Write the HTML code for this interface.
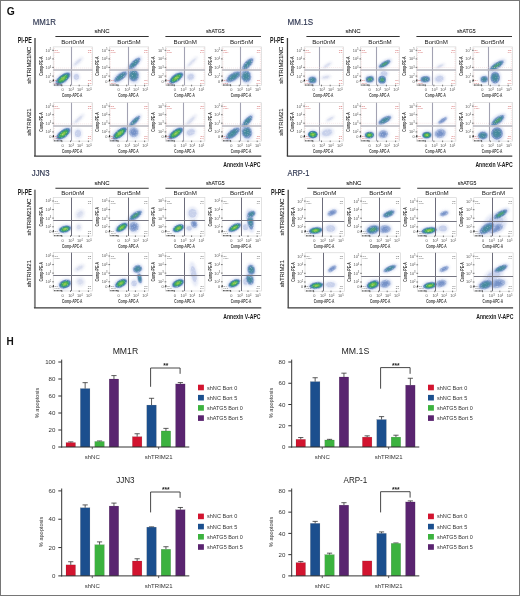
<!DOCTYPE html>
<html><head><meta charset="utf-8"><style>
html,body{margin:0;padding:0;background:#fff;}
svg{display:block;will-change:transform;font-family:"Liberation Sans", sans-serif;}
</style></head><body>
<svg width="520" height="596" viewBox="0 0 520 596">
<defs>
<filter id="b1" x="-50%" y="-50%" width="200%" height="200%"><feGaussianBlur stdDeviation="0.6"/></filter>
<filter id="b2" x="-50%" y="-50%" width="200%" height="200%"><feGaussianBlur stdDeviation="1.2"/></filter>
<filter id="grain" x="-10%" y="-10%" width="120%" height="120%"><feTurbulence type="fractalNoise" baseFrequency="0.8" numOctaves="2" seed="7" result="n"/><feColorMatrix in="n" type="matrix" values="0 0 0 0 0  0 0 0 0 0  0 0 0 0 0  1.1 0 0 0 0.5" result="m"/><feComposite in="SourceGraphic" in2="m" operator="in" result="c"/><feGaussianBlur in="c" stdDeviation="0.25"/></filter>
</defs>
<rect x="0.5" y="0.5" width="519" height="595" fill="#fff" stroke="#767676" stroke-width="1"/>
<text x="6.70" y="15.30" font-size="10.3" fill="#111" font-weight="bold" >G</text>
<text x="6.50" y="344.60" font-size="10.0" fill="#111" font-weight="bold" >H</text>
<text x="32.80" y="24.70" font-size="8.5" fill="#2d3550" textLength="23.10" lengthAdjust="spacingAndGlyphs" stroke="#2d3550" stroke-width="0.15">MM1R</text>
<text x="102.10" y="32.90" font-size="6" fill="#222" text-anchor="middle" textLength="15.10" lengthAdjust="spacingAndGlyphs" stroke="#222" stroke-width="0.1">shNC</text>
<text x="215.30" y="33.00" font-size="6" fill="#222" text-anchor="middle" textLength="18.60" lengthAdjust="spacingAndGlyphs" stroke="#222" stroke-width="0.1">shATG5</text>
<line x1="55.40" y1="36.50" x2="148.70" y2="36.50" stroke="#333" stroke-width="1.1" />
<line x1="165.40" y1="36.50" x2="261.00" y2="36.50" stroke="#333" stroke-width="1.1" />
<text x="72.85" y="43.60" font-size="6" fill="#222" text-anchor="middle" textLength="23.40" lengthAdjust="spacingAndGlyphs" >Bort0nM</text>
<text x="129.05" y="43.60" font-size="6" fill="#222" text-anchor="middle" textLength="23.40" lengthAdjust="spacingAndGlyphs" >Bort5nM</text>
<text x="185.25" y="43.60" font-size="6" fill="#222" text-anchor="middle" textLength="23.40" lengthAdjust="spacingAndGlyphs" >Bort0nM</text>
<text x="241.65" y="43.60" font-size="6" fill="#222" text-anchor="middle" textLength="23.40" lengthAdjust="spacingAndGlyphs" >Bort5nM</text>
<text x="17.80" y="42.90" font-size="8.4" fill="#1a1a1a" font-weight="bold" textLength="14.00" lengthAdjust="spacingAndGlyphs" >PI-PE</text>
<path d="M35.00,38.00V156.10" fill="none" stroke="#7c7c7c" stroke-width="1.9"/>
<path d="M34.05,156.20H261.30" fill="none" stroke="#3a3a3a" stroke-width="1.25"/>
<text x="31.10" y="65.30" font-size="6" fill="#333" text-anchor="middle" textLength="37.00" lengthAdjust="spacingAndGlyphs" transform="rotate(-90 31.10 65.30)" stroke="#333" stroke-width="0.12">shTRIM21NC</text>
<text x="31.10" y="122.00" font-size="6" fill="#333" text-anchor="middle" textLength="27.30" lengthAdjust="spacingAndGlyphs" transform="rotate(-90 31.10 122.00)" stroke="#333" stroke-width="0.12">shTRIM21</text>
<text x="223.30" y="167.00" font-size="7.3" fill="#1a1a1a" font-weight="bold" textLength="37.20" lengthAdjust="spacingAndGlyphs" >Annexin V-APC</text>
<rect x="53.20" y="46.90" width="39.3" height="38.4" fill="#fff" stroke="#cfcfcf" stroke-width="0.6"/>
<g filter="url(#grain)">
<ellipse cx="77.76" cy="61.88" rx="7.07" ry="2.50" fill="#e6e9f4" opacity="0.9" transform="rotate(-42 77.76 61.88)" filter="url(#b2)"/>
<ellipse cx="77.76" cy="61.88" rx="4.13" ry="1.34" fill="#d2d8ec" opacity="0.7" transform="rotate(-42 77.76 61.88)" filter="url(#b1)"/>
<ellipse cx="76.39" cy="76.85" rx="3.93" ry="4.49" fill="#dfe4f4" opacity="0.8" transform="rotate(0 76.39 76.85)" filter="url(#b2)"/>
<ellipse cx="76.39" cy="76.85" rx="2.67" ry="2.94" fill="#b4c0e4" opacity="0.6" transform="rotate(0 76.39 76.85)" filter="url(#b1)"/>
<ellipse cx="63.03" cy="78.58" rx="10.81" ry="5.11" fill="#c3cfec" opacity="0.65" transform="rotate(-37 63.03 78.58)" filter="url(#b2)"/>
<ellipse cx="63.03" cy="78.58" rx="8.65" ry="3.83" fill="#4f78b8" opacity="0.9" transform="rotate(-37 63.03 78.58)" filter="url(#b1)"/>
<ellipse cx="63.03" cy="78.58" rx="7.09" ry="2.99" fill="#2f8c93" opacity="0.95" transform="rotate(-37 63.03 78.58)" filter="url(#b1)"/>
<ellipse cx="63.03" cy="78.58" rx="5.19" ry="2.12" fill="#49b24e" opacity="0.95" transform="rotate(-37 63.03 78.58)" filter="url(#b1)"/>
<ellipse cx="63.03" cy="78.58" rx="2.59" ry="1.09" fill="#a8d04c" opacity="0.8" transform="rotate(-37 63.03 78.58)" filter="url(#b1)"/>
</g>
<path d="M54.10,84.30V47.80M91.60,47.80V84.30" fill="none" stroke="#e6a0a0" stroke-width="0.45" stroke-dasharray="1 1.2" opacity="0.8"/>
<line x1="71.50" y1="46.90" x2="71.50" y2="85.30" stroke="#a2a2b2" stroke-width="1.1" />
<line x1="53.20" y1="70.00" x2="92.50" y2="70.00" stroke="#b6b6be" stroke-width="1.6" />
<path d="M54.20,68.00H91.50" stroke="#ecc4c4" stroke-width="0.4" stroke-dasharray="1 1"/>
<path d="M54.20,85.00H62.20" stroke="#111" stroke-width="0.9" stroke-dasharray="0.9 0.5"/>
<path d="M53.40,79.50V81.10" stroke="#111" stroke-width="1.1"/>
<text x="54.50" y="50.80" font-size="2.5" fill="#cf5a5a" >Q1</text>
<text x="54.50" y="53.20" font-size="2.5" fill="#cf5a5a" textLength="5.00" lengthAdjust="spacingAndGlyphs" >0.000</text>
<text x="91.20" y="50.80" font-size="2.5" fill="#cf5a5a" text-anchor="end" >Q2</text>
<text x="91.20" y="53.20" font-size="2.5" fill="#cf5a5a" text-anchor="end" >1.0</text>
<text x="54.50" y="81.10" font-size="2.5" fill="#cf5a5a" >Q4</text>
<text x="54.50" y="83.50" font-size="2.5" fill="#cf5a5a" >90.0</text>
<text x="91.20" y="81.10" font-size="2.5" fill="#cf5a5a" text-anchor="end" >Q3</text>
<text x="91.20" y="83.50" font-size="2.5" fill="#cf5a5a" text-anchor="end" >5.0</text>
<line x1="52.20" y1="50.30" x2="53.90" y2="50.30" stroke="#444" stroke-width="0.7" />
<text x="51.30" y="51.70" font-size="3.9" fill="#555" text-anchor="end" >10<tspan dy='-1.3' font-size='2.6'>5</tspan></text>
<line x1="52.20" y1="58.90" x2="53.90" y2="58.90" stroke="#444" stroke-width="0.7" />
<text x="51.30" y="60.30" font-size="3.9" fill="#555" text-anchor="end" >10<tspan dy='-1.3' font-size='2.6'>4</tspan></text>
<line x1="52.20" y1="67.40" x2="53.90" y2="67.40" stroke="#444" stroke-width="0.7" />
<text x="51.30" y="68.80" font-size="3.9" fill="#555" text-anchor="end" >10<tspan dy='-1.3' font-size='2.6'>3</tspan></text>
<line x1="52.20" y1="76.10" x2="53.90" y2="76.10" stroke="#444" stroke-width="0.7" />
<text x="51.30" y="77.50" font-size="3.9" fill="#555" text-anchor="end" >10<tspan dy='-1.3' font-size='2.6'>2</tspan></text>
<line x1="52.20" y1="81.10" x2="53.90" y2="81.10" stroke="#444" stroke-width="0.7" />
<text x="51.30" y="82.50" font-size="3.9" fill="#555" text-anchor="end" >0</text>
<line x1="61.90" y1="84.70" x2="61.90" y2="86.30" stroke="#444" stroke-width="0.7" />
<text x="62.50" y="91.20" font-size="3.9" fill="#555" text-anchor="middle" >0</text>
<line x1="70.50" y1="84.70" x2="70.50" y2="86.30" stroke="#444" stroke-width="0.7" />
<text x="71.10" y="91.20" font-size="3.9" fill="#555" text-anchor="middle" >10<tspan dy='-1.3' font-size='2.6'>3</tspan></text>
<line x1="79.20" y1="84.70" x2="79.20" y2="86.30" stroke="#444" stroke-width="0.7" />
<text x="79.80" y="91.20" font-size="3.9" fill="#555" text-anchor="middle" >10<tspan dy='-1.3' font-size='2.6'>4</tspan></text>
<line x1="88.40" y1="84.70" x2="88.40" y2="86.30" stroke="#444" stroke-width="0.7" />
<text x="89.00" y="91.20" font-size="3.9" fill="#555" text-anchor="middle" >10<tspan dy='-1.3' font-size='2.6'>5</tspan></text>
<text x="72.20" y="96.90" font-size="4.8" fill="#3a3a3a" text-anchor="middle" font-weight="bold" textLength="20.50" lengthAdjust="spacingAndGlyphs" >Comp-APC-A</text>
<text x="42.90" y="66.10" font-size="4.8" fill="#3a3a3a" text-anchor="middle" font-weight="bold" textLength="19.50" lengthAdjust="spacingAndGlyphs" transform="rotate(-90 42.90 66.10)" >Comp-PE-A</text>
<rect x="109.40" y="46.90" width="39.3" height="38.4" fill="#fff" stroke="#cfcfcf" stroke-width="0.6"/>
<g filter="url(#grain)">
<ellipse cx="133.57" cy="75.32" rx="6.63" ry="8.35" fill="#c8d2ee" opacity="0.7" transform="rotate(-10 133.57 75.32)" filter="url(#b2)"/>
<ellipse cx="133.57" cy="75.32" rx="5.16" ry="6.22" fill="#6688c0" opacity="0.85" transform="rotate(-10 133.57 75.32)" filter="url(#b1)"/>
<ellipse cx="133.57" cy="75.32" rx="3.83" ry="4.32" fill="#4a8aa2" opacity="0.85" transform="rotate(-10 133.57 75.32)" filter="url(#b1)"/>
<ellipse cx="133.57" cy="75.32" rx="2.21" ry="2.30" fill="#3d8a94" opacity="0.6" transform="rotate(-10 133.57 75.32)" filter="url(#b1)"/>
<ellipse cx="134.36" cy="63.64" rx="10.08" ry="3.90" fill="#c8d2ee" opacity="0.7" transform="rotate(-45 134.36 63.64)" filter="url(#b2)"/>
<ellipse cx="134.36" cy="63.64" rx="7.84" ry="2.90" fill="#6688c0" opacity="0.85" transform="rotate(-45 134.36 63.64)" filter="url(#b1)"/>
<ellipse cx="134.36" cy="63.64" rx="5.82" ry="2.02" fill="#4a8aa2" opacity="0.85" transform="rotate(-45 134.36 63.64)" filter="url(#b1)"/>
<ellipse cx="134.36" cy="63.64" rx="3.36" ry="1.08" fill="#3d8a94" opacity="0.6" transform="rotate(-45 134.36 63.64)" filter="url(#b1)"/>
<ellipse cx="120.60" cy="76.74" rx="10.08" ry="4.45" fill="#c8d2ee" opacity="0.7" transform="rotate(-37 120.60 76.74)" filter="url(#b2)"/>
<ellipse cx="120.60" cy="76.74" rx="7.84" ry="3.32" fill="#6688c0" opacity="0.85" transform="rotate(-37 120.60 76.74)" filter="url(#b1)"/>
<ellipse cx="120.60" cy="76.74" rx="5.82" ry="2.30" fill="#4a8aa2" opacity="0.85" transform="rotate(-37 120.60 76.74)" filter="url(#b1)"/>
<ellipse cx="120.60" cy="76.74" rx="3.36" ry="1.23" fill="#3d8a94" opacity="0.6" transform="rotate(-37 120.60 76.74)" filter="url(#b1)"/>
</g>
<path d="M110.30,84.30V47.80M147.80,47.80V84.30" fill="none" stroke="#e6a0a0" stroke-width="0.45" stroke-dasharray="1 1.2" opacity="0.8"/>
<line x1="128.50" y1="46.90" x2="128.50" y2="85.30" stroke="#a2a2b2" stroke-width="1.1" />
<line x1="109.40" y1="70.00" x2="148.70" y2="70.00" stroke="#b6b6be" stroke-width="1.6" />
<path d="M110.40,68.00H147.70" stroke="#ecc4c4" stroke-width="0.4" stroke-dasharray="1 1"/>
<path d="M110.40,85.00H118.40" stroke="#111" stroke-width="0.9" stroke-dasharray="0.9 0.5"/>
<path d="M109.60,79.50V81.10" stroke="#111" stroke-width="1.1"/>
<text x="110.70" y="50.80" font-size="2.5" fill="#cf5a5a" >Q1</text>
<text x="110.70" y="53.20" font-size="2.5" fill="#cf5a5a" textLength="5.00" lengthAdjust="spacingAndGlyphs" >0.000</text>
<text x="147.40" y="50.80" font-size="2.5" fill="#cf5a5a" text-anchor="end" >Q2</text>
<text x="147.40" y="53.20" font-size="2.5" fill="#cf5a5a" text-anchor="end" >1.0</text>
<text x="110.70" y="81.10" font-size="2.5" fill="#cf5a5a" >Q4</text>
<text x="110.70" y="83.50" font-size="2.5" fill="#cf5a5a" >90.0</text>
<text x="147.40" y="81.10" font-size="2.5" fill="#cf5a5a" text-anchor="end" >Q3</text>
<text x="147.40" y="83.50" font-size="2.5" fill="#cf5a5a" text-anchor="end" >5.0</text>
<line x1="108.40" y1="50.30" x2="110.10" y2="50.30" stroke="#444" stroke-width="0.7" />
<text x="107.50" y="51.70" font-size="3.9" fill="#555" text-anchor="end" >10<tspan dy='-1.3' font-size='2.6'>5</tspan></text>
<line x1="108.40" y1="58.90" x2="110.10" y2="58.90" stroke="#444" stroke-width="0.7" />
<text x="107.50" y="60.30" font-size="3.9" fill="#555" text-anchor="end" >10<tspan dy='-1.3' font-size='2.6'>4</tspan></text>
<line x1="108.40" y1="67.40" x2="110.10" y2="67.40" stroke="#444" stroke-width="0.7" />
<text x="107.50" y="68.80" font-size="3.9" fill="#555" text-anchor="end" >10<tspan dy='-1.3' font-size='2.6'>3</tspan></text>
<line x1="108.40" y1="76.10" x2="110.10" y2="76.10" stroke="#444" stroke-width="0.7" />
<text x="107.50" y="77.50" font-size="3.9" fill="#555" text-anchor="end" >10<tspan dy='-1.3' font-size='2.6'>2</tspan></text>
<line x1="108.40" y1="81.10" x2="110.10" y2="81.10" stroke="#444" stroke-width="0.7" />
<text x="107.50" y="82.50" font-size="3.9" fill="#555" text-anchor="end" >0</text>
<line x1="118.10" y1="84.70" x2="118.10" y2="86.30" stroke="#444" stroke-width="0.7" />
<text x="118.70" y="91.20" font-size="3.9" fill="#555" text-anchor="middle" >0</text>
<line x1="126.70" y1="84.70" x2="126.70" y2="86.30" stroke="#444" stroke-width="0.7" />
<text x="127.30" y="91.20" font-size="3.9" fill="#555" text-anchor="middle" >10<tspan dy='-1.3' font-size='2.6'>3</tspan></text>
<line x1="135.40" y1="84.70" x2="135.40" y2="86.30" stroke="#444" stroke-width="0.7" />
<text x="136.00" y="91.20" font-size="3.9" fill="#555" text-anchor="middle" >10<tspan dy='-1.3' font-size='2.6'>4</tspan></text>
<line x1="144.60" y1="84.70" x2="144.60" y2="86.30" stroke="#444" stroke-width="0.7" />
<text x="145.20" y="91.20" font-size="3.9" fill="#555" text-anchor="middle" >10<tspan dy='-1.3' font-size='2.6'>5</tspan></text>
<text x="128.40" y="96.90" font-size="4.8" fill="#3a3a3a" text-anchor="middle" font-weight="bold" textLength="20.50" lengthAdjust="spacingAndGlyphs" >Comp-APC-A</text>
<text x="99.10" y="66.10" font-size="4.8" fill="#3a3a3a" text-anchor="middle" font-weight="bold" textLength="19.50" lengthAdjust="spacingAndGlyphs" transform="rotate(-90 99.10 66.10)" >Comp-PE-A</text>
<rect x="165.60" y="46.90" width="39.3" height="38.4" fill="#fff" stroke="#cfcfcf" stroke-width="0.6"/>
<g filter="url(#grain)">
<ellipse cx="191.81" cy="62.26" rx="8.35" ry="2.00" fill="#e6e9f4" opacity="0.9" transform="rotate(-45 191.81 62.26)" filter="url(#b2)"/>
<ellipse cx="191.81" cy="62.26" rx="4.87" ry="1.08" fill="#d2d8ec" opacity="0.7" transform="rotate(-45 191.81 62.26)" filter="url(#b1)"/>
<ellipse cx="190.75" cy="76.85" rx="4.91" ry="4.49" fill="#dfe4f4" opacity="0.8" transform="rotate(-30 190.75 76.85)" filter="url(#b2)"/>
<ellipse cx="190.75" cy="76.85" rx="3.34" ry="2.94" fill="#b4c0e4" opacity="0.6" transform="rotate(-30 190.75 76.85)" filter="url(#b1)"/>
<ellipse cx="176.21" cy="78.00" rx="10.32" ry="4.84" fill="#c3cfec" opacity="0.65" transform="rotate(-36 176.21 78.00)" filter="url(#b2)"/>
<ellipse cx="176.21" cy="78.00" rx="8.25" ry="3.63" fill="#4f78b8" opacity="0.9" transform="rotate(-36 176.21 78.00)" filter="url(#b1)"/>
<ellipse cx="176.21" cy="78.00" rx="6.77" ry="2.83" fill="#2f8c93" opacity="0.95" transform="rotate(-36 176.21 78.00)" filter="url(#b1)"/>
<ellipse cx="176.21" cy="78.00" rx="4.95" ry="2.00" fill="#49b24e" opacity="0.95" transform="rotate(-36 176.21 78.00)" filter="url(#b1)"/>
<ellipse cx="176.21" cy="78.00" rx="2.48" ry="1.04" fill="#a8d04c" opacity="0.8" transform="rotate(-36 176.21 78.00)" filter="url(#b1)"/>
</g>
<path d="M166.50,84.30V47.80M204.00,47.80V84.30" fill="none" stroke="#e6a0a0" stroke-width="0.45" stroke-dasharray="1 1.2" opacity="0.8"/>
<line x1="184.50" y1="46.90" x2="184.50" y2="85.30" stroke="#a2a2b2" stroke-width="1.1" />
<line x1="165.60" y1="70.00" x2="204.90" y2="70.00" stroke="#b6b6be" stroke-width="1.6" />
<path d="M166.60,68.00H203.90" stroke="#ecc4c4" stroke-width="0.4" stroke-dasharray="1 1"/>
<path d="M166.60,85.00H174.60" stroke="#111" stroke-width="0.9" stroke-dasharray="0.9 0.5"/>
<path d="M165.80,79.50V81.10" stroke="#111" stroke-width="1.1"/>
<text x="166.90" y="50.80" font-size="2.5" fill="#cf5a5a" >Q1</text>
<text x="166.90" y="53.20" font-size="2.5" fill="#cf5a5a" textLength="5.00" lengthAdjust="spacingAndGlyphs" >0.000</text>
<text x="203.60" y="50.80" font-size="2.5" fill="#cf5a5a" text-anchor="end" >Q2</text>
<text x="203.60" y="53.20" font-size="2.5" fill="#cf5a5a" text-anchor="end" >1.0</text>
<text x="166.90" y="81.10" font-size="2.5" fill="#cf5a5a" >Q4</text>
<text x="166.90" y="83.50" font-size="2.5" fill="#cf5a5a" >90.0</text>
<text x="203.60" y="81.10" font-size="2.5" fill="#cf5a5a" text-anchor="end" >Q3</text>
<text x="203.60" y="83.50" font-size="2.5" fill="#cf5a5a" text-anchor="end" >5.0</text>
<line x1="164.60" y1="50.30" x2="166.30" y2="50.30" stroke="#444" stroke-width="0.7" />
<text x="163.70" y="51.70" font-size="3.9" fill="#555" text-anchor="end" >10<tspan dy='-1.3' font-size='2.6'>5</tspan></text>
<line x1="164.60" y1="58.90" x2="166.30" y2="58.90" stroke="#444" stroke-width="0.7" />
<text x="163.70" y="60.30" font-size="3.9" fill="#555" text-anchor="end" >10<tspan dy='-1.3' font-size='2.6'>4</tspan></text>
<line x1="164.60" y1="67.40" x2="166.30" y2="67.40" stroke="#444" stroke-width="0.7" />
<text x="163.70" y="68.80" font-size="3.9" fill="#555" text-anchor="end" >10<tspan dy='-1.3' font-size='2.6'>3</tspan></text>
<line x1="164.60" y1="76.10" x2="166.30" y2="76.10" stroke="#444" stroke-width="0.7" />
<text x="163.70" y="77.50" font-size="3.9" fill="#555" text-anchor="end" >10<tspan dy='-1.3' font-size='2.6'>2</tspan></text>
<line x1="164.60" y1="81.10" x2="166.30" y2="81.10" stroke="#444" stroke-width="0.7" />
<text x="163.70" y="82.50" font-size="3.9" fill="#555" text-anchor="end" >0</text>
<line x1="174.30" y1="84.70" x2="174.30" y2="86.30" stroke="#444" stroke-width="0.7" />
<text x="174.90" y="91.20" font-size="3.9" fill="#555" text-anchor="middle" >0</text>
<line x1="182.90" y1="84.70" x2="182.90" y2="86.30" stroke="#444" stroke-width="0.7" />
<text x="183.50" y="91.20" font-size="3.9" fill="#555" text-anchor="middle" >10<tspan dy='-1.3' font-size='2.6'>3</tspan></text>
<line x1="191.60" y1="84.70" x2="191.60" y2="86.30" stroke="#444" stroke-width="0.7" />
<text x="192.20" y="91.20" font-size="3.9" fill="#555" text-anchor="middle" >10<tspan dy='-1.3' font-size='2.6'>4</tspan></text>
<line x1="200.80" y1="84.70" x2="200.80" y2="86.30" stroke="#444" stroke-width="0.7" />
<text x="201.40" y="91.20" font-size="3.9" fill="#555" text-anchor="middle" >10<tspan dy='-1.3' font-size='2.6'>5</tspan></text>
<text x="184.60" y="96.90" font-size="4.8" fill="#3a3a3a" text-anchor="middle" font-weight="bold" textLength="20.50" lengthAdjust="spacingAndGlyphs" >Comp-APC-A</text>
<text x="155.30" y="66.10" font-size="4.8" fill="#3a3a3a" text-anchor="middle" font-weight="bold" textLength="19.50" lengthAdjust="spacingAndGlyphs" transform="rotate(-90 155.30 66.10)" >Comp-PE-A</text>
<rect x="222.00" y="46.90" width="39.3" height="38.4" fill="#fff" stroke="#cfcfcf" stroke-width="0.6"/>
<g filter="url(#grain)">
<ellipse cx="245.97" cy="76.08" rx="6.37" ry="8.35" fill="#c8d2ee" opacity="0.7" transform="rotate(-15 245.97 76.08)" filter="url(#b2)"/>
<ellipse cx="245.97" cy="76.08" rx="4.95" ry="6.22" fill="#6688c0" opacity="0.85" transform="rotate(-15 245.97 76.08)" filter="url(#b1)"/>
<ellipse cx="245.97" cy="76.08" rx="3.68" ry="4.32" fill="#4a8aa2" opacity="0.85" transform="rotate(-15 245.97 76.08)" filter="url(#b1)"/>
<ellipse cx="245.97" cy="76.08" rx="2.12" ry="2.30" fill="#3d8a94" opacity="0.6" transform="rotate(-15 245.97 76.08)" filter="url(#b1)"/>
<ellipse cx="247.66" cy="64.18" rx="9.55" ry="4.18" fill="#c8d2ee" opacity="0.7" transform="rotate(-48 247.66 64.18)" filter="url(#b2)"/>
<ellipse cx="247.66" cy="64.18" rx="7.43" ry="3.11" fill="#6688c0" opacity="0.85" transform="rotate(-48 247.66 64.18)" filter="url(#b1)"/>
<ellipse cx="247.66" cy="64.18" rx="5.52" ry="2.16" fill="#4a8aa2" opacity="0.85" transform="rotate(-48 247.66 64.18)" filter="url(#b1)"/>
<ellipse cx="247.66" cy="64.18" rx="3.18" ry="1.15" fill="#3d8a94" opacity="0.6" transform="rotate(-48 247.66 64.18)" filter="url(#b1)"/>
<ellipse cx="233.59" cy="76.78" rx="10.61" ry="5.01" fill="#c8d2ee" opacity="0.7" transform="rotate(-32 233.59 76.78)" filter="url(#b2)"/>
<ellipse cx="233.59" cy="76.78" rx="8.25" ry="3.73" fill="#6688c0" opacity="0.85" transform="rotate(-32 233.59 76.78)" filter="url(#b1)"/>
<ellipse cx="233.59" cy="76.78" rx="6.13" ry="2.59" fill="#4a8aa2" opacity="0.85" transform="rotate(-32 233.59 76.78)" filter="url(#b1)"/>
<ellipse cx="233.59" cy="76.78" rx="3.54" ry="1.38" fill="#3d8a94" opacity="0.6" transform="rotate(-32 233.59 76.78)" filter="url(#b1)"/>
</g>
<path d="M222.90,84.30V47.80M260.40,47.80V84.30" fill="none" stroke="#e6a0a0" stroke-width="0.45" stroke-dasharray="1 1.2" opacity="0.8"/>
<line x1="240.50" y1="46.90" x2="240.50" y2="85.30" stroke="#a2a2b2" stroke-width="1.1" />
<line x1="222.00" y1="70.00" x2="261.30" y2="70.00" stroke="#b6b6be" stroke-width="1.6" />
<path d="M223.00,68.00H260.30" stroke="#ecc4c4" stroke-width="0.4" stroke-dasharray="1 1"/>
<path d="M223.00,85.00H231.00" stroke="#111" stroke-width="0.9" stroke-dasharray="0.9 0.5"/>
<path d="M222.20,79.50V81.10" stroke="#111" stroke-width="1.1"/>
<text x="223.30" y="50.80" font-size="2.5" fill="#cf5a5a" >Q1</text>
<text x="223.30" y="53.20" font-size="2.5" fill="#cf5a5a" textLength="5.00" lengthAdjust="spacingAndGlyphs" >0.000</text>
<text x="260.00" y="50.80" font-size="2.5" fill="#cf5a5a" text-anchor="end" >Q2</text>
<text x="260.00" y="53.20" font-size="2.5" fill="#cf5a5a" text-anchor="end" >1.0</text>
<text x="223.30" y="81.10" font-size="2.5" fill="#cf5a5a" >Q4</text>
<text x="223.30" y="83.50" font-size="2.5" fill="#cf5a5a" >90.0</text>
<text x="260.00" y="81.10" font-size="2.5" fill="#cf5a5a" text-anchor="end" >Q3</text>
<text x="260.00" y="83.50" font-size="2.5" fill="#cf5a5a" text-anchor="end" >5.0</text>
<line x1="221.00" y1="50.30" x2="222.70" y2="50.30" stroke="#444" stroke-width="0.7" />
<text x="220.10" y="51.70" font-size="3.9" fill="#555" text-anchor="end" >10<tspan dy='-1.3' font-size='2.6'>5</tspan></text>
<line x1="221.00" y1="58.90" x2="222.70" y2="58.90" stroke="#444" stroke-width="0.7" />
<text x="220.10" y="60.30" font-size="3.9" fill="#555" text-anchor="end" >10<tspan dy='-1.3' font-size='2.6'>4</tspan></text>
<line x1="221.00" y1="67.40" x2="222.70" y2="67.40" stroke="#444" stroke-width="0.7" />
<text x="220.10" y="68.80" font-size="3.9" fill="#555" text-anchor="end" >10<tspan dy='-1.3' font-size='2.6'>3</tspan></text>
<line x1="221.00" y1="76.10" x2="222.70" y2="76.10" stroke="#444" stroke-width="0.7" />
<text x="220.10" y="77.50" font-size="3.9" fill="#555" text-anchor="end" >10<tspan dy='-1.3' font-size='2.6'>2</tspan></text>
<line x1="221.00" y1="81.10" x2="222.70" y2="81.10" stroke="#444" stroke-width="0.7" />
<text x="220.10" y="82.50" font-size="3.9" fill="#555" text-anchor="end" >0</text>
<line x1="230.70" y1="84.70" x2="230.70" y2="86.30" stroke="#444" stroke-width="0.7" />
<text x="231.30" y="91.20" font-size="3.9" fill="#555" text-anchor="middle" >0</text>
<line x1="239.30" y1="84.70" x2="239.30" y2="86.30" stroke="#444" stroke-width="0.7" />
<text x="239.90" y="91.20" font-size="3.9" fill="#555" text-anchor="middle" >10<tspan dy='-1.3' font-size='2.6'>3</tspan></text>
<line x1="248.00" y1="84.70" x2="248.00" y2="86.30" stroke="#444" stroke-width="0.7" />
<text x="248.60" y="91.20" font-size="3.9" fill="#555" text-anchor="middle" >10<tspan dy='-1.3' font-size='2.6'>4</tspan></text>
<line x1="257.20" y1="84.70" x2="257.20" y2="86.30" stroke="#444" stroke-width="0.7" />
<text x="257.80" y="91.20" font-size="3.9" fill="#555" text-anchor="middle" >10<tspan dy='-1.3' font-size='2.6'>5</tspan></text>
<text x="241.00" y="96.90" font-size="4.8" fill="#3a3a3a" text-anchor="middle" font-weight="bold" textLength="20.50" lengthAdjust="spacingAndGlyphs" >Comp-APC-A</text>
<text x="211.70" y="66.10" font-size="4.8" fill="#3a3a3a" text-anchor="middle" font-weight="bold" textLength="19.50" lengthAdjust="spacingAndGlyphs" transform="rotate(-90 211.70 66.10)" >Comp-PE-A</text>
<rect x="53.20" y="102.70" width="39.3" height="38.4" fill="#fff" stroke="#cfcfcf" stroke-width="0.6"/>
<g filter="url(#grain)">
<ellipse cx="78.59" cy="119.21" rx="8.02" ry="2.25" fill="#e6e9f4" opacity="0.9" transform="rotate(-42 78.59 119.21)" filter="url(#b2)"/>
<ellipse cx="78.59" cy="119.21" rx="4.68" ry="1.21" fill="#d2d8ec" opacity="0.7" transform="rotate(-42 78.59 119.21)" filter="url(#b1)"/>
<ellipse cx="77.96" cy="133.42" rx="4.42" ry="5.49" fill="#dfe4f4" opacity="0.8" transform="rotate(0 77.96 133.42)" filter="url(#b2)"/>
<ellipse cx="77.96" cy="133.42" rx="3.01" ry="3.59" fill="#b4c0e4" opacity="0.6" transform="rotate(0 77.96 133.42)" filter="url(#b1)"/>
<ellipse cx="63.42" cy="133.80" rx="10.22" ry="5.11" fill="#c3cfec" opacity="0.65" transform="rotate(-37 63.42 133.80)" filter="url(#b2)"/>
<ellipse cx="63.42" cy="133.80" rx="8.17" ry="3.83" fill="#4f78b8" opacity="0.9" transform="rotate(-37 63.42 133.80)" filter="url(#b1)"/>
<ellipse cx="63.42" cy="133.80" rx="6.70" ry="2.99" fill="#2f8c93" opacity="0.95" transform="rotate(-37 63.42 133.80)" filter="url(#b1)"/>
<ellipse cx="63.42" cy="133.80" rx="4.90" ry="2.12" fill="#49b24e" opacity="0.95" transform="rotate(-37 63.42 133.80)" filter="url(#b1)"/>
<ellipse cx="63.42" cy="133.80" rx="2.45" ry="1.09" fill="#a8d04c" opacity="0.8" transform="rotate(-37 63.42 133.80)" filter="url(#b1)"/>
</g>
<path d="M54.10,140.10V103.60M91.60,103.60V140.10" fill="none" stroke="#e6a0a0" stroke-width="0.45" stroke-dasharray="1 1.2" opacity="0.8"/>
<line x1="71.50" y1="102.70" x2="71.50" y2="141.10" stroke="#a2a2b2" stroke-width="1.1" />
<line x1="53.20" y1="126.00" x2="92.50" y2="126.00" stroke="#b6b6be" stroke-width="1.6" />
<path d="M54.20,123.80H91.50" stroke="#ecc4c4" stroke-width="0.4" stroke-dasharray="1 1"/>
<path d="M54.20,140.80H62.20" stroke="#111" stroke-width="0.9" stroke-dasharray="0.9 0.5"/>
<path d="M53.40,135.30V136.90" stroke="#111" stroke-width="1.1"/>
<text x="54.50" y="106.60" font-size="2.5" fill="#cf5a5a" >Q1</text>
<text x="54.50" y="109.00" font-size="2.5" fill="#cf5a5a" textLength="5.00" lengthAdjust="spacingAndGlyphs" >0.000</text>
<text x="91.20" y="106.60" font-size="2.5" fill="#cf5a5a" text-anchor="end" >Q2</text>
<text x="91.20" y="109.00" font-size="2.5" fill="#cf5a5a" text-anchor="end" >1.0</text>
<text x="54.50" y="136.90" font-size="2.5" fill="#cf5a5a" >Q4</text>
<text x="54.50" y="139.30" font-size="2.5" fill="#cf5a5a" >90.0</text>
<text x="91.20" y="136.90" font-size="2.5" fill="#cf5a5a" text-anchor="end" >Q3</text>
<text x="91.20" y="139.30" font-size="2.5" fill="#cf5a5a" text-anchor="end" >5.0</text>
<line x1="52.20" y1="106.10" x2="53.90" y2="106.10" stroke="#444" stroke-width="0.7" />
<text x="51.30" y="107.50" font-size="3.9" fill="#555" text-anchor="end" >10<tspan dy='-1.3' font-size='2.6'>5</tspan></text>
<line x1="52.20" y1="114.70" x2="53.90" y2="114.70" stroke="#444" stroke-width="0.7" />
<text x="51.30" y="116.10" font-size="3.9" fill="#555" text-anchor="end" >10<tspan dy='-1.3' font-size='2.6'>4</tspan></text>
<line x1="52.20" y1="123.20" x2="53.90" y2="123.20" stroke="#444" stroke-width="0.7" />
<text x="51.30" y="124.60" font-size="3.9" fill="#555" text-anchor="end" >10<tspan dy='-1.3' font-size='2.6'>3</tspan></text>
<line x1="52.20" y1="131.90" x2="53.90" y2="131.90" stroke="#444" stroke-width="0.7" />
<text x="51.30" y="133.30" font-size="3.9" fill="#555" text-anchor="end" >10<tspan dy='-1.3' font-size='2.6'>2</tspan></text>
<line x1="52.20" y1="136.90" x2="53.90" y2="136.90" stroke="#444" stroke-width="0.7" />
<text x="51.30" y="138.30" font-size="3.9" fill="#555" text-anchor="end" >0</text>
<line x1="61.90" y1="140.50" x2="61.90" y2="142.10" stroke="#444" stroke-width="0.7" />
<text x="62.50" y="147.00" font-size="3.9" fill="#555" text-anchor="middle" >0</text>
<line x1="70.50" y1="140.50" x2="70.50" y2="142.10" stroke="#444" stroke-width="0.7" />
<text x="71.10" y="147.00" font-size="3.9" fill="#555" text-anchor="middle" >10<tspan dy='-1.3' font-size='2.6'>3</tspan></text>
<line x1="79.20" y1="140.50" x2="79.20" y2="142.10" stroke="#444" stroke-width="0.7" />
<text x="79.80" y="147.00" font-size="3.9" fill="#555" text-anchor="middle" >10<tspan dy='-1.3' font-size='2.6'>4</tspan></text>
<line x1="88.40" y1="140.50" x2="88.40" y2="142.10" stroke="#444" stroke-width="0.7" />
<text x="89.00" y="147.00" font-size="3.9" fill="#555" text-anchor="middle" >10<tspan dy='-1.3' font-size='2.6'>5</tspan></text>
<text x="72.20" y="152.70" font-size="4.8" fill="#3a3a3a" text-anchor="middle" font-weight="bold" textLength="20.50" lengthAdjust="spacingAndGlyphs" >Comp-APC-A</text>
<text x="42.90" y="121.90" font-size="4.8" fill="#3a3a3a" text-anchor="middle" font-weight="bold" textLength="19.50" lengthAdjust="spacingAndGlyphs" transform="rotate(-90 42.90 121.90)" >Comp-PE-A</text>
<rect x="109.40" y="102.70" width="39.3" height="38.4" fill="#fff" stroke="#cfcfcf" stroke-width="0.6"/>
<g filter="url(#grain)">
<ellipse cx="133.77" cy="132.27" rx="6.13" ry="6.99" fill="#d2daf0" opacity="0.7" transform="rotate(-30 133.77 132.27)" filter="url(#b2)"/>
<ellipse cx="133.77" cy="132.27" rx="4.72" ry="4.99" fill="#7d97cc" opacity="0.7" transform="rotate(-30 133.77 132.27)" filter="url(#b1)"/>
<ellipse cx="133.77" cy="132.27" rx="2.83" ry="3.00" fill="#5d7fbd" opacity="0.6" transform="rotate(-30 133.77 132.27)" filter="url(#b1)"/>
<ellipse cx="134.63" cy="121.36" rx="9.50" ry="3.34" fill="#c8d2ee" opacity="0.7" transform="rotate(-45 134.63 121.36)" filter="url(#b2)"/>
<ellipse cx="134.63" cy="121.36" rx="7.39" ry="2.49" fill="#6688c0" opacity="0.85" transform="rotate(-45 134.63 121.36)" filter="url(#b1)"/>
<ellipse cx="134.63" cy="121.36" rx="5.49" ry="1.73" fill="#4a8aa2" opacity="0.85" transform="rotate(-45 134.63 121.36)" filter="url(#b1)"/>
<ellipse cx="134.63" cy="121.36" rx="3.17" ry="0.92" fill="#3d8a94" opacity="0.6" transform="rotate(-45 134.63 121.36)" filter="url(#b1)"/>
<ellipse cx="119.74" cy="133.42" rx="10.66" ry="5.05" fill="#c3cfec" opacity="0.65" transform="rotate(-39 119.74 133.42)" filter="url(#b2)"/>
<ellipse cx="119.74" cy="133.42" rx="8.53" ry="3.79" fill="#4f78b8" opacity="0.9" transform="rotate(-39 119.74 133.42)" filter="url(#b1)"/>
<ellipse cx="119.74" cy="133.42" rx="6.99" ry="2.96" fill="#2f8c93" opacity="0.95" transform="rotate(-39 119.74 133.42)" filter="url(#b1)"/>
<ellipse cx="119.74" cy="133.42" rx="5.12" ry="2.09" fill="#49b24e" opacity="0.95" transform="rotate(-39 119.74 133.42)" filter="url(#b1)"/>
<ellipse cx="119.74" cy="133.42" rx="2.56" ry="1.08" fill="#a8d04c" opacity="0.8" transform="rotate(-39 119.74 133.42)" filter="url(#b1)"/>
</g>
<path d="M110.30,140.10V103.60M147.80,103.60V140.10" fill="none" stroke="#e6a0a0" stroke-width="0.45" stroke-dasharray="1 1.2" opacity="0.8"/>
<line x1="127.50" y1="102.70" x2="127.50" y2="141.10" stroke="#a2a2b2" stroke-width="1.1" />
<line x1="109.40" y1="126.00" x2="148.70" y2="126.00" stroke="#b6b6be" stroke-width="1.6" />
<path d="M110.40,123.80H147.70" stroke="#ecc4c4" stroke-width="0.4" stroke-dasharray="1 1"/>
<path d="M110.40,140.80H118.40" stroke="#111" stroke-width="0.9" stroke-dasharray="0.9 0.5"/>
<path d="M109.60,135.30V136.90" stroke="#111" stroke-width="1.1"/>
<text x="110.70" y="106.60" font-size="2.5" fill="#cf5a5a" >Q1</text>
<text x="110.70" y="109.00" font-size="2.5" fill="#cf5a5a" textLength="5.00" lengthAdjust="spacingAndGlyphs" >0.000</text>
<text x="147.40" y="106.60" font-size="2.5" fill="#cf5a5a" text-anchor="end" >Q2</text>
<text x="147.40" y="109.00" font-size="2.5" fill="#cf5a5a" text-anchor="end" >1.0</text>
<text x="110.70" y="136.90" font-size="2.5" fill="#cf5a5a" >Q4</text>
<text x="110.70" y="139.30" font-size="2.5" fill="#cf5a5a" >90.0</text>
<text x="147.40" y="136.90" font-size="2.5" fill="#cf5a5a" text-anchor="end" >Q3</text>
<text x="147.40" y="139.30" font-size="2.5" fill="#cf5a5a" text-anchor="end" >5.0</text>
<line x1="108.40" y1="106.10" x2="110.10" y2="106.10" stroke="#444" stroke-width="0.7" />
<text x="107.50" y="107.50" font-size="3.9" fill="#555" text-anchor="end" >10<tspan dy='-1.3' font-size='2.6'>5</tspan></text>
<line x1="108.40" y1="114.70" x2="110.10" y2="114.70" stroke="#444" stroke-width="0.7" />
<text x="107.50" y="116.10" font-size="3.9" fill="#555" text-anchor="end" >10<tspan dy='-1.3' font-size='2.6'>4</tspan></text>
<line x1="108.40" y1="123.20" x2="110.10" y2="123.20" stroke="#444" stroke-width="0.7" />
<text x="107.50" y="124.60" font-size="3.9" fill="#555" text-anchor="end" >10<tspan dy='-1.3' font-size='2.6'>3</tspan></text>
<line x1="108.40" y1="131.90" x2="110.10" y2="131.90" stroke="#444" stroke-width="0.7" />
<text x="107.50" y="133.30" font-size="3.9" fill="#555" text-anchor="end" >10<tspan dy='-1.3' font-size='2.6'>2</tspan></text>
<line x1="108.40" y1="136.90" x2="110.10" y2="136.90" stroke="#444" stroke-width="0.7" />
<text x="107.50" y="138.30" font-size="3.9" fill="#555" text-anchor="end" >0</text>
<line x1="118.10" y1="140.50" x2="118.10" y2="142.10" stroke="#444" stroke-width="0.7" />
<text x="118.70" y="147.00" font-size="3.9" fill="#555" text-anchor="middle" >0</text>
<line x1="126.70" y1="140.50" x2="126.70" y2="142.10" stroke="#444" stroke-width="0.7" />
<text x="127.30" y="147.00" font-size="3.9" fill="#555" text-anchor="middle" >10<tspan dy='-1.3' font-size='2.6'>3</tspan></text>
<line x1="135.40" y1="140.50" x2="135.40" y2="142.10" stroke="#444" stroke-width="0.7" />
<text x="136.00" y="147.00" font-size="3.9" fill="#555" text-anchor="middle" >10<tspan dy='-1.3' font-size='2.6'>4</tspan></text>
<line x1="144.60" y1="140.50" x2="144.60" y2="142.10" stroke="#444" stroke-width="0.7" />
<text x="145.20" y="147.00" font-size="3.9" fill="#555" text-anchor="middle" >10<tspan dy='-1.3' font-size='2.6'>5</tspan></text>
<text x="128.40" y="152.70" font-size="4.8" fill="#3a3a3a" text-anchor="middle" font-weight="bold" textLength="20.50" lengthAdjust="spacingAndGlyphs" >Comp-APC-A</text>
<text x="99.10" y="121.90" font-size="4.8" fill="#3a3a3a" text-anchor="middle" font-weight="bold" textLength="19.50" lengthAdjust="spacingAndGlyphs" transform="rotate(-90 99.10 121.90)" >Comp-PE-A</text>
<rect x="165.60" y="102.70" width="39.3" height="38.4" fill="#fff" stroke="#cfcfcf" stroke-width="0.6"/>
<g filter="url(#grain)">
<ellipse cx="190.83" cy="120.56" rx="8.49" ry="2.50" fill="#e6e9f4" opacity="0.9" transform="rotate(-45 190.83 120.56)" filter="url(#b2)"/>
<ellipse cx="190.83" cy="120.56" rx="4.95" ry="1.34" fill="#d2d8ec" opacity="0.7" transform="rotate(-45 190.83 120.56)" filter="url(#b1)"/>
<ellipse cx="190.75" cy="132.27" rx="5.89" ry="4.49" fill="#dfe4f4" opacity="0.8" transform="rotate(-20 190.75 132.27)" filter="url(#b2)"/>
<ellipse cx="190.75" cy="132.27" rx="4.01" ry="2.94" fill="#b4c0e4" opacity="0.6" transform="rotate(-20 190.75 132.27)" filter="url(#b1)"/>
<ellipse cx="175.78" cy="133.42" rx="10.56" ry="4.84" fill="#c3cfec" opacity="0.65" transform="rotate(-36 175.78 133.42)" filter="url(#b2)"/>
<ellipse cx="175.78" cy="133.42" rx="8.45" ry="3.63" fill="#4f78b8" opacity="0.9" transform="rotate(-36 175.78 133.42)" filter="url(#b1)"/>
<ellipse cx="175.78" cy="133.42" rx="6.93" ry="2.83" fill="#2f8c93" opacity="0.95" transform="rotate(-36 175.78 133.42)" filter="url(#b1)"/>
<ellipse cx="175.78" cy="133.42" rx="5.07" ry="2.00" fill="#49b24e" opacity="0.95" transform="rotate(-36 175.78 133.42)" filter="url(#b1)"/>
<ellipse cx="175.78" cy="133.42" rx="2.53" ry="1.04" fill="#a8d04c" opacity="0.8" transform="rotate(-36 175.78 133.42)" filter="url(#b1)"/>
</g>
<path d="M166.50,140.10V103.60M204.00,103.60V140.10" fill="none" stroke="#e6a0a0" stroke-width="0.45" stroke-dasharray="1 1.2" opacity="0.8"/>
<line x1="183.50" y1="102.70" x2="183.50" y2="141.10" stroke="#a2a2b2" stroke-width="1.1" />
<line x1="165.60" y1="126.00" x2="204.90" y2="126.00" stroke="#b6b6be" stroke-width="1.6" />
<path d="M166.60,123.80H203.90" stroke="#ecc4c4" stroke-width="0.4" stroke-dasharray="1 1"/>
<path d="M166.60,140.80H174.60" stroke="#111" stroke-width="0.9" stroke-dasharray="0.9 0.5"/>
<path d="M165.80,135.30V136.90" stroke="#111" stroke-width="1.1"/>
<text x="166.90" y="106.60" font-size="2.5" fill="#cf5a5a" >Q1</text>
<text x="166.90" y="109.00" font-size="2.5" fill="#cf5a5a" textLength="5.00" lengthAdjust="spacingAndGlyphs" >0.000</text>
<text x="203.60" y="106.60" font-size="2.5" fill="#cf5a5a" text-anchor="end" >Q2</text>
<text x="203.60" y="109.00" font-size="2.5" fill="#cf5a5a" text-anchor="end" >1.0</text>
<text x="166.90" y="136.90" font-size="2.5" fill="#cf5a5a" >Q4</text>
<text x="166.90" y="139.30" font-size="2.5" fill="#cf5a5a" >90.0</text>
<text x="203.60" y="136.90" font-size="2.5" fill="#cf5a5a" text-anchor="end" >Q3</text>
<text x="203.60" y="139.30" font-size="2.5" fill="#cf5a5a" text-anchor="end" >5.0</text>
<line x1="164.60" y1="106.10" x2="166.30" y2="106.10" stroke="#444" stroke-width="0.7" />
<text x="163.70" y="107.50" font-size="3.9" fill="#555" text-anchor="end" >10<tspan dy='-1.3' font-size='2.6'>5</tspan></text>
<line x1="164.60" y1="114.70" x2="166.30" y2="114.70" stroke="#444" stroke-width="0.7" />
<text x="163.70" y="116.10" font-size="3.9" fill="#555" text-anchor="end" >10<tspan dy='-1.3' font-size='2.6'>4</tspan></text>
<line x1="164.60" y1="123.20" x2="166.30" y2="123.20" stroke="#444" stroke-width="0.7" />
<text x="163.70" y="124.60" font-size="3.9" fill="#555" text-anchor="end" >10<tspan dy='-1.3' font-size='2.6'>3</tspan></text>
<line x1="164.60" y1="131.90" x2="166.30" y2="131.90" stroke="#444" stroke-width="0.7" />
<text x="163.70" y="133.30" font-size="3.9" fill="#555" text-anchor="end" >10<tspan dy='-1.3' font-size='2.6'>2</tspan></text>
<line x1="164.60" y1="136.90" x2="166.30" y2="136.90" stroke="#444" stroke-width="0.7" />
<text x="163.70" y="138.30" font-size="3.9" fill="#555" text-anchor="end" >0</text>
<line x1="174.30" y1="140.50" x2="174.30" y2="142.10" stroke="#444" stroke-width="0.7" />
<text x="174.90" y="147.00" font-size="3.9" fill="#555" text-anchor="middle" >0</text>
<line x1="182.90" y1="140.50" x2="182.90" y2="142.10" stroke="#444" stroke-width="0.7" />
<text x="183.50" y="147.00" font-size="3.9" fill="#555" text-anchor="middle" >10<tspan dy='-1.3' font-size='2.6'>3</tspan></text>
<line x1="191.60" y1="140.50" x2="191.60" y2="142.10" stroke="#444" stroke-width="0.7" />
<text x="192.20" y="147.00" font-size="3.9" fill="#555" text-anchor="middle" >10<tspan dy='-1.3' font-size='2.6'>4</tspan></text>
<line x1="200.80" y1="140.50" x2="200.80" y2="142.10" stroke="#444" stroke-width="0.7" />
<text x="201.40" y="147.00" font-size="3.9" fill="#555" text-anchor="middle" >10<tspan dy='-1.3' font-size='2.6'>5</tspan></text>
<text x="184.60" y="152.70" font-size="4.8" fill="#3a3a3a" text-anchor="middle" font-weight="bold" textLength="20.50" lengthAdjust="spacingAndGlyphs" >Comp-APC-A</text>
<text x="155.30" y="121.90" font-size="4.8" fill="#3a3a3a" text-anchor="middle" font-weight="bold" textLength="19.50" lengthAdjust="spacingAndGlyphs" transform="rotate(-90 155.30 121.90)" >Comp-PE-A</text>
<rect x="222.00" y="102.70" width="39.3" height="38.4" fill="#fff" stroke="#cfcfcf" stroke-width="0.6"/>
<g filter="url(#grain)">
<ellipse cx="246.76" cy="132.27" rx="6.37" ry="8.35" fill="#c8d2ee" opacity="0.7" transform="rotate(-15 246.76 132.27)" filter="url(#b2)"/>
<ellipse cx="246.76" cy="132.27" rx="4.95" ry="6.22" fill="#6688c0" opacity="0.85" transform="rotate(-15 246.76 132.27)" filter="url(#b1)"/>
<ellipse cx="246.76" cy="132.27" rx="3.68" ry="4.32" fill="#4a8aa2" opacity="0.85" transform="rotate(-15 246.76 132.27)" filter="url(#b1)"/>
<ellipse cx="246.76" cy="132.27" rx="2.12" ry="2.30" fill="#3d8a94" opacity="0.6" transform="rotate(-15 246.76 132.27)" filter="url(#b1)"/>
<ellipse cx="247.23" cy="121.36" rx="9.55" ry="3.90" fill="#c8d2ee" opacity="0.7" transform="rotate(-50 247.23 121.36)" filter="url(#b2)"/>
<ellipse cx="247.23" cy="121.36" rx="7.43" ry="2.90" fill="#6688c0" opacity="0.85" transform="rotate(-50 247.23 121.36)" filter="url(#b1)"/>
<ellipse cx="247.23" cy="121.36" rx="5.52" ry="2.02" fill="#4a8aa2" opacity="0.85" transform="rotate(-50 247.23 121.36)" filter="url(#b1)"/>
<ellipse cx="247.23" cy="121.36" rx="3.18" ry="1.08" fill="#3d8a94" opacity="0.6" transform="rotate(-50 247.23 121.36)" filter="url(#b1)"/>
<ellipse cx="232.77" cy="133.42" rx="10.61" ry="5.01" fill="#c8d2ee" opacity="0.7" transform="rotate(-38 232.77 133.42)" filter="url(#b2)"/>
<ellipse cx="232.77" cy="133.42" rx="8.25" ry="3.73" fill="#6688c0" opacity="0.85" transform="rotate(-38 232.77 133.42)" filter="url(#b1)"/>
<ellipse cx="232.77" cy="133.42" rx="6.13" ry="2.59" fill="#4a8aa2" opacity="0.85" transform="rotate(-38 232.77 133.42)" filter="url(#b1)"/>
<ellipse cx="232.77" cy="133.42" rx="3.54" ry="1.38" fill="#3d8a94" opacity="0.6" transform="rotate(-38 232.77 133.42)" filter="url(#b1)"/>
</g>
<path d="M222.90,140.10V103.60M260.40,103.60V140.10" fill="none" stroke="#e6a0a0" stroke-width="0.45" stroke-dasharray="1 1.2" opacity="0.8"/>
<line x1="240.50" y1="102.70" x2="240.50" y2="141.10" stroke="#a2a2b2" stroke-width="1.1" />
<line x1="222.00" y1="126.00" x2="261.30" y2="126.00" stroke="#b6b6be" stroke-width="1.6" />
<path d="M223.00,123.80H260.30" stroke="#ecc4c4" stroke-width="0.4" stroke-dasharray="1 1"/>
<path d="M223.00,140.80H231.00" stroke="#111" stroke-width="0.9" stroke-dasharray="0.9 0.5"/>
<path d="M222.20,135.30V136.90" stroke="#111" stroke-width="1.1"/>
<text x="223.30" y="106.60" font-size="2.5" fill="#cf5a5a" >Q1</text>
<text x="223.30" y="109.00" font-size="2.5" fill="#cf5a5a" textLength="5.00" lengthAdjust="spacingAndGlyphs" >0.000</text>
<text x="260.00" y="106.60" font-size="2.5" fill="#cf5a5a" text-anchor="end" >Q2</text>
<text x="260.00" y="109.00" font-size="2.5" fill="#cf5a5a" text-anchor="end" >1.0</text>
<text x="223.30" y="136.90" font-size="2.5" fill="#cf5a5a" >Q4</text>
<text x="223.30" y="139.30" font-size="2.5" fill="#cf5a5a" >90.0</text>
<text x="260.00" y="136.90" font-size="2.5" fill="#cf5a5a" text-anchor="end" >Q3</text>
<text x="260.00" y="139.30" font-size="2.5" fill="#cf5a5a" text-anchor="end" >5.0</text>
<line x1="221.00" y1="106.10" x2="222.70" y2="106.10" stroke="#444" stroke-width="0.7" />
<text x="220.10" y="107.50" font-size="3.9" fill="#555" text-anchor="end" >10<tspan dy='-1.3' font-size='2.6'>5</tspan></text>
<line x1="221.00" y1="114.70" x2="222.70" y2="114.70" stroke="#444" stroke-width="0.7" />
<text x="220.10" y="116.10" font-size="3.9" fill="#555" text-anchor="end" >10<tspan dy='-1.3' font-size='2.6'>4</tspan></text>
<line x1="221.00" y1="123.20" x2="222.70" y2="123.20" stroke="#444" stroke-width="0.7" />
<text x="220.10" y="124.60" font-size="3.9" fill="#555" text-anchor="end" >10<tspan dy='-1.3' font-size='2.6'>3</tspan></text>
<line x1="221.00" y1="131.90" x2="222.70" y2="131.90" stroke="#444" stroke-width="0.7" />
<text x="220.10" y="133.30" font-size="3.9" fill="#555" text-anchor="end" >10<tspan dy='-1.3' font-size='2.6'>2</tspan></text>
<line x1="221.00" y1="136.90" x2="222.70" y2="136.90" stroke="#444" stroke-width="0.7" />
<text x="220.10" y="138.30" font-size="3.9" fill="#555" text-anchor="end" >0</text>
<line x1="230.70" y1="140.50" x2="230.70" y2="142.10" stroke="#444" stroke-width="0.7" />
<text x="231.30" y="147.00" font-size="3.9" fill="#555" text-anchor="middle" >0</text>
<line x1="239.30" y1="140.50" x2="239.30" y2="142.10" stroke="#444" stroke-width="0.7" />
<text x="239.90" y="147.00" font-size="3.9" fill="#555" text-anchor="middle" >10<tspan dy='-1.3' font-size='2.6'>3</tspan></text>
<line x1="248.00" y1="140.50" x2="248.00" y2="142.10" stroke="#444" stroke-width="0.7" />
<text x="248.60" y="147.00" font-size="3.9" fill="#555" text-anchor="middle" >10<tspan dy='-1.3' font-size='2.6'>4</tspan></text>
<line x1="257.20" y1="140.50" x2="257.20" y2="142.10" stroke="#444" stroke-width="0.7" />
<text x="257.80" y="147.00" font-size="3.9" fill="#555" text-anchor="middle" >10<tspan dy='-1.3' font-size='2.6'>5</tspan></text>
<text x="241.00" y="152.70" font-size="4.8" fill="#3a3a3a" text-anchor="middle" font-weight="bold" textLength="20.50" lengthAdjust="spacingAndGlyphs" >Comp-APC-A</text>
<text x="211.70" y="121.90" font-size="4.8" fill="#3a3a3a" text-anchor="middle" font-weight="bold" textLength="19.50" lengthAdjust="spacingAndGlyphs" transform="rotate(-90 211.70 121.90)" >Comp-PE-A</text>
<text x="287.50" y="24.70" font-size="8.5" fill="#2d3550" textLength="25.50" lengthAdjust="spacingAndGlyphs" stroke="#2d3550" stroke-width="0.15">MM.1S</text>
<text x="353.10" y="32.90" font-size="6" fill="#222" text-anchor="middle" textLength="15.10" lengthAdjust="spacingAndGlyphs" stroke="#222" stroke-width="0.1">shNC</text>
<text x="466.30" y="33.00" font-size="6" fill="#222" text-anchor="middle" textLength="18.60" lengthAdjust="spacingAndGlyphs" stroke="#222" stroke-width="0.1">shATG5</text>
<line x1="306.40" y1="36.50" x2="399.70" y2="36.50" stroke="#333" stroke-width="1.1" />
<line x1="416.40" y1="36.50" x2="512.00" y2="36.50" stroke="#333" stroke-width="1.1" />
<text x="323.85" y="43.60" font-size="6" fill="#222" text-anchor="middle" textLength="23.40" lengthAdjust="spacingAndGlyphs" >Bort0nM</text>
<text x="380.05" y="43.60" font-size="6" fill="#222" text-anchor="middle" textLength="23.40" lengthAdjust="spacingAndGlyphs" >Bort5nM</text>
<text x="436.25" y="43.60" font-size="6" fill="#222" text-anchor="middle" textLength="23.40" lengthAdjust="spacingAndGlyphs" >Bort0nM</text>
<text x="492.65" y="43.60" font-size="6" fill="#222" text-anchor="middle" textLength="23.40" lengthAdjust="spacingAndGlyphs" >Bort5nM</text>
<text x="270.10" y="42.90" font-size="8.4" fill="#1a1a1a" font-weight="bold" textLength="14.00" lengthAdjust="spacingAndGlyphs" >PI-PE</text>
<path d="M287.45,38.00V156.10" fill="none" stroke="#3c3c3c" stroke-width="1.3"/>
<path d="M286.80,156.20H512.30" fill="none" stroke="#3a3a3a" stroke-width="1.25"/>
<text x="283.40" y="65.30" font-size="6" fill="#333" text-anchor="middle" textLength="37.00" lengthAdjust="spacingAndGlyphs" transform="rotate(-90 283.40 65.30)" stroke="#333" stroke-width="0.12">shTRIM21NC</text>
<text x="283.40" y="122.00" font-size="6" fill="#333" text-anchor="middle" textLength="27.30" lengthAdjust="spacingAndGlyphs" transform="rotate(-90 283.40 122.00)" stroke="#333" stroke-width="0.12">shTRIM21</text>
<text x="475.40" y="167.00" font-size="7.3" fill="#1a1a1a" font-weight="bold" textLength="37.20" lengthAdjust="spacingAndGlyphs" >Annexin V-APC</text>
<rect x="304.20" y="46.90" width="39.3" height="38.4" fill="#fff" stroke="#cfcfcf" stroke-width="0.6"/>
<g filter="url(#grain)">
<ellipse cx="327.27" cy="65.33" rx="6.13" ry="2.00" fill="#e6e9f4" opacity="0.9" transform="rotate(-35 327.27 65.33)" filter="url(#b2)"/>
<ellipse cx="327.27" cy="65.33" rx="3.58" ry="1.08" fill="#d2d8ec" opacity="0.7" transform="rotate(-35 327.27 65.33)" filter="url(#b1)"/>
<ellipse cx="325.81" cy="77.24" rx="5.66" ry="2.50" fill="#e6e9f4" opacity="0.9" transform="rotate(-10 325.81 77.24)" filter="url(#b2)"/>
<ellipse cx="325.81" cy="77.24" rx="3.30" ry="1.34" fill="#d2d8ec" opacity="0.7" transform="rotate(-10 325.81 77.24)" filter="url(#b1)"/>
<ellipse cx="312.45" cy="79.92" rx="5.31" ry="4.73" fill="#c8d2ee" opacity="0.7" transform="rotate(-5 312.45 79.92)" filter="url(#b2)"/>
<ellipse cx="312.45" cy="79.92" rx="4.13" ry="3.53" fill="#6688c0" opacity="0.85" transform="rotate(-5 312.45 79.92)" filter="url(#b1)"/>
<ellipse cx="312.45" cy="79.92" rx="3.07" ry="2.45" fill="#4a8aa2" opacity="0.85" transform="rotate(-5 312.45 79.92)" filter="url(#b1)"/>
<ellipse cx="312.45" cy="79.92" rx="1.77" ry="1.31" fill="#3d8a94" opacity="0.6" transform="rotate(-5 312.45 79.92)" filter="url(#b1)"/>
</g>
<path d="M305.10,84.30V47.80M342.60,47.80V84.30" fill="none" stroke="#e6a0a0" stroke-width="0.45" stroke-dasharray="1 1.2" opacity="0.8"/>
<line x1="319.50" y1="46.90" x2="319.50" y2="85.30" stroke="#a2a2b2" stroke-width="1.1" />
<line x1="304.20" y1="70.00" x2="343.50" y2="70.00" stroke="#b6b6be" stroke-width="1.6" />
<path d="M305.20,67.54H342.50" stroke="#ecc4c4" stroke-width="0.4" stroke-dasharray="1 1"/>
<path d="M305.20,85.00H313.20" stroke="#111" stroke-width="0.9" stroke-dasharray="0.9 0.5"/>
<path d="M304.40,79.50V81.10" stroke="#111" stroke-width="1.1"/>
<text x="305.50" y="50.80" font-size="2.5" fill="#cf5a5a" >Q1</text>
<text x="305.50" y="53.20" font-size="2.5" fill="#cf5a5a" textLength="5.00" lengthAdjust="spacingAndGlyphs" >0.000</text>
<text x="342.20" y="50.80" font-size="2.5" fill="#cf5a5a" text-anchor="end" >Q2</text>
<text x="342.20" y="53.20" font-size="2.5" fill="#cf5a5a" text-anchor="end" >1.0</text>
<text x="305.50" y="81.10" font-size="2.5" fill="#cf5a5a" >Q4</text>
<text x="305.50" y="83.50" font-size="2.5" fill="#cf5a5a" >90.0</text>
<text x="342.20" y="81.10" font-size="2.5" fill="#cf5a5a" text-anchor="end" >Q3</text>
<text x="342.20" y="83.50" font-size="2.5" fill="#cf5a5a" text-anchor="end" >5.0</text>
<line x1="303.20" y1="50.30" x2="304.90" y2="50.30" stroke="#444" stroke-width="0.7" />
<text x="302.30" y="51.70" font-size="3.9" fill="#555" text-anchor="end" >10<tspan dy='-1.3' font-size='2.6'>5</tspan></text>
<line x1="303.20" y1="58.90" x2="304.90" y2="58.90" stroke="#444" stroke-width="0.7" />
<text x="302.30" y="60.30" font-size="3.9" fill="#555" text-anchor="end" >10<tspan dy='-1.3' font-size='2.6'>4</tspan></text>
<line x1="303.20" y1="67.40" x2="304.90" y2="67.40" stroke="#444" stroke-width="0.7" />
<text x="302.30" y="68.80" font-size="3.9" fill="#555" text-anchor="end" >10<tspan dy='-1.3' font-size='2.6'>3</tspan></text>
<line x1="303.20" y1="76.10" x2="304.90" y2="76.10" stroke="#444" stroke-width="0.7" />
<text x="302.30" y="77.50" font-size="3.9" fill="#555" text-anchor="end" >10<tspan dy='-1.3' font-size='2.6'>2</tspan></text>
<line x1="303.20" y1="81.10" x2="304.90" y2="81.10" stroke="#444" stroke-width="0.7" />
<text x="302.30" y="82.50" font-size="3.9" fill="#555" text-anchor="end" >0</text>
<line x1="312.90" y1="84.70" x2="312.90" y2="86.30" stroke="#444" stroke-width="0.7" />
<text x="313.50" y="91.20" font-size="3.9" fill="#555" text-anchor="middle" >0</text>
<line x1="321.50" y1="84.70" x2="321.50" y2="86.30" stroke="#444" stroke-width="0.7" />
<text x="322.10" y="91.20" font-size="3.9" fill="#555" text-anchor="middle" >10<tspan dy='-1.3' font-size='2.6'>3</tspan></text>
<line x1="330.20" y1="84.70" x2="330.20" y2="86.30" stroke="#444" stroke-width="0.7" />
<text x="330.80" y="91.20" font-size="3.9" fill="#555" text-anchor="middle" >10<tspan dy='-1.3' font-size='2.6'>4</tspan></text>
<line x1="339.40" y1="84.70" x2="339.40" y2="86.30" stroke="#444" stroke-width="0.7" />
<text x="340.00" y="91.20" font-size="3.9" fill="#555" text-anchor="middle" >10<tspan dy='-1.3' font-size='2.6'>5</tspan></text>
<text x="323.20" y="96.90" font-size="4.8" fill="#3a3a3a" text-anchor="middle" font-weight="bold" textLength="20.50" lengthAdjust="spacingAndGlyphs" >Comp-APC-A</text>
<text x="293.90" y="66.10" font-size="4.8" fill="#3a3a3a" text-anchor="middle" font-weight="bold" textLength="19.50" lengthAdjust="spacingAndGlyphs" transform="rotate(-90 293.90 66.10)" >Comp-PE-A</text>
<rect x="360.40" y="46.90" width="39.3" height="38.4" fill="#fff" stroke="#cfcfcf" stroke-width="0.6"/>
<g filter="url(#grain)">
<ellipse cx="383.98" cy="73.78" rx="4.91" ry="3.99" fill="#dfe4f4" opacity="0.8" transform="rotate(0 383.98 73.78)" filter="url(#b2)"/>
<ellipse cx="383.98" cy="73.78" rx="3.34" ry="2.61" fill="#b4c0e4" opacity="0.6" transform="rotate(0 383.98 73.78)" filter="url(#b1)"/>
<ellipse cx="382.09" cy="79.66" rx="5.04" ry="5.47" fill="#c3cfec" opacity="0.7" transform="rotate(0 382.09 79.66)" filter="url(#b2)"/>
<ellipse cx="382.09" cy="79.66" rx="3.92" ry="3.94" fill="#5f84bd" opacity="0.85" transform="rotate(0 382.09 79.66)" filter="url(#b1)"/>
<ellipse cx="382.09" cy="79.66" rx="2.99" ry="2.77" fill="#41899e" opacity="0.9" transform="rotate(0 382.09 79.66)" filter="url(#b1)"/>
<ellipse cx="382.09" cy="79.66" rx="1.79" ry="1.53" fill="#4fa66a" opacity="0.8" transform="rotate(0 382.09 79.66)" filter="url(#b1)"/>
<ellipse cx="384.57" cy="63.95" rx="8.49" ry="3.46" fill="#c3cfec" opacity="0.7" transform="rotate(-32 384.57 63.95)" filter="url(#b2)"/>
<ellipse cx="384.57" cy="63.95" rx="6.60" ry="2.49" fill="#5f84bd" opacity="0.85" transform="rotate(-32 384.57 63.95)" filter="url(#b1)"/>
<ellipse cx="384.57" cy="63.95" rx="5.03" ry="1.75" fill="#41899e" opacity="0.9" transform="rotate(-32 384.57 63.95)" filter="url(#b1)"/>
<ellipse cx="384.57" cy="63.95" rx="3.02" ry="0.97" fill="#4fa66a" opacity="0.8" transform="rotate(-32 384.57 63.95)" filter="url(#b1)"/>
<ellipse cx="369.83" cy="79.27" rx="5.31" ry="4.61" fill="#c3cfec" opacity="0.7" transform="rotate(-10 369.83 79.27)" filter="url(#b2)"/>
<ellipse cx="369.83" cy="79.27" rx="4.13" ry="3.32" fill="#5f84bd" opacity="0.85" transform="rotate(-10 369.83 79.27)" filter="url(#b1)"/>
<ellipse cx="369.83" cy="79.27" rx="3.14" ry="2.33" fill="#41899e" opacity="0.9" transform="rotate(-10 369.83 79.27)" filter="url(#b1)"/>
<ellipse cx="369.83" cy="79.27" rx="1.89" ry="1.29" fill="#4fa66a" opacity="0.8" transform="rotate(-10 369.83 79.27)" filter="url(#b1)"/>
</g>
<path d="M361.30,84.30V47.80M398.80,47.80V84.30" fill="none" stroke="#e6a0a0" stroke-width="0.45" stroke-dasharray="1 1.2" opacity="0.8"/>
<line x1="376.50" y1="46.90" x2="376.50" y2="85.30" stroke="#a2a2b2" stroke-width="1.1" />
<line x1="360.40" y1="70.00" x2="399.70" y2="70.00" stroke="#b6b6be" stroke-width="1.6" />
<path d="M361.40,67.54H398.70" stroke="#ecc4c4" stroke-width="0.4" stroke-dasharray="1 1"/>
<path d="M361.40,85.00H369.40" stroke="#111" stroke-width="0.9" stroke-dasharray="0.9 0.5"/>
<path d="M360.60,79.50V81.10" stroke="#111" stroke-width="1.1"/>
<text x="361.70" y="50.80" font-size="2.5" fill="#cf5a5a" >Q1</text>
<text x="361.70" y="53.20" font-size="2.5" fill="#cf5a5a" textLength="5.00" lengthAdjust="spacingAndGlyphs" >0.000</text>
<text x="398.40" y="50.80" font-size="2.5" fill="#cf5a5a" text-anchor="end" >Q2</text>
<text x="398.40" y="53.20" font-size="2.5" fill="#cf5a5a" text-anchor="end" >1.0</text>
<text x="361.70" y="81.10" font-size="2.5" fill="#cf5a5a" >Q4</text>
<text x="361.70" y="83.50" font-size="2.5" fill="#cf5a5a" >90.0</text>
<text x="398.40" y="81.10" font-size="2.5" fill="#cf5a5a" text-anchor="end" >Q3</text>
<text x="398.40" y="83.50" font-size="2.5" fill="#cf5a5a" text-anchor="end" >5.0</text>
<line x1="359.40" y1="50.30" x2="361.10" y2="50.30" stroke="#444" stroke-width="0.7" />
<text x="358.50" y="51.70" font-size="3.9" fill="#555" text-anchor="end" >10<tspan dy='-1.3' font-size='2.6'>5</tspan></text>
<line x1="359.40" y1="58.90" x2="361.10" y2="58.90" stroke="#444" stroke-width="0.7" />
<text x="358.50" y="60.30" font-size="3.9" fill="#555" text-anchor="end" >10<tspan dy='-1.3' font-size='2.6'>4</tspan></text>
<line x1="359.40" y1="67.40" x2="361.10" y2="67.40" stroke="#444" stroke-width="0.7" />
<text x="358.50" y="68.80" font-size="3.9" fill="#555" text-anchor="end" >10<tspan dy='-1.3' font-size='2.6'>3</tspan></text>
<line x1="359.40" y1="76.10" x2="361.10" y2="76.10" stroke="#444" stroke-width="0.7" />
<text x="358.50" y="77.50" font-size="3.9" fill="#555" text-anchor="end" >10<tspan dy='-1.3' font-size='2.6'>2</tspan></text>
<line x1="359.40" y1="81.10" x2="361.10" y2="81.10" stroke="#444" stroke-width="0.7" />
<text x="358.50" y="82.50" font-size="3.9" fill="#555" text-anchor="end" >0</text>
<line x1="369.10" y1="84.70" x2="369.10" y2="86.30" stroke="#444" stroke-width="0.7" />
<text x="369.70" y="91.20" font-size="3.9" fill="#555" text-anchor="middle" >0</text>
<line x1="377.70" y1="84.70" x2="377.70" y2="86.30" stroke="#444" stroke-width="0.7" />
<text x="378.30" y="91.20" font-size="3.9" fill="#555" text-anchor="middle" >10<tspan dy='-1.3' font-size='2.6'>3</tspan></text>
<line x1="386.40" y1="84.70" x2="386.40" y2="86.30" stroke="#444" stroke-width="0.7" />
<text x="387.00" y="91.20" font-size="3.9" fill="#555" text-anchor="middle" >10<tspan dy='-1.3' font-size='2.6'>4</tspan></text>
<line x1="395.60" y1="84.70" x2="395.60" y2="86.30" stroke="#444" stroke-width="0.7" />
<text x="396.20" y="91.20" font-size="3.9" fill="#555" text-anchor="middle" >10<tspan dy='-1.3' font-size='2.6'>5</tspan></text>
<text x="379.40" y="96.90" font-size="4.8" fill="#3a3a3a" text-anchor="middle" font-weight="bold" textLength="20.50" lengthAdjust="spacingAndGlyphs" >Comp-APC-A</text>
<text x="350.10" y="66.10" font-size="4.8" fill="#3a3a3a" text-anchor="middle" font-weight="bold" textLength="19.50" lengthAdjust="spacingAndGlyphs" transform="rotate(-90 350.10 66.10)" >Comp-PE-A</text>
<rect x="416.60" y="46.90" width="39.3" height="38.4" fill="#fff" stroke="#cfcfcf" stroke-width="0.6"/>
<g filter="url(#grain)">
<ellipse cx="440.18" cy="66.10" rx="5.66" ry="2.00" fill="#e6e9f4" opacity="0.9" transform="rotate(-25 440.18 66.10)" filter="url(#b2)"/>
<ellipse cx="440.18" cy="66.10" rx="3.30" ry="1.08" fill="#d2d8ec" opacity="0.7" transform="rotate(-25 440.18 66.10)" filter="url(#b1)"/>
<ellipse cx="439.39" cy="78.77" rx="5.89" ry="4.49" fill="#dfe4f4" opacity="0.8" transform="rotate(-15 439.39 78.77)" filter="url(#b2)"/>
<ellipse cx="439.39" cy="78.77" rx="4.01" ry="2.94" fill="#b4c0e4" opacity="0.6" transform="rotate(-15 439.39 78.77)" filter="url(#b1)"/>
<ellipse cx="425.25" cy="79.27" rx="6.10" ry="4.45" fill="#c8d2ee" opacity="0.7" transform="rotate(-5 425.25 79.27)" filter="url(#b2)"/>
<ellipse cx="425.25" cy="79.27" rx="4.75" ry="3.32" fill="#6688c0" opacity="0.85" transform="rotate(-5 425.25 79.27)" filter="url(#b1)"/>
<ellipse cx="425.25" cy="79.27" rx="3.53" ry="2.30" fill="#4a8aa2" opacity="0.85" transform="rotate(-5 425.25 79.27)" filter="url(#b1)"/>
<ellipse cx="425.25" cy="79.27" rx="2.03" ry="1.23" fill="#3d8a94" opacity="0.6" transform="rotate(-5 425.25 79.27)" filter="url(#b1)"/>
</g>
<path d="M417.50,84.30V47.80M455.00,47.80V84.30" fill="none" stroke="#e6a0a0" stroke-width="0.45" stroke-dasharray="1 1.2" opacity="0.8"/>
<line x1="432.50" y1="46.90" x2="432.50" y2="85.30" stroke="#a2a2b2" stroke-width="1.1" />
<line x1="416.60" y1="70.00" x2="455.90" y2="70.00" stroke="#b6b6be" stroke-width="1.6" />
<path d="M417.60,67.54H454.90" stroke="#ecc4c4" stroke-width="0.4" stroke-dasharray="1 1"/>
<path d="M417.60,85.00H425.60" stroke="#111" stroke-width="0.9" stroke-dasharray="0.9 0.5"/>
<path d="M416.80,79.50V81.10" stroke="#111" stroke-width="1.1"/>
<text x="417.90" y="50.80" font-size="2.5" fill="#cf5a5a" >Q1</text>
<text x="417.90" y="53.20" font-size="2.5" fill="#cf5a5a" textLength="5.00" lengthAdjust="spacingAndGlyphs" >0.000</text>
<text x="454.60" y="50.80" font-size="2.5" fill="#cf5a5a" text-anchor="end" >Q2</text>
<text x="454.60" y="53.20" font-size="2.5" fill="#cf5a5a" text-anchor="end" >1.0</text>
<text x="417.90" y="81.10" font-size="2.5" fill="#cf5a5a" >Q4</text>
<text x="417.90" y="83.50" font-size="2.5" fill="#cf5a5a" >90.0</text>
<text x="454.60" y="81.10" font-size="2.5" fill="#cf5a5a" text-anchor="end" >Q3</text>
<text x="454.60" y="83.50" font-size="2.5" fill="#cf5a5a" text-anchor="end" >5.0</text>
<line x1="415.60" y1="50.30" x2="417.30" y2="50.30" stroke="#444" stroke-width="0.7" />
<text x="414.70" y="51.70" font-size="3.9" fill="#555" text-anchor="end" >10<tspan dy='-1.3' font-size='2.6'>5</tspan></text>
<line x1="415.60" y1="58.90" x2="417.30" y2="58.90" stroke="#444" stroke-width="0.7" />
<text x="414.70" y="60.30" font-size="3.9" fill="#555" text-anchor="end" >10<tspan dy='-1.3' font-size='2.6'>4</tspan></text>
<line x1="415.60" y1="67.40" x2="417.30" y2="67.40" stroke="#444" stroke-width="0.7" />
<text x="414.70" y="68.80" font-size="3.9" fill="#555" text-anchor="end" >10<tspan dy='-1.3' font-size='2.6'>3</tspan></text>
<line x1="415.60" y1="76.10" x2="417.30" y2="76.10" stroke="#444" stroke-width="0.7" />
<text x="414.70" y="77.50" font-size="3.9" fill="#555" text-anchor="end" >10<tspan dy='-1.3' font-size='2.6'>2</tspan></text>
<line x1="415.60" y1="81.10" x2="417.30" y2="81.10" stroke="#444" stroke-width="0.7" />
<text x="414.70" y="82.50" font-size="3.9" fill="#555" text-anchor="end" >0</text>
<line x1="425.30" y1="84.70" x2="425.30" y2="86.30" stroke="#444" stroke-width="0.7" />
<text x="425.90" y="91.20" font-size="3.9" fill="#555" text-anchor="middle" >0</text>
<line x1="433.90" y1="84.70" x2="433.90" y2="86.30" stroke="#444" stroke-width="0.7" />
<text x="434.50" y="91.20" font-size="3.9" fill="#555" text-anchor="middle" >10<tspan dy='-1.3' font-size='2.6'>3</tspan></text>
<line x1="442.60" y1="84.70" x2="442.60" y2="86.30" stroke="#444" stroke-width="0.7" />
<text x="443.20" y="91.20" font-size="3.9" fill="#555" text-anchor="middle" >10<tspan dy='-1.3' font-size='2.6'>4</tspan></text>
<line x1="451.80" y1="84.70" x2="451.80" y2="86.30" stroke="#444" stroke-width="0.7" />
<text x="452.40" y="91.20" font-size="3.9" fill="#555" text-anchor="middle" >10<tspan dy='-1.3' font-size='2.6'>5</tspan></text>
<text x="435.60" y="96.90" font-size="4.8" fill="#3a3a3a" text-anchor="middle" font-weight="bold" textLength="20.50" lengthAdjust="spacingAndGlyphs" >Comp-APC-A</text>
<text x="406.30" y="66.10" font-size="4.8" fill="#3a3a3a" text-anchor="middle" font-weight="bold" textLength="19.50" lengthAdjust="spacingAndGlyphs" transform="rotate(-90 406.30 66.10)" >Comp-PE-A</text>
<rect x="473.00" y="46.90" width="39.3" height="38.4" fill="#fff" stroke="#cfcfcf" stroke-width="0.6"/>
<g filter="url(#grain)">
<ellipse cx="495.13" cy="77.62" rx="6.10" ry="7.80" fill="#c8d2ee" opacity="0.7" transform="rotate(0 495.13 77.62)" filter="url(#b2)"/>
<ellipse cx="495.13" cy="77.62" rx="4.75" ry="5.81" fill="#6688c0" opacity="0.85" transform="rotate(0 495.13 77.62)" filter="url(#b1)"/>
<ellipse cx="495.13" cy="77.62" rx="3.53" ry="4.03" fill="#4a8aa2" opacity="0.85" transform="rotate(0 495.13 77.62)" filter="url(#b1)"/>
<ellipse cx="495.13" cy="77.62" rx="2.03" ry="2.15" fill="#3d8a94" opacity="0.6" transform="rotate(0 495.13 77.62)" filter="url(#b1)"/>
<ellipse cx="496.74" cy="65.56" rx="10.61" ry="4.03" fill="#c3cfec" opacity="0.7" transform="rotate(-33 496.74 65.56)" filter="url(#b2)"/>
<ellipse cx="496.74" cy="65.56" rx="8.25" ry="2.90" fill="#5f84bd" opacity="0.85" transform="rotate(-33 496.74 65.56)" filter="url(#b1)"/>
<ellipse cx="496.74" cy="65.56" rx="6.29" ry="2.04" fill="#41899e" opacity="0.9" transform="rotate(-33 496.74 65.56)" filter="url(#b1)"/>
<ellipse cx="496.74" cy="65.56" rx="3.77" ry="1.13" fill="#4fa66a" opacity="0.8" transform="rotate(-33 496.74 65.56)" filter="url(#b1)"/>
<ellipse cx="484.20" cy="79.27" rx="4.77" ry="4.45" fill="#c8d2ee" opacity="0.7" transform="rotate(-10 484.20 79.27)" filter="url(#b2)"/>
<ellipse cx="484.20" cy="79.27" rx="3.71" ry="3.32" fill="#6688c0" opacity="0.85" transform="rotate(-10 484.20 79.27)" filter="url(#b1)"/>
<ellipse cx="484.20" cy="79.27" rx="2.76" ry="2.30" fill="#4a8aa2" opacity="0.85" transform="rotate(-10 484.20 79.27)" filter="url(#b1)"/>
<ellipse cx="484.20" cy="79.27" rx="1.59" ry="1.23" fill="#3d8a94" opacity="0.6" transform="rotate(-10 484.20 79.27)" filter="url(#b1)"/>
</g>
<path d="M473.90,84.30V47.80M511.40,47.80V84.30" fill="none" stroke="#e6a0a0" stroke-width="0.45" stroke-dasharray="1 1.2" opacity="0.8"/>
<line x1="488.50" y1="46.90" x2="488.50" y2="85.30" stroke="#a2a2b2" stroke-width="1.1" />
<line x1="473.00" y1="70.00" x2="512.30" y2="70.00" stroke="#b6b6be" stroke-width="1.6" />
<path d="M474.00,67.54H511.30" stroke="#ecc4c4" stroke-width="0.4" stroke-dasharray="1 1"/>
<path d="M474.00,85.00H482.00" stroke="#111" stroke-width="0.9" stroke-dasharray="0.9 0.5"/>
<path d="M473.20,79.50V81.10" stroke="#111" stroke-width="1.1"/>
<text x="474.30" y="50.80" font-size="2.5" fill="#cf5a5a" >Q1</text>
<text x="474.30" y="53.20" font-size="2.5" fill="#cf5a5a" textLength="5.00" lengthAdjust="spacingAndGlyphs" >0.000</text>
<text x="511.00" y="50.80" font-size="2.5" fill="#cf5a5a" text-anchor="end" >Q2</text>
<text x="511.00" y="53.20" font-size="2.5" fill="#cf5a5a" text-anchor="end" >1.0</text>
<text x="474.30" y="81.10" font-size="2.5" fill="#cf5a5a" >Q4</text>
<text x="474.30" y="83.50" font-size="2.5" fill="#cf5a5a" >90.0</text>
<text x="511.00" y="81.10" font-size="2.5" fill="#cf5a5a" text-anchor="end" >Q3</text>
<text x="511.00" y="83.50" font-size="2.5" fill="#cf5a5a" text-anchor="end" >5.0</text>
<line x1="472.00" y1="50.30" x2="473.70" y2="50.30" stroke="#444" stroke-width="0.7" />
<text x="471.10" y="51.70" font-size="3.9" fill="#555" text-anchor="end" >10<tspan dy='-1.3' font-size='2.6'>5</tspan></text>
<line x1="472.00" y1="58.90" x2="473.70" y2="58.90" stroke="#444" stroke-width="0.7" />
<text x="471.10" y="60.30" font-size="3.9" fill="#555" text-anchor="end" >10<tspan dy='-1.3' font-size='2.6'>4</tspan></text>
<line x1="472.00" y1="67.40" x2="473.70" y2="67.40" stroke="#444" stroke-width="0.7" />
<text x="471.10" y="68.80" font-size="3.9" fill="#555" text-anchor="end" >10<tspan dy='-1.3' font-size='2.6'>3</tspan></text>
<line x1="472.00" y1="76.10" x2="473.70" y2="76.10" stroke="#444" stroke-width="0.7" />
<text x="471.10" y="77.50" font-size="3.9" fill="#555" text-anchor="end" >10<tspan dy='-1.3' font-size='2.6'>2</tspan></text>
<line x1="472.00" y1="81.10" x2="473.70" y2="81.10" stroke="#444" stroke-width="0.7" />
<text x="471.10" y="82.50" font-size="3.9" fill="#555" text-anchor="end" >0</text>
<line x1="481.70" y1="84.70" x2="481.70" y2="86.30" stroke="#444" stroke-width="0.7" />
<text x="482.30" y="91.20" font-size="3.9" fill="#555" text-anchor="middle" >0</text>
<line x1="490.30" y1="84.70" x2="490.30" y2="86.30" stroke="#444" stroke-width="0.7" />
<text x="490.90" y="91.20" font-size="3.9" fill="#555" text-anchor="middle" >10<tspan dy='-1.3' font-size='2.6'>3</tspan></text>
<line x1="499.00" y1="84.70" x2="499.00" y2="86.30" stroke="#444" stroke-width="0.7" />
<text x="499.60" y="91.20" font-size="3.9" fill="#555" text-anchor="middle" >10<tspan dy='-1.3' font-size='2.6'>4</tspan></text>
<line x1="508.20" y1="84.70" x2="508.20" y2="86.30" stroke="#444" stroke-width="0.7" />
<text x="508.80" y="91.20" font-size="3.9" fill="#555" text-anchor="middle" >10<tspan dy='-1.3' font-size='2.6'>5</tspan></text>
<text x="492.00" y="96.90" font-size="4.8" fill="#3a3a3a" text-anchor="middle" font-weight="bold" textLength="20.50" lengthAdjust="spacingAndGlyphs" >Comp-APC-A</text>
<text x="462.70" y="66.10" font-size="4.8" fill="#3a3a3a" text-anchor="middle" font-weight="bold" textLength="19.50" lengthAdjust="spacingAndGlyphs" transform="rotate(-90 462.70 66.10)" >Comp-PE-A</text>
<rect x="304.20" y="102.70" width="39.3" height="38.4" fill="#fff" stroke="#cfcfcf" stroke-width="0.6"/>
<g filter="url(#grain)">
<ellipse cx="330.26" cy="118.83" rx="5.66" ry="2.00" fill="#e6e9f4" opacity="0.9" transform="rotate(-30 330.26 118.83)" filter="url(#b2)"/>
<ellipse cx="330.26" cy="118.83" rx="3.30" ry="1.08" fill="#d2d8ec" opacity="0.7" transform="rotate(-30 330.26 118.83)" filter="url(#b1)"/>
<ellipse cx="326.99" cy="132.65" rx="7.37" ry="4.99" fill="#dfe4f4" opacity="0.8" transform="rotate(-15 326.99 132.65)" filter="url(#b2)"/>
<ellipse cx="326.99" cy="132.65" rx="5.01" ry="3.26" fill="#b4c0e4" opacity="0.6" transform="rotate(-15 326.99 132.65)" filter="url(#b1)"/>
<ellipse cx="312.85" cy="134.57" rx="6.14" ry="5.11" fill="#c3cfec" opacity="0.65" transform="rotate(0 312.85 134.57)" filter="url(#b2)"/>
<ellipse cx="312.85" cy="134.57" rx="4.91" ry="3.83" fill="#4f78b8" opacity="0.9" transform="rotate(0 312.85 134.57)" filter="url(#b1)"/>
<ellipse cx="312.85" cy="134.57" rx="4.03" ry="2.99" fill="#2f8c93" opacity="0.95" transform="rotate(0 312.85 134.57)" filter="url(#b1)"/>
<ellipse cx="312.85" cy="134.57" rx="2.95" ry="2.12" fill="#49b24e" opacity="0.95" transform="rotate(0 312.85 134.57)" filter="url(#b1)"/>
<ellipse cx="312.85" cy="134.57" rx="1.47" ry="1.09" fill="#a8d04c" opacity="0.8" transform="rotate(0 312.85 134.57)" filter="url(#b1)"/>
</g>
<path d="M305.10,140.10V103.60M342.60,103.60V140.10" fill="none" stroke="#e6a0a0" stroke-width="0.45" stroke-dasharray="1 1.2" opacity="0.8"/>
<line x1="319.50" y1="102.70" x2="319.50" y2="141.10" stroke="#a2a2b2" stroke-width="1.1" />
<line x1="304.20" y1="126.00" x2="343.50" y2="126.00" stroke="#b6b6be" stroke-width="1.6" />
<path d="M305.20,123.34H342.50" stroke="#ecc4c4" stroke-width="0.4" stroke-dasharray="1 1"/>
<path d="M305.20,140.80H313.20" stroke="#111" stroke-width="0.9" stroke-dasharray="0.9 0.5"/>
<path d="M304.40,135.30V136.90" stroke="#111" stroke-width="1.1"/>
<text x="305.50" y="106.60" font-size="2.5" fill="#cf5a5a" >Q1</text>
<text x="305.50" y="109.00" font-size="2.5" fill="#cf5a5a" textLength="5.00" lengthAdjust="spacingAndGlyphs" >0.000</text>
<text x="342.20" y="106.60" font-size="2.5" fill="#cf5a5a" text-anchor="end" >Q2</text>
<text x="342.20" y="109.00" font-size="2.5" fill="#cf5a5a" text-anchor="end" >1.0</text>
<text x="305.50" y="136.90" font-size="2.5" fill="#cf5a5a" >Q4</text>
<text x="305.50" y="139.30" font-size="2.5" fill="#cf5a5a" >90.0</text>
<text x="342.20" y="136.90" font-size="2.5" fill="#cf5a5a" text-anchor="end" >Q3</text>
<text x="342.20" y="139.30" font-size="2.5" fill="#cf5a5a" text-anchor="end" >5.0</text>
<line x1="303.20" y1="106.10" x2="304.90" y2="106.10" stroke="#444" stroke-width="0.7" />
<text x="302.30" y="107.50" font-size="3.9" fill="#555" text-anchor="end" >10<tspan dy='-1.3' font-size='2.6'>5</tspan></text>
<line x1="303.20" y1="114.70" x2="304.90" y2="114.70" stroke="#444" stroke-width="0.7" />
<text x="302.30" y="116.10" font-size="3.9" fill="#555" text-anchor="end" >10<tspan dy='-1.3' font-size='2.6'>4</tspan></text>
<line x1="303.20" y1="123.20" x2="304.90" y2="123.20" stroke="#444" stroke-width="0.7" />
<text x="302.30" y="124.60" font-size="3.9" fill="#555" text-anchor="end" >10<tspan dy='-1.3' font-size='2.6'>3</tspan></text>
<line x1="303.20" y1="131.90" x2="304.90" y2="131.90" stroke="#444" stroke-width="0.7" />
<text x="302.30" y="133.30" font-size="3.9" fill="#555" text-anchor="end" >10<tspan dy='-1.3' font-size='2.6'>2</tspan></text>
<line x1="303.20" y1="136.90" x2="304.90" y2="136.90" stroke="#444" stroke-width="0.7" />
<text x="302.30" y="138.30" font-size="3.9" fill="#555" text-anchor="end" >0</text>
<line x1="312.90" y1="140.50" x2="312.90" y2="142.10" stroke="#444" stroke-width="0.7" />
<text x="313.50" y="147.00" font-size="3.9" fill="#555" text-anchor="middle" >0</text>
<line x1="321.50" y1="140.50" x2="321.50" y2="142.10" stroke="#444" stroke-width="0.7" />
<text x="322.10" y="147.00" font-size="3.9" fill="#555" text-anchor="middle" >10<tspan dy='-1.3' font-size='2.6'>3</tspan></text>
<line x1="330.20" y1="140.50" x2="330.20" y2="142.10" stroke="#444" stroke-width="0.7" />
<text x="330.80" y="147.00" font-size="3.9" fill="#555" text-anchor="middle" >10<tspan dy='-1.3' font-size='2.6'>4</tspan></text>
<line x1="339.40" y1="140.50" x2="339.40" y2="142.10" stroke="#444" stroke-width="0.7" />
<text x="340.00" y="147.00" font-size="3.9" fill="#555" text-anchor="middle" >10<tspan dy='-1.3' font-size='2.6'>5</tspan></text>
<text x="323.20" y="152.70" font-size="4.8" fill="#3a3a3a" text-anchor="middle" font-weight="bold" textLength="20.50" lengthAdjust="spacingAndGlyphs" >Comp-APC-A</text>
<text x="293.90" y="121.90" font-size="4.8" fill="#3a3a3a" text-anchor="middle" font-weight="bold" textLength="19.50" lengthAdjust="spacingAndGlyphs" transform="rotate(-90 293.90 121.90)" >Comp-PE-A</text>
<rect x="360.40" y="102.70" width="39.3" height="38.4" fill="#fff" stroke="#cfcfcf" stroke-width="0.6"/>
<g filter="url(#grain)">
<ellipse cx="383.19" cy="134.19" rx="6.13" ry="5.38" fill="#d2daf0" opacity="0.7" transform="rotate(-10 383.19 134.19)" filter="url(#b2)"/>
<ellipse cx="383.19" cy="134.19" rx="4.72" ry="3.84" fill="#7d97cc" opacity="0.7" transform="rotate(-10 383.19 134.19)" filter="url(#b1)"/>
<ellipse cx="383.19" cy="134.19" rx="2.83" ry="2.30" fill="#5d7fbd" opacity="0.6" transform="rotate(-10 383.19 134.19)" filter="url(#b1)"/>
<ellipse cx="384.77" cy="120.17" rx="9.02" ry="3.90" fill="#c8d2ee" opacity="0.7" transform="rotate(-30 384.77 120.17)" filter="url(#b2)"/>
<ellipse cx="384.77" cy="120.17" rx="7.02" ry="2.90" fill="#6688c0" opacity="0.85" transform="rotate(-30 384.77 120.17)" filter="url(#b1)"/>
<ellipse cx="384.77" cy="120.17" rx="5.21" ry="2.02" fill="#4a8aa2" opacity="0.85" transform="rotate(-30 384.77 120.17)" filter="url(#b1)"/>
<ellipse cx="384.77" cy="120.17" rx="3.01" ry="1.08" fill="#3d8a94" opacity="0.6" transform="rotate(-30 384.77 120.17)" filter="url(#b1)"/>
<ellipse cx="369.44" cy="135.07" rx="5.89" ry="4.57" fill="#c3cfec" opacity="0.65" transform="rotate(-5 369.44 135.07)" filter="url(#b2)"/>
<ellipse cx="369.44" cy="135.07" rx="4.72" ry="3.43" fill="#4f78b8" opacity="0.9" transform="rotate(-5 369.44 135.07)" filter="url(#b1)"/>
<ellipse cx="369.44" cy="135.07" rx="3.87" ry="2.68" fill="#2f8c93" opacity="0.95" transform="rotate(-5 369.44 135.07)" filter="url(#b1)"/>
<ellipse cx="369.44" cy="135.07" rx="2.83" ry="1.89" fill="#49b24e" opacity="0.95" transform="rotate(-5 369.44 135.07)" filter="url(#b1)"/>
<ellipse cx="369.44" cy="135.07" rx="1.41" ry="0.98" fill="#a8d04c" opacity="0.8" transform="rotate(-5 369.44 135.07)" filter="url(#b1)"/>
</g>
<path d="M361.30,140.10V103.60M398.80,103.60V140.10" fill="none" stroke="#e6a0a0" stroke-width="0.45" stroke-dasharray="1 1.2" opacity="0.8"/>
<line x1="376.50" y1="102.70" x2="376.50" y2="141.10" stroke="#a2a2b2" stroke-width="1.1" />
<line x1="360.40" y1="126.00" x2="399.70" y2="126.00" stroke="#b6b6be" stroke-width="1.6" />
<path d="M361.40,123.34H398.70" stroke="#ecc4c4" stroke-width="0.4" stroke-dasharray="1 1"/>
<path d="M361.40,140.80H369.40" stroke="#111" stroke-width="0.9" stroke-dasharray="0.9 0.5"/>
<path d="M360.60,135.30V136.90" stroke="#111" stroke-width="1.1"/>
<text x="361.70" y="106.60" font-size="2.5" fill="#cf5a5a" >Q1</text>
<text x="361.70" y="109.00" font-size="2.5" fill="#cf5a5a" textLength="5.00" lengthAdjust="spacingAndGlyphs" >0.000</text>
<text x="398.40" y="106.60" font-size="2.5" fill="#cf5a5a" text-anchor="end" >Q2</text>
<text x="398.40" y="109.00" font-size="2.5" fill="#cf5a5a" text-anchor="end" >1.0</text>
<text x="361.70" y="136.90" font-size="2.5" fill="#cf5a5a" >Q4</text>
<text x="361.70" y="139.30" font-size="2.5" fill="#cf5a5a" >90.0</text>
<text x="398.40" y="136.90" font-size="2.5" fill="#cf5a5a" text-anchor="end" >Q3</text>
<text x="398.40" y="139.30" font-size="2.5" fill="#cf5a5a" text-anchor="end" >5.0</text>
<line x1="359.40" y1="106.10" x2="361.10" y2="106.10" stroke="#444" stroke-width="0.7" />
<text x="358.50" y="107.50" font-size="3.9" fill="#555" text-anchor="end" >10<tspan dy='-1.3' font-size='2.6'>5</tspan></text>
<line x1="359.40" y1="114.70" x2="361.10" y2="114.70" stroke="#444" stroke-width="0.7" />
<text x="358.50" y="116.10" font-size="3.9" fill="#555" text-anchor="end" >10<tspan dy='-1.3' font-size='2.6'>4</tspan></text>
<line x1="359.40" y1="123.20" x2="361.10" y2="123.20" stroke="#444" stroke-width="0.7" />
<text x="358.50" y="124.60" font-size="3.9" fill="#555" text-anchor="end" >10<tspan dy='-1.3' font-size='2.6'>3</tspan></text>
<line x1="359.40" y1="131.90" x2="361.10" y2="131.90" stroke="#444" stroke-width="0.7" />
<text x="358.50" y="133.30" font-size="3.9" fill="#555" text-anchor="end" >10<tspan dy='-1.3' font-size='2.6'>2</tspan></text>
<line x1="359.40" y1="136.90" x2="361.10" y2="136.90" stroke="#444" stroke-width="0.7" />
<text x="358.50" y="138.30" font-size="3.9" fill="#555" text-anchor="end" >0</text>
<line x1="369.10" y1="140.50" x2="369.10" y2="142.10" stroke="#444" stroke-width="0.7" />
<text x="369.70" y="147.00" font-size="3.9" fill="#555" text-anchor="middle" >0</text>
<line x1="377.70" y1="140.50" x2="377.70" y2="142.10" stroke="#444" stroke-width="0.7" />
<text x="378.30" y="147.00" font-size="3.9" fill="#555" text-anchor="middle" >10<tspan dy='-1.3' font-size='2.6'>3</tspan></text>
<line x1="386.40" y1="140.50" x2="386.40" y2="142.10" stroke="#444" stroke-width="0.7" />
<text x="387.00" y="147.00" font-size="3.9" fill="#555" text-anchor="middle" >10<tspan dy='-1.3' font-size='2.6'>4</tspan></text>
<line x1="395.60" y1="140.50" x2="395.60" y2="142.10" stroke="#444" stroke-width="0.7" />
<text x="396.20" y="147.00" font-size="3.9" fill="#555" text-anchor="middle" >10<tspan dy='-1.3' font-size='2.6'>5</tspan></text>
<text x="379.40" y="152.70" font-size="4.8" fill="#3a3a3a" text-anchor="middle" font-weight="bold" textLength="20.50" lengthAdjust="spacingAndGlyphs" >Comp-APC-A</text>
<text x="350.10" y="121.90" font-size="4.8" fill="#3a3a3a" text-anchor="middle" font-weight="bold" textLength="19.50" lengthAdjust="spacingAndGlyphs" transform="rotate(-90 350.10 121.90)" >Comp-PE-A</text>
<rect x="416.60" y="102.70" width="39.3" height="38.4" fill="#fff" stroke="#cfcfcf" stroke-width="0.6"/>
<g filter="url(#grain)">
<ellipse cx="440.18" cy="133.42" rx="7.15" ry="5.91" fill="#d2daf0" opacity="0.7" transform="rotate(-15 440.18 133.42)" filter="url(#b2)"/>
<ellipse cx="440.18" cy="133.42" rx="5.50" ry="4.22" fill="#7d97cc" opacity="0.7" transform="rotate(-15 440.18 133.42)" filter="url(#b1)"/>
<ellipse cx="440.18" cy="133.42" rx="3.30" ry="2.53" fill="#5d7fbd" opacity="0.6" transform="rotate(-15 440.18 133.42)" filter="url(#b1)"/>
<ellipse cx="442.66" cy="120.48" rx="6.64" ry="2.69" fill="#d2daf0" opacity="0.7" transform="rotate(-35 442.66 120.48)" filter="url(#b2)"/>
<ellipse cx="442.66" cy="120.48" rx="5.11" ry="1.92" fill="#7d97cc" opacity="0.7" transform="rotate(-35 442.66 120.48)" filter="url(#b1)"/>
<ellipse cx="442.66" cy="120.48" rx="3.07" ry="1.15" fill="#5d7fbd" opacity="0.6" transform="rotate(-35 442.66 120.48)" filter="url(#b1)"/>
<ellipse cx="426.82" cy="135.07" rx="5.89" ry="4.57" fill="#c3cfec" opacity="0.65" transform="rotate(-5 426.82 135.07)" filter="url(#b2)"/>
<ellipse cx="426.82" cy="135.07" rx="4.72" ry="3.43" fill="#4f78b8" opacity="0.9" transform="rotate(-5 426.82 135.07)" filter="url(#b1)"/>
<ellipse cx="426.82" cy="135.07" rx="3.87" ry="2.68" fill="#2f8c93" opacity="0.95" transform="rotate(-5 426.82 135.07)" filter="url(#b1)"/>
<ellipse cx="426.82" cy="135.07" rx="2.83" ry="1.89" fill="#49b24e" opacity="0.95" transform="rotate(-5 426.82 135.07)" filter="url(#b1)"/>
<ellipse cx="426.82" cy="135.07" rx="1.41" ry="0.98" fill="#a8d04c" opacity="0.8" transform="rotate(-5 426.82 135.07)" filter="url(#b1)"/>
</g>
<path d="M417.50,140.10V103.60M455.00,103.60V140.10" fill="none" stroke="#e6a0a0" stroke-width="0.45" stroke-dasharray="1 1.2" opacity="0.8"/>
<line x1="432.50" y1="102.70" x2="432.50" y2="141.10" stroke="#a2a2b2" stroke-width="1.1" />
<line x1="416.60" y1="126.00" x2="455.90" y2="126.00" stroke="#b6b6be" stroke-width="1.6" />
<path d="M417.60,123.34H454.90" stroke="#ecc4c4" stroke-width="0.4" stroke-dasharray="1 1"/>
<path d="M417.60,140.80H425.60" stroke="#111" stroke-width="0.9" stroke-dasharray="0.9 0.5"/>
<path d="M416.80,135.30V136.90" stroke="#111" stroke-width="1.1"/>
<text x="417.90" y="106.60" font-size="2.5" fill="#cf5a5a" >Q1</text>
<text x="417.90" y="109.00" font-size="2.5" fill="#cf5a5a" textLength="5.00" lengthAdjust="spacingAndGlyphs" >0.000</text>
<text x="454.60" y="106.60" font-size="2.5" fill="#cf5a5a" text-anchor="end" >Q2</text>
<text x="454.60" y="109.00" font-size="2.5" fill="#cf5a5a" text-anchor="end" >1.0</text>
<text x="417.90" y="136.90" font-size="2.5" fill="#cf5a5a" >Q4</text>
<text x="417.90" y="139.30" font-size="2.5" fill="#cf5a5a" >90.0</text>
<text x="454.60" y="136.90" font-size="2.5" fill="#cf5a5a" text-anchor="end" >Q3</text>
<text x="454.60" y="139.30" font-size="2.5" fill="#cf5a5a" text-anchor="end" >5.0</text>
<line x1="415.60" y1="106.10" x2="417.30" y2="106.10" stroke="#444" stroke-width="0.7" />
<text x="414.70" y="107.50" font-size="3.9" fill="#555" text-anchor="end" >10<tspan dy='-1.3' font-size='2.6'>5</tspan></text>
<line x1="415.60" y1="114.70" x2="417.30" y2="114.70" stroke="#444" stroke-width="0.7" />
<text x="414.70" y="116.10" font-size="3.9" fill="#555" text-anchor="end" >10<tspan dy='-1.3' font-size='2.6'>4</tspan></text>
<line x1="415.60" y1="123.20" x2="417.30" y2="123.20" stroke="#444" stroke-width="0.7" />
<text x="414.70" y="124.60" font-size="3.9" fill="#555" text-anchor="end" >10<tspan dy='-1.3' font-size='2.6'>3</tspan></text>
<line x1="415.60" y1="131.90" x2="417.30" y2="131.90" stroke="#444" stroke-width="0.7" />
<text x="414.70" y="133.30" font-size="3.9" fill="#555" text-anchor="end" >10<tspan dy='-1.3' font-size='2.6'>2</tspan></text>
<line x1="415.60" y1="136.90" x2="417.30" y2="136.90" stroke="#444" stroke-width="0.7" />
<text x="414.70" y="138.30" font-size="3.9" fill="#555" text-anchor="end" >0</text>
<line x1="425.30" y1="140.50" x2="425.30" y2="142.10" stroke="#444" stroke-width="0.7" />
<text x="425.90" y="147.00" font-size="3.9" fill="#555" text-anchor="middle" >0</text>
<line x1="433.90" y1="140.50" x2="433.90" y2="142.10" stroke="#444" stroke-width="0.7" />
<text x="434.50" y="147.00" font-size="3.9" fill="#555" text-anchor="middle" >10<tspan dy='-1.3' font-size='2.6'>3</tspan></text>
<line x1="442.60" y1="140.50" x2="442.60" y2="142.10" stroke="#444" stroke-width="0.7" />
<text x="443.20" y="147.00" font-size="3.9" fill="#555" text-anchor="middle" >10<tspan dy='-1.3' font-size='2.6'>4</tspan></text>
<line x1="451.80" y1="140.50" x2="451.80" y2="142.10" stroke="#444" stroke-width="0.7" />
<text x="452.40" y="147.00" font-size="3.9" fill="#555" text-anchor="middle" >10<tspan dy='-1.3' font-size='2.6'>5</tspan></text>
<text x="435.60" y="152.70" font-size="4.8" fill="#3a3a3a" text-anchor="middle" font-weight="bold" textLength="20.50" lengthAdjust="spacingAndGlyphs" >Comp-APC-A</text>
<text x="406.30" y="121.90" font-size="4.8" fill="#3a3a3a" text-anchor="middle" font-weight="bold" textLength="19.50" lengthAdjust="spacingAndGlyphs" transform="rotate(-90 406.30 121.90)" >Comp-PE-A</text>
<rect x="473.00" y="102.70" width="39.3" height="38.4" fill="#fff" stroke="#cfcfcf" stroke-width="0.6"/>
<g filter="url(#grain)">
<ellipse cx="496.97" cy="133.42" rx="7.43" ry="8.35" fill="#c8d2ee" opacity="0.7" transform="rotate(0 496.97 133.42)" filter="url(#b2)"/>
<ellipse cx="496.97" cy="133.42" rx="5.78" ry="6.22" fill="#6688c0" opacity="0.85" transform="rotate(0 496.97 133.42)" filter="url(#b1)"/>
<ellipse cx="496.97" cy="133.42" rx="4.29" ry="4.32" fill="#4a8aa2" opacity="0.85" transform="rotate(0 496.97 133.42)" filter="url(#b1)"/>
<ellipse cx="496.97" cy="133.42" rx="2.48" ry="2.30" fill="#3d8a94" opacity="0.6" transform="rotate(0 496.97 133.42)" filter="url(#b1)"/>
<ellipse cx="497.76" cy="120.48" rx="10.08" ry="4.61" fill="#c3cfec" opacity="0.7" transform="rotate(-38 497.76 120.48)" filter="url(#b2)"/>
<ellipse cx="497.76" cy="120.48" rx="7.84" ry="3.32" fill="#5f84bd" opacity="0.85" transform="rotate(-38 497.76 120.48)" filter="url(#b1)"/>
<ellipse cx="497.76" cy="120.48" rx="5.97" ry="2.33" fill="#41899e" opacity="0.9" transform="rotate(-38 497.76 120.48)" filter="url(#b1)"/>
<ellipse cx="497.76" cy="120.48" rx="3.58" ry="1.29" fill="#4fa66a" opacity="0.8" transform="rotate(-38 497.76 120.48)" filter="url(#b1)"/>
<ellipse cx="482.82" cy="135.46" rx="6.37" ry="5.29" fill="#c8d2ee" opacity="0.7" transform="rotate(-5 482.82 135.46)" filter="url(#b2)"/>
<ellipse cx="482.82" cy="135.46" rx="4.95" ry="3.94" fill="#6688c0" opacity="0.85" transform="rotate(-5 482.82 135.46)" filter="url(#b1)"/>
<ellipse cx="482.82" cy="135.46" rx="3.68" ry="2.74" fill="#4a8aa2" opacity="0.85" transform="rotate(-5 482.82 135.46)" filter="url(#b1)"/>
<ellipse cx="482.82" cy="135.46" rx="2.12" ry="1.46" fill="#3d8a94" opacity="0.6" transform="rotate(-5 482.82 135.46)" filter="url(#b1)"/>
</g>
<path d="M473.90,140.10V103.60M511.40,103.60V140.10" fill="none" stroke="#e6a0a0" stroke-width="0.45" stroke-dasharray="1 1.2" opacity="0.8"/>
<line x1="489.50" y1="102.70" x2="489.50" y2="141.10" stroke="#a2a2b2" stroke-width="1.1" />
<line x1="473.00" y1="126.00" x2="512.30" y2="126.00" stroke="#b6b6be" stroke-width="1.6" />
<path d="M474.00,123.34H511.30" stroke="#ecc4c4" stroke-width="0.4" stroke-dasharray="1 1"/>
<path d="M474.00,140.80H482.00" stroke="#111" stroke-width="0.9" stroke-dasharray="0.9 0.5"/>
<path d="M473.20,135.30V136.90" stroke="#111" stroke-width="1.1"/>
<text x="474.30" y="106.60" font-size="2.5" fill="#cf5a5a" >Q1</text>
<text x="474.30" y="109.00" font-size="2.5" fill="#cf5a5a" textLength="5.00" lengthAdjust="spacingAndGlyphs" >0.000</text>
<text x="511.00" y="106.60" font-size="2.5" fill="#cf5a5a" text-anchor="end" >Q2</text>
<text x="511.00" y="109.00" font-size="2.5" fill="#cf5a5a" text-anchor="end" >1.0</text>
<text x="474.30" y="136.90" font-size="2.5" fill="#cf5a5a" >Q4</text>
<text x="474.30" y="139.30" font-size="2.5" fill="#cf5a5a" >90.0</text>
<text x="511.00" y="136.90" font-size="2.5" fill="#cf5a5a" text-anchor="end" >Q3</text>
<text x="511.00" y="139.30" font-size="2.5" fill="#cf5a5a" text-anchor="end" >5.0</text>
<line x1="472.00" y1="106.10" x2="473.70" y2="106.10" stroke="#444" stroke-width="0.7" />
<text x="471.10" y="107.50" font-size="3.9" fill="#555" text-anchor="end" >10<tspan dy='-1.3' font-size='2.6'>5</tspan></text>
<line x1="472.00" y1="114.70" x2="473.70" y2="114.70" stroke="#444" stroke-width="0.7" />
<text x="471.10" y="116.10" font-size="3.9" fill="#555" text-anchor="end" >10<tspan dy='-1.3' font-size='2.6'>4</tspan></text>
<line x1="472.00" y1="123.20" x2="473.70" y2="123.20" stroke="#444" stroke-width="0.7" />
<text x="471.10" y="124.60" font-size="3.9" fill="#555" text-anchor="end" >10<tspan dy='-1.3' font-size='2.6'>3</tspan></text>
<line x1="472.00" y1="131.90" x2="473.70" y2="131.90" stroke="#444" stroke-width="0.7" />
<text x="471.10" y="133.30" font-size="3.9" fill="#555" text-anchor="end" >10<tspan dy='-1.3' font-size='2.6'>2</tspan></text>
<line x1="472.00" y1="136.90" x2="473.70" y2="136.90" stroke="#444" stroke-width="0.7" />
<text x="471.10" y="138.30" font-size="3.9" fill="#555" text-anchor="end" >0</text>
<line x1="481.70" y1="140.50" x2="481.70" y2="142.10" stroke="#444" stroke-width="0.7" />
<text x="482.30" y="147.00" font-size="3.9" fill="#555" text-anchor="middle" >0</text>
<line x1="490.30" y1="140.50" x2="490.30" y2="142.10" stroke="#444" stroke-width="0.7" />
<text x="490.90" y="147.00" font-size="3.9" fill="#555" text-anchor="middle" >10<tspan dy='-1.3' font-size='2.6'>3</tspan></text>
<line x1="499.00" y1="140.50" x2="499.00" y2="142.10" stroke="#444" stroke-width="0.7" />
<text x="499.60" y="147.00" font-size="3.9" fill="#555" text-anchor="middle" >10<tspan dy='-1.3' font-size='2.6'>4</tspan></text>
<line x1="508.20" y1="140.50" x2="508.20" y2="142.10" stroke="#444" stroke-width="0.7" />
<text x="508.80" y="147.00" font-size="3.9" fill="#555" text-anchor="middle" >10<tspan dy='-1.3' font-size='2.6'>5</tspan></text>
<text x="492.00" y="152.70" font-size="4.8" fill="#3a3a3a" text-anchor="middle" font-weight="bold" textLength="20.50" lengthAdjust="spacingAndGlyphs" >Comp-APC-A</text>
<text x="462.70" y="121.90" font-size="4.8" fill="#3a3a3a" text-anchor="middle" font-weight="bold" textLength="19.50" lengthAdjust="spacingAndGlyphs" transform="rotate(-90 462.70 121.90)" >Comp-PE-A</text>
<text x="31.80" y="176.20" font-size="8.5" fill="#2d3550" textLength="17.80" lengthAdjust="spacingAndGlyphs" stroke="#2d3550" stroke-width="0.15">JJN3</text>
<text x="102.10" y="184.60" font-size="6" fill="#222" text-anchor="middle" textLength="15.10" lengthAdjust="spacingAndGlyphs" stroke="#222" stroke-width="0.1">shNC</text>
<text x="215.30" y="184.70" font-size="6" fill="#222" text-anchor="middle" textLength="18.60" lengthAdjust="spacingAndGlyphs" stroke="#222" stroke-width="0.1">shATG5</text>
<line x1="55.40" y1="188.20" x2="148.70" y2="188.20" stroke="#333" stroke-width="1.1" />
<line x1="165.40" y1="188.20" x2="261.00" y2="188.20" stroke="#333" stroke-width="1.1" />
<text x="72.85" y="195.30" font-size="6" fill="#222" text-anchor="middle" textLength="23.40" lengthAdjust="spacingAndGlyphs" >Bort0nM</text>
<text x="129.05" y="195.30" font-size="6" fill="#222" text-anchor="middle" textLength="23.40" lengthAdjust="spacingAndGlyphs" >Bort5nM</text>
<text x="185.25" y="195.30" font-size="6" fill="#222" text-anchor="middle" textLength="23.40" lengthAdjust="spacingAndGlyphs" >Bort0nM</text>
<text x="241.65" y="195.30" font-size="6" fill="#222" text-anchor="middle" textLength="23.40" lengthAdjust="spacingAndGlyphs" >Bort5nM</text>
<text x="17.80" y="194.60" font-size="8.4" fill="#1a1a1a" font-weight="bold" textLength="14.00" lengthAdjust="spacingAndGlyphs" >PI-PE</text>
<path d="M34.90,189.70V307.80" fill="none" stroke="#858585" stroke-width="1.9"/>
<path d="M33.95,307.90H261.30" fill="none" stroke="#3a3a3a" stroke-width="1.25"/>
<text x="31.10" y="217.00" font-size="6" fill="#333" text-anchor="middle" textLength="37.00" lengthAdjust="spacingAndGlyphs" transform="rotate(-90 31.10 217.00)" stroke="#333" stroke-width="0.12">shTRIM21NC</text>
<text x="31.10" y="273.70" font-size="6" fill="#333" text-anchor="middle" textLength="27.30" lengthAdjust="spacingAndGlyphs" transform="rotate(-90 31.10 273.70)" stroke="#333" stroke-width="0.12">shTRIM21</text>
<text x="223.30" y="318.70" font-size="7.3" fill="#1a1a1a" font-weight="bold" textLength="37.20" lengthAdjust="spacingAndGlyphs" >Annexin V-APC</text>
<rect x="53.20" y="197.60" width="39.3" height="38.4" fill="#fff" stroke="#cfcfcf" stroke-width="0.6"/>
<g filter="url(#grain)">
<ellipse cx="79.92" cy="214.11" rx="5.66" ry="4.49" fill="#e6e9f4" opacity="0.9" transform="rotate(-50 79.92 214.11)" filter="url(#b2)"/>
<ellipse cx="79.92" cy="214.11" rx="3.30" ry="2.42" fill="#d2d8ec" opacity="0.7" transform="rotate(-50 79.92 214.11)" filter="url(#b1)"/>
<ellipse cx="78.75" cy="227.17" rx="3.30" ry="3.99" fill="#e6e9f4" opacity="0.9" transform="rotate(0 78.75 227.17)" filter="url(#b2)"/>
<ellipse cx="78.75" cy="227.17" rx="1.93" ry="2.15" fill="#d2d8ec" opacity="0.7" transform="rotate(0 78.75 227.17)" filter="url(#b1)"/>
<ellipse cx="64.99" cy="229.09" rx="7.61" ry="4.57" fill="#c3cfec" opacity="0.65" transform="rotate(-15 64.99 229.09)" filter="url(#b2)"/>
<ellipse cx="64.99" cy="229.09" rx="6.09" ry="3.43" fill="#4f78b8" opacity="0.9" transform="rotate(-15 64.99 229.09)" filter="url(#b1)"/>
<ellipse cx="64.99" cy="229.09" rx="5.00" ry="2.68" fill="#2f8c93" opacity="0.95" transform="rotate(-15 64.99 229.09)" filter="url(#b1)"/>
<ellipse cx="64.99" cy="229.09" rx="3.65" ry="1.89" fill="#49b24e" opacity="0.95" transform="rotate(-15 64.99 229.09)" filter="url(#b1)"/>
<ellipse cx="64.99" cy="229.09" rx="1.83" ry="0.98" fill="#a8d04c" opacity="0.8" transform="rotate(-15 64.99 229.09)" filter="url(#b1)"/>
</g>
<line x1="71.50" y1="197.60" x2="71.50" y2="236.00" stroke="#6c6c7a" stroke-width="1.0" />
<line x1="53.20" y1="220.50" x2="92.50" y2="220.50" stroke="#767682" stroke-width="1.0" />
<path d="M54.20,235.70H62.20" stroke="#111" stroke-width="0.9" stroke-dasharray="0.9 0.5"/>
<path d="M53.40,230.20V231.80" stroke="#111" stroke-width="1.1"/>
<text x="54.50" y="201.50" font-size="2.5" fill="#5a5a5a" >Q1</text>
<text x="54.50" y="203.90" font-size="2.5" fill="#5a5a5a" textLength="5.00" lengthAdjust="spacingAndGlyphs" >0.000</text>
<text x="91.20" y="201.50" font-size="2.5" fill="#5a5a5a" text-anchor="end" >Q2</text>
<text x="91.20" y="203.90" font-size="2.5" fill="#5a5a5a" text-anchor="end" >1.0</text>
<text x="54.50" y="231.80" font-size="2.5" fill="#5a5a5a" >Q4</text>
<text x="54.50" y="234.20" font-size="2.5" fill="#5a5a5a" >90.0</text>
<text x="91.20" y="231.80" font-size="2.5" fill="#5a5a5a" text-anchor="end" >Q3</text>
<text x="91.20" y="234.20" font-size="2.5" fill="#5a5a5a" text-anchor="end" >5.0</text>
<line x1="52.20" y1="201.00" x2="53.90" y2="201.00" stroke="#444" stroke-width="0.7" />
<text x="51.30" y="202.40" font-size="3.9" fill="#555" text-anchor="end" >10<tspan dy='-1.3' font-size='2.6'>5</tspan></text>
<line x1="52.20" y1="209.60" x2="53.90" y2="209.60" stroke="#444" stroke-width="0.7" />
<text x="51.30" y="211.00" font-size="3.9" fill="#555" text-anchor="end" >10<tspan dy='-1.3' font-size='2.6'>4</tspan></text>
<line x1="52.20" y1="218.10" x2="53.90" y2="218.10" stroke="#444" stroke-width="0.7" />
<text x="51.30" y="219.50" font-size="3.9" fill="#555" text-anchor="end" >10<tspan dy='-1.3' font-size='2.6'>3</tspan></text>
<line x1="52.20" y1="226.80" x2="53.90" y2="226.80" stroke="#444" stroke-width="0.7" />
<text x="51.30" y="228.20" font-size="3.9" fill="#555" text-anchor="end" >10<tspan dy='-1.3' font-size='2.6'>2</tspan></text>
<line x1="52.20" y1="231.80" x2="53.90" y2="231.80" stroke="#444" stroke-width="0.7" />
<text x="51.30" y="233.20" font-size="3.9" fill="#555" text-anchor="end" >0</text>
<line x1="61.90" y1="235.40" x2="61.90" y2="237.00" stroke="#444" stroke-width="0.7" />
<text x="62.50" y="241.90" font-size="3.9" fill="#555" text-anchor="middle" >0</text>
<line x1="70.50" y1="235.40" x2="70.50" y2="237.00" stroke="#444" stroke-width="0.7" />
<text x="71.10" y="241.90" font-size="3.9" fill="#555" text-anchor="middle" >10<tspan dy='-1.3' font-size='2.6'>3</tspan></text>
<line x1="79.20" y1="235.40" x2="79.20" y2="237.00" stroke="#444" stroke-width="0.7" />
<text x="79.80" y="241.90" font-size="3.9" fill="#555" text-anchor="middle" >10<tspan dy='-1.3' font-size='2.6'>4</tspan></text>
<line x1="88.40" y1="235.40" x2="88.40" y2="237.00" stroke="#444" stroke-width="0.7" />
<text x="89.00" y="241.90" font-size="3.9" fill="#555" text-anchor="middle" >10<tspan dy='-1.3' font-size='2.6'>5</tspan></text>
<text x="72.20" y="247.60" font-size="4.8" fill="#3a3a3a" text-anchor="middle" font-weight="bold" textLength="20.50" lengthAdjust="spacingAndGlyphs" >Comp-APC-A</text>
<text x="42.90" y="216.80" font-size="4.8" fill="#3a3a3a" text-anchor="middle" font-weight="bold" textLength="19.50" lengthAdjust="spacingAndGlyphs" transform="rotate(-90 42.90 216.80)" >Comp-PE-A</text>
<rect x="109.40" y="197.60" width="39.3" height="38.4" fill="#fff" stroke="#cfcfcf" stroke-width="0.6"/>
<g filter="url(#grain)">
<ellipse cx="133.77" cy="226.78" rx="6.39" ry="6.72" fill="#d2daf0" opacity="0.7" transform="rotate(-20 133.77 226.78)" filter="url(#b2)"/>
<ellipse cx="133.77" cy="226.78" rx="4.91" ry="4.80" fill="#7d97cc" opacity="0.7" transform="rotate(-20 133.77 226.78)" filter="url(#b1)"/>
<ellipse cx="133.77" cy="226.78" rx="2.95" ry="2.88" fill="#5d7fbd" opacity="0.6" transform="rotate(-20 133.77 226.78)" filter="url(#b1)"/>
<ellipse cx="135.46" cy="215.61" rx="9.60" ry="4.20" fill="#c3cfec" opacity="0.7" transform="rotate(-35 135.46 215.61)" filter="url(#b2)"/>
<ellipse cx="135.46" cy="215.61" rx="7.47" ry="3.03" fill="#5f84bd" opacity="0.85" transform="rotate(-35 135.46 215.61)" filter="url(#b1)"/>
<ellipse cx="135.46" cy="215.61" rx="5.69" ry="2.13" fill="#41899e" opacity="0.9" transform="rotate(-35 135.46 215.61)" filter="url(#b1)"/>
<ellipse cx="135.46" cy="215.61" rx="3.41" ry="1.18" fill="#4fa66a" opacity="0.8" transform="rotate(-35 135.46 215.61)" filter="url(#b1)"/>
<ellipse cx="121.82" cy="227.44" rx="8.35" ry="4.57" fill="#c3cfec" opacity="0.65" transform="rotate(-33 121.82 227.44)" filter="url(#b2)"/>
<ellipse cx="121.82" cy="227.44" rx="6.68" ry="3.43" fill="#4f78b8" opacity="0.9" transform="rotate(-33 121.82 227.44)" filter="url(#b1)"/>
<ellipse cx="121.82" cy="227.44" rx="5.48" ry="2.68" fill="#2f8c93" opacity="0.95" transform="rotate(-33 121.82 227.44)" filter="url(#b1)"/>
<ellipse cx="121.82" cy="227.44" rx="4.01" ry="1.89" fill="#49b24e" opacity="0.95" transform="rotate(-33 121.82 227.44)" filter="url(#b1)"/>
<ellipse cx="121.82" cy="227.44" rx="2.00" ry="0.98" fill="#a8d04c" opacity="0.8" transform="rotate(-33 121.82 227.44)" filter="url(#b1)"/>
</g>
<line x1="128.50" y1="197.60" x2="128.50" y2="236.00" stroke="#6c6c7a" stroke-width="1.0" />
<line x1="109.40" y1="220.50" x2="148.70" y2="220.50" stroke="#767682" stroke-width="1.0" />
<path d="M110.40,235.70H118.40" stroke="#111" stroke-width="0.9" stroke-dasharray="0.9 0.5"/>
<path d="M109.60,230.20V231.80" stroke="#111" stroke-width="1.1"/>
<text x="110.70" y="201.50" font-size="2.5" fill="#5a5a5a" >Q1</text>
<text x="110.70" y="203.90" font-size="2.5" fill="#5a5a5a" textLength="5.00" lengthAdjust="spacingAndGlyphs" >0.000</text>
<text x="147.40" y="201.50" font-size="2.5" fill="#5a5a5a" text-anchor="end" >Q2</text>
<text x="147.40" y="203.90" font-size="2.5" fill="#5a5a5a" text-anchor="end" >1.0</text>
<text x="110.70" y="231.80" font-size="2.5" fill="#5a5a5a" >Q4</text>
<text x="110.70" y="234.20" font-size="2.5" fill="#5a5a5a" >90.0</text>
<text x="147.40" y="231.80" font-size="2.5" fill="#5a5a5a" text-anchor="end" >Q3</text>
<text x="147.40" y="234.20" font-size="2.5" fill="#5a5a5a" text-anchor="end" >5.0</text>
<line x1="108.40" y1="201.00" x2="110.10" y2="201.00" stroke="#444" stroke-width="0.7" />
<text x="107.50" y="202.40" font-size="3.9" fill="#555" text-anchor="end" >10<tspan dy='-1.3' font-size='2.6'>5</tspan></text>
<line x1="108.40" y1="209.60" x2="110.10" y2="209.60" stroke="#444" stroke-width="0.7" />
<text x="107.50" y="211.00" font-size="3.9" fill="#555" text-anchor="end" >10<tspan dy='-1.3' font-size='2.6'>4</tspan></text>
<line x1="108.40" y1="218.10" x2="110.10" y2="218.10" stroke="#444" stroke-width="0.7" />
<text x="107.50" y="219.50" font-size="3.9" fill="#555" text-anchor="end" >10<tspan dy='-1.3' font-size='2.6'>3</tspan></text>
<line x1="108.40" y1="226.80" x2="110.10" y2="226.80" stroke="#444" stroke-width="0.7" />
<text x="107.50" y="228.20" font-size="3.9" fill="#555" text-anchor="end" >10<tspan dy='-1.3' font-size='2.6'>2</tspan></text>
<line x1="108.40" y1="231.80" x2="110.10" y2="231.80" stroke="#444" stroke-width="0.7" />
<text x="107.50" y="233.20" font-size="3.9" fill="#555" text-anchor="end" >0</text>
<line x1="118.10" y1="235.40" x2="118.10" y2="237.00" stroke="#444" stroke-width="0.7" />
<text x="118.70" y="241.90" font-size="3.9" fill="#555" text-anchor="middle" >0</text>
<line x1="126.70" y1="235.40" x2="126.70" y2="237.00" stroke="#444" stroke-width="0.7" />
<text x="127.30" y="241.90" font-size="3.9" fill="#555" text-anchor="middle" >10<tspan dy='-1.3' font-size='2.6'>3</tspan></text>
<line x1="135.40" y1="235.40" x2="135.40" y2="237.00" stroke="#444" stroke-width="0.7" />
<text x="136.00" y="241.90" font-size="3.9" fill="#555" text-anchor="middle" >10<tspan dy='-1.3' font-size='2.6'>4</tspan></text>
<line x1="144.60" y1="235.40" x2="144.60" y2="237.00" stroke="#444" stroke-width="0.7" />
<text x="145.20" y="241.90" font-size="3.9" fill="#555" text-anchor="middle" >10<tspan dy='-1.3' font-size='2.6'>5</tspan></text>
<text x="128.40" y="247.60" font-size="4.8" fill="#3a3a3a" text-anchor="middle" font-weight="bold" textLength="20.50" lengthAdjust="spacingAndGlyphs" >Comp-APC-A</text>
<text x="99.10" y="216.80" font-size="4.8" fill="#3a3a3a" text-anchor="middle" font-weight="bold" textLength="19.50" lengthAdjust="spacingAndGlyphs" transform="rotate(-90 99.10 216.80)" >Comp-PE-A</text>
<rect x="165.60" y="197.60" width="39.3" height="38.4" fill="#fff" stroke="#cfcfcf" stroke-width="0.6"/>
<g filter="url(#grain)">
<ellipse cx="192.48" cy="213.34" rx="5.89" ry="6.49" fill="#dfe4f4" opacity="0.8" transform="rotate(0 192.48 213.34)" filter="url(#b2)"/>
<ellipse cx="192.48" cy="213.34" rx="4.01" ry="4.24" fill="#b4c0e4" opacity="0.6" transform="rotate(0 192.48 213.34)" filter="url(#b1)"/>
<ellipse cx="189.18" cy="228.32" rx="3.93" ry="3.49" fill="#dfe4f4" opacity="0.8" transform="rotate(0 189.18 228.32)" filter="url(#b2)"/>
<ellipse cx="189.18" cy="228.32" rx="2.67" ry="2.28" fill="#b4c0e4" opacity="0.6" transform="rotate(0 189.18 228.32)" filter="url(#b1)"/>
<ellipse cx="194.13" cy="224.10" rx="4.09" ry="5.38" fill="#d2daf0" opacity="0.7" transform="rotate(-20 194.13 224.10)" filter="url(#b2)"/>
<ellipse cx="194.13" cy="224.10" rx="3.14" ry="3.84" fill="#7d97cc" opacity="0.7" transform="rotate(-20 194.13 224.10)" filter="url(#b1)"/>
<ellipse cx="194.13" cy="224.10" rx="1.89" ry="2.30" fill="#5d7fbd" opacity="0.6" transform="rotate(-20 194.13 224.10)" filter="url(#b1)"/>
<ellipse cx="178.41" cy="228.20" rx="7.37" ry="4.57" fill="#c3cfec" opacity="0.65" transform="rotate(-25 178.41 228.20)" filter="url(#b2)"/>
<ellipse cx="178.41" cy="228.20" rx="5.89" ry="3.43" fill="#4f78b8" opacity="0.9" transform="rotate(-25 178.41 228.20)" filter="url(#b1)"/>
<ellipse cx="178.41" cy="228.20" rx="4.83" ry="2.68" fill="#2f8c93" opacity="0.95" transform="rotate(-25 178.41 228.20)" filter="url(#b1)"/>
<ellipse cx="178.41" cy="228.20" rx="3.54" ry="1.89" fill="#49b24e" opacity="0.95" transform="rotate(-25 178.41 228.20)" filter="url(#b1)"/>
<ellipse cx="178.41" cy="228.20" rx="1.77" ry="0.98" fill="#a8d04c" opacity="0.8" transform="rotate(-25 178.41 228.20)" filter="url(#b1)"/>
</g>
<line x1="184.50" y1="197.60" x2="184.50" y2="236.00" stroke="#6c6c7a" stroke-width="1.0" />
<line x1="165.60" y1="220.50" x2="204.90" y2="220.50" stroke="#767682" stroke-width="1.0" />
<path d="M166.60,235.70H174.60" stroke="#111" stroke-width="0.9" stroke-dasharray="0.9 0.5"/>
<path d="M165.80,230.20V231.80" stroke="#111" stroke-width="1.1"/>
<text x="166.90" y="201.50" font-size="2.5" fill="#5a5a5a" >Q1</text>
<text x="166.90" y="203.90" font-size="2.5" fill="#5a5a5a" textLength="5.00" lengthAdjust="spacingAndGlyphs" >0.000</text>
<text x="203.60" y="201.50" font-size="2.5" fill="#5a5a5a" text-anchor="end" >Q2</text>
<text x="203.60" y="203.90" font-size="2.5" fill="#5a5a5a" text-anchor="end" >1.0</text>
<text x="166.90" y="231.80" font-size="2.5" fill="#5a5a5a" >Q4</text>
<text x="166.90" y="234.20" font-size="2.5" fill="#5a5a5a" >90.0</text>
<text x="203.60" y="231.80" font-size="2.5" fill="#5a5a5a" text-anchor="end" >Q3</text>
<text x="203.60" y="234.20" font-size="2.5" fill="#5a5a5a" text-anchor="end" >5.0</text>
<line x1="164.60" y1="201.00" x2="166.30" y2="201.00" stroke="#444" stroke-width="0.7" />
<text x="163.70" y="202.40" font-size="3.9" fill="#555" text-anchor="end" >10<tspan dy='-1.3' font-size='2.6'>5</tspan></text>
<line x1="164.60" y1="209.60" x2="166.30" y2="209.60" stroke="#444" stroke-width="0.7" />
<text x="163.70" y="211.00" font-size="3.9" fill="#555" text-anchor="end" >10<tspan dy='-1.3' font-size='2.6'>4</tspan></text>
<line x1="164.60" y1="218.10" x2="166.30" y2="218.10" stroke="#444" stroke-width="0.7" />
<text x="163.70" y="219.50" font-size="3.9" fill="#555" text-anchor="end" >10<tspan dy='-1.3' font-size='2.6'>3</tspan></text>
<line x1="164.60" y1="226.80" x2="166.30" y2="226.80" stroke="#444" stroke-width="0.7" />
<text x="163.70" y="228.20" font-size="3.9" fill="#555" text-anchor="end" >10<tspan dy='-1.3' font-size='2.6'>2</tspan></text>
<line x1="164.60" y1="231.80" x2="166.30" y2="231.80" stroke="#444" stroke-width="0.7" />
<text x="163.70" y="233.20" font-size="3.9" fill="#555" text-anchor="end" >0</text>
<line x1="174.30" y1="235.40" x2="174.30" y2="237.00" stroke="#444" stroke-width="0.7" />
<text x="174.90" y="241.90" font-size="3.9" fill="#555" text-anchor="middle" >0</text>
<line x1="182.90" y1="235.40" x2="182.90" y2="237.00" stroke="#444" stroke-width="0.7" />
<text x="183.50" y="241.90" font-size="3.9" fill="#555" text-anchor="middle" >10<tspan dy='-1.3' font-size='2.6'>3</tspan></text>
<line x1="191.60" y1="235.40" x2="191.60" y2="237.00" stroke="#444" stroke-width="0.7" />
<text x="192.20" y="241.90" font-size="3.9" fill="#555" text-anchor="middle" >10<tspan dy='-1.3' font-size='2.6'>4</tspan></text>
<line x1="200.80" y1="235.40" x2="200.80" y2="237.00" stroke="#444" stroke-width="0.7" />
<text x="201.40" y="241.90" font-size="3.9" fill="#555" text-anchor="middle" >10<tspan dy='-1.3' font-size='2.6'>5</tspan></text>
<text x="184.60" y="247.60" font-size="4.8" fill="#3a3a3a" text-anchor="middle" font-weight="bold" textLength="20.50" lengthAdjust="spacingAndGlyphs" >Comp-APC-A</text>
<text x="155.30" y="216.80" font-size="4.8" fill="#3a3a3a" text-anchor="middle" font-weight="bold" textLength="19.50" lengthAdjust="spacingAndGlyphs" transform="rotate(-90 155.30 216.80)" >Comp-PE-A</text>
<rect x="222.00" y="197.60" width="39.3" height="38.4" fill="#fff" stroke="#cfcfcf" stroke-width="0.6"/>
<g filter="url(#grain)">
<ellipse cx="245.58" cy="227.17" rx="3.93" ry="4.49" fill="#dfe4f4" opacity="0.8" transform="rotate(0 245.58 227.17)" filter="url(#b2)"/>
<ellipse cx="245.58" cy="227.17" rx="2.67" ry="2.94" fill="#b4c0e4" opacity="0.6" transform="rotate(0 245.58 227.17)" filter="url(#b1)"/>
<ellipse cx="250.30" cy="220.64" rx="3.98" ry="12.25" fill="#c8d2ee" opacity="0.7" transform="rotate(-8 250.30 220.64)" filter="url(#b2)"/>
<ellipse cx="250.30" cy="220.64" rx="3.09" ry="9.12" fill="#6688c0" opacity="0.85" transform="rotate(-8 250.30 220.64)" filter="url(#b1)"/>
<ellipse cx="250.30" cy="220.64" rx="2.30" ry="6.34" fill="#4a8aa2" opacity="0.85" transform="rotate(-8 250.30 220.64)" filter="url(#b1)"/>
<ellipse cx="250.30" cy="220.64" rx="1.33" ry="3.38" fill="#3d8a94" opacity="0.6" transform="rotate(-8 250.30 220.64)" filter="url(#b1)"/>
<ellipse cx="251.47" cy="214.11" rx="5.31" ry="3.90" fill="#c8d2ee" opacity="0.7" transform="rotate(-30 251.47 214.11)" filter="url(#b2)"/>
<ellipse cx="251.47" cy="214.11" rx="4.13" ry="2.90" fill="#6688c0" opacity="0.85" transform="rotate(-30 251.47 214.11)" filter="url(#b1)"/>
<ellipse cx="251.47" cy="214.11" rx="3.07" ry="2.02" fill="#4a8aa2" opacity="0.85" transform="rotate(-30 251.47 214.11)" filter="url(#b1)"/>
<ellipse cx="251.47" cy="214.11" rx="1.77" ry="1.08" fill="#3d8a94" opacity="0.6" transform="rotate(-30 251.47 214.11)" filter="url(#b1)"/>
<ellipse cx="234.69" cy="227.55" rx="8.60" ry="4.30" fill="#c3cfec" opacity="0.65" transform="rotate(-30 234.69 227.55)" filter="url(#b2)"/>
<ellipse cx="234.69" cy="227.55" rx="6.88" ry="3.23" fill="#4f78b8" opacity="0.9" transform="rotate(-30 234.69 227.55)" filter="url(#b1)"/>
<ellipse cx="234.69" cy="227.55" rx="5.64" ry="2.52" fill="#2f8c93" opacity="0.95" transform="rotate(-30 234.69 227.55)" filter="url(#b1)"/>
<ellipse cx="234.69" cy="227.55" rx="4.13" ry="1.78" fill="#49b24e" opacity="0.95" transform="rotate(-30 234.69 227.55)" filter="url(#b1)"/>
<ellipse cx="234.69" cy="227.55" rx="2.06" ry="0.92" fill="#a8d04c" opacity="0.8" transform="rotate(-30 234.69 227.55)" filter="url(#b1)"/>
</g>
<line x1="241.50" y1="197.60" x2="241.50" y2="236.00" stroke="#6c6c7a" stroke-width="1.0" />
<line x1="222.00" y1="220.50" x2="261.30" y2="220.50" stroke="#767682" stroke-width="1.0" />
<path d="M223.00,235.70H231.00" stroke="#111" stroke-width="0.9" stroke-dasharray="0.9 0.5"/>
<path d="M222.20,230.20V231.80" stroke="#111" stroke-width="1.1"/>
<text x="223.30" y="201.50" font-size="2.5" fill="#5a5a5a" >Q1</text>
<text x="223.30" y="203.90" font-size="2.5" fill="#5a5a5a" textLength="5.00" lengthAdjust="spacingAndGlyphs" >0.000</text>
<text x="260.00" y="201.50" font-size="2.5" fill="#5a5a5a" text-anchor="end" >Q2</text>
<text x="260.00" y="203.90" font-size="2.5" fill="#5a5a5a" text-anchor="end" >1.0</text>
<text x="223.30" y="231.80" font-size="2.5" fill="#5a5a5a" >Q4</text>
<text x="223.30" y="234.20" font-size="2.5" fill="#5a5a5a" >90.0</text>
<text x="260.00" y="231.80" font-size="2.5" fill="#5a5a5a" text-anchor="end" >Q3</text>
<text x="260.00" y="234.20" font-size="2.5" fill="#5a5a5a" text-anchor="end" >5.0</text>
<line x1="221.00" y1="201.00" x2="222.70" y2="201.00" stroke="#444" stroke-width="0.7" />
<text x="220.10" y="202.40" font-size="3.9" fill="#555" text-anchor="end" >10<tspan dy='-1.3' font-size='2.6'>5</tspan></text>
<line x1="221.00" y1="209.60" x2="222.70" y2="209.60" stroke="#444" stroke-width="0.7" />
<text x="220.10" y="211.00" font-size="3.9" fill="#555" text-anchor="end" >10<tspan dy='-1.3' font-size='2.6'>4</tspan></text>
<line x1="221.00" y1="218.10" x2="222.70" y2="218.10" stroke="#444" stroke-width="0.7" />
<text x="220.10" y="219.50" font-size="3.9" fill="#555" text-anchor="end" >10<tspan dy='-1.3' font-size='2.6'>3</tspan></text>
<line x1="221.00" y1="226.80" x2="222.70" y2="226.80" stroke="#444" stroke-width="0.7" />
<text x="220.10" y="228.20" font-size="3.9" fill="#555" text-anchor="end" >10<tspan dy='-1.3' font-size='2.6'>2</tspan></text>
<line x1="221.00" y1="231.80" x2="222.70" y2="231.80" stroke="#444" stroke-width="0.7" />
<text x="220.10" y="233.20" font-size="3.9" fill="#555" text-anchor="end" >0</text>
<line x1="230.70" y1="235.40" x2="230.70" y2="237.00" stroke="#444" stroke-width="0.7" />
<text x="231.30" y="241.90" font-size="3.9" fill="#555" text-anchor="middle" >0</text>
<line x1="239.30" y1="235.40" x2="239.30" y2="237.00" stroke="#444" stroke-width="0.7" />
<text x="239.90" y="241.90" font-size="3.9" fill="#555" text-anchor="middle" >10<tspan dy='-1.3' font-size='2.6'>3</tspan></text>
<line x1="248.00" y1="235.40" x2="248.00" y2="237.00" stroke="#444" stroke-width="0.7" />
<text x="248.60" y="241.90" font-size="3.9" fill="#555" text-anchor="middle" >10<tspan dy='-1.3' font-size='2.6'>4</tspan></text>
<line x1="257.20" y1="235.40" x2="257.20" y2="237.00" stroke="#444" stroke-width="0.7" />
<text x="257.80" y="241.90" font-size="3.9" fill="#555" text-anchor="middle" >10<tspan dy='-1.3' font-size='2.6'>5</tspan></text>
<text x="241.00" y="247.60" font-size="4.8" fill="#3a3a3a" text-anchor="middle" font-weight="bold" textLength="20.50" lengthAdjust="spacingAndGlyphs" >Comp-APC-A</text>
<text x="211.70" y="216.80" font-size="4.8" fill="#3a3a3a" text-anchor="middle" font-weight="bold" textLength="19.50" lengthAdjust="spacingAndGlyphs" transform="rotate(-90 211.70 216.80)" >Comp-PE-A</text>
<rect x="53.20" y="252.60" width="39.3" height="38.4" fill="#fff" stroke="#cfcfcf" stroke-width="0.6"/>
<g filter="url(#grain)">
<ellipse cx="79.41" cy="267.96" rx="6.13" ry="3.00" fill="#e6e9f4" opacity="0.9" transform="rotate(-30 79.41 267.96)" filter="url(#b2)"/>
<ellipse cx="79.41" cy="267.96" rx="3.58" ry="1.61" fill="#d2d8ec" opacity="0.7" transform="rotate(-30 79.41 267.96)" filter="url(#b1)"/>
<ellipse cx="80.32" cy="281.78" rx="4.72" ry="4.99" fill="#e6e9f4" opacity="0.9" transform="rotate(-40 80.32 281.78)" filter="url(#b2)"/>
<ellipse cx="80.32" cy="281.78" rx="2.75" ry="2.69" fill="#d2d8ec" opacity="0.7" transform="rotate(-40 80.32 281.78)" filter="url(#b1)"/>
<ellipse cx="64.99" cy="284.09" rx="7.66" ry="5.38" fill="#c3cfec" opacity="0.65" transform="rotate(-20 64.99 284.09)" filter="url(#b2)"/>
<ellipse cx="64.99" cy="284.09" rx="6.13" ry="4.03" fill="#4f78b8" opacity="0.9" transform="rotate(-20 64.99 284.09)" filter="url(#b1)"/>
<ellipse cx="64.99" cy="284.09" rx="5.03" ry="3.15" fill="#2f8c93" opacity="0.95" transform="rotate(-20 64.99 284.09)" filter="url(#b1)"/>
<ellipse cx="64.99" cy="284.09" rx="3.68" ry="2.23" fill="#49b24e" opacity="0.95" transform="rotate(-20 64.99 284.09)" filter="url(#b1)"/>
<ellipse cx="64.99" cy="284.09" rx="1.84" ry="1.15" fill="#a8d04c" opacity="0.8" transform="rotate(-20 64.99 284.09)" filter="url(#b1)"/>
</g>
<line x1="71.50" y1="252.60" x2="71.50" y2="291.00" stroke="#6c6c7a" stroke-width="1.0" />
<line x1="53.20" y1="275.50" x2="92.50" y2="275.50" stroke="#767682" stroke-width="1.0" />
<path d="M54.20,290.70H62.20" stroke="#111" stroke-width="0.9" stroke-dasharray="0.9 0.5"/>
<path d="M53.40,285.20V286.80" stroke="#111" stroke-width="1.1"/>
<text x="54.50" y="256.50" font-size="2.5" fill="#5a5a5a" >Q1</text>
<text x="54.50" y="258.90" font-size="2.5" fill="#5a5a5a" textLength="5.00" lengthAdjust="spacingAndGlyphs" >0.000</text>
<text x="91.20" y="256.50" font-size="2.5" fill="#5a5a5a" text-anchor="end" >Q2</text>
<text x="91.20" y="258.90" font-size="2.5" fill="#5a5a5a" text-anchor="end" >1.0</text>
<text x="54.50" y="286.80" font-size="2.5" fill="#5a5a5a" >Q4</text>
<text x="54.50" y="289.20" font-size="2.5" fill="#5a5a5a" >90.0</text>
<text x="91.20" y="286.80" font-size="2.5" fill="#5a5a5a" text-anchor="end" >Q3</text>
<text x="91.20" y="289.20" font-size="2.5" fill="#5a5a5a" text-anchor="end" >5.0</text>
<line x1="52.20" y1="256.00" x2="53.90" y2="256.00" stroke="#444" stroke-width="0.7" />
<text x="51.30" y="257.40" font-size="3.9" fill="#555" text-anchor="end" >10<tspan dy='-1.3' font-size='2.6'>5</tspan></text>
<line x1="52.20" y1="264.60" x2="53.90" y2="264.60" stroke="#444" stroke-width="0.7" />
<text x="51.30" y="266.00" font-size="3.9" fill="#555" text-anchor="end" >10<tspan dy='-1.3' font-size='2.6'>4</tspan></text>
<line x1="52.20" y1="273.10" x2="53.90" y2="273.10" stroke="#444" stroke-width="0.7" />
<text x="51.30" y="274.50" font-size="3.9" fill="#555" text-anchor="end" >10<tspan dy='-1.3' font-size='2.6'>3</tspan></text>
<line x1="52.20" y1="281.80" x2="53.90" y2="281.80" stroke="#444" stroke-width="0.7" />
<text x="51.30" y="283.20" font-size="3.9" fill="#555" text-anchor="end" >10<tspan dy='-1.3' font-size='2.6'>2</tspan></text>
<line x1="52.20" y1="286.80" x2="53.90" y2="286.80" stroke="#444" stroke-width="0.7" />
<text x="51.30" y="288.20" font-size="3.9" fill="#555" text-anchor="end" >0</text>
<line x1="61.90" y1="290.40" x2="61.90" y2="292.00" stroke="#444" stroke-width="0.7" />
<text x="62.50" y="296.90" font-size="3.9" fill="#555" text-anchor="middle" >0</text>
<line x1="70.50" y1="290.40" x2="70.50" y2="292.00" stroke="#444" stroke-width="0.7" />
<text x="71.10" y="296.90" font-size="3.9" fill="#555" text-anchor="middle" >10<tspan dy='-1.3' font-size='2.6'>3</tspan></text>
<line x1="79.20" y1="290.40" x2="79.20" y2="292.00" stroke="#444" stroke-width="0.7" />
<text x="79.80" y="296.90" font-size="3.9" fill="#555" text-anchor="middle" >10<tspan dy='-1.3' font-size='2.6'>4</tspan></text>
<line x1="88.40" y1="290.40" x2="88.40" y2="292.00" stroke="#444" stroke-width="0.7" />
<text x="89.00" y="296.90" font-size="3.9" fill="#555" text-anchor="middle" >10<tspan dy='-1.3' font-size='2.6'>5</tspan></text>
<text x="72.20" y="302.60" font-size="4.8" fill="#3a3a3a" text-anchor="middle" font-weight="bold" textLength="20.50" lengthAdjust="spacingAndGlyphs" >Comp-APC-A</text>
<text x="42.90" y="271.80" font-size="4.8" fill="#3a3a3a" text-anchor="middle" font-weight="bold" textLength="19.50" lengthAdjust="spacingAndGlyphs" transform="rotate(-90 42.90 271.80)" >Comp-PE-A</text>
<rect x="109.40" y="252.60" width="39.3" height="38.4" fill="#fff" stroke="#cfcfcf" stroke-width="0.6"/>
<g filter="url(#grain)">
<ellipse cx="134.16" cy="283.32" rx="3.93" ry="4.49" fill="#dfe4f4" opacity="0.8" transform="rotate(0 134.16 283.32)" filter="url(#b2)"/>
<ellipse cx="134.16" cy="283.32" rx="2.67" ry="2.94" fill="#b4c0e4" opacity="0.6" transform="rotate(0 134.16 283.32)" filter="url(#b1)"/>
<ellipse cx="139.66" cy="278.33" rx="2.65" ry="6.68" fill="#c8d2ee" opacity="0.7" transform="rotate(-10 139.66 278.33)" filter="url(#b2)"/>
<ellipse cx="139.66" cy="278.33" rx="2.06" ry="4.98" fill="#6688c0" opacity="0.85" transform="rotate(-10 139.66 278.33)" filter="url(#b1)"/>
<ellipse cx="139.66" cy="278.33" rx="1.53" ry="3.46" fill="#4a8aa2" opacity="0.85" transform="rotate(-10 139.66 278.33)" filter="url(#b1)"/>
<ellipse cx="139.66" cy="278.33" rx="0.88" ry="1.84" fill="#3d8a94" opacity="0.6" transform="rotate(-10 139.66 278.33)" filter="url(#b1)"/>
<ellipse cx="137.54" cy="268.92" rx="5.84" ry="5.01" fill="#c8d2ee" opacity="0.7" transform="rotate(-20 137.54 268.92)" filter="url(#b2)"/>
<ellipse cx="137.54" cy="268.92" rx="4.54" ry="3.73" fill="#6688c0" opacity="0.85" transform="rotate(-20 137.54 268.92)" filter="url(#b1)"/>
<ellipse cx="137.54" cy="268.92" rx="3.37" ry="2.59" fill="#4a8aa2" opacity="0.85" transform="rotate(-20 137.54 268.92)" filter="url(#b1)"/>
<ellipse cx="137.54" cy="268.92" rx="1.95" ry="1.38" fill="#3d8a94" opacity="0.6" transform="rotate(-20 137.54 268.92)" filter="url(#b1)"/>
<ellipse cx="120.99" cy="283.32" rx="8.11" ry="4.84" fill="#c3cfec" opacity="0.65" transform="rotate(-30 120.99 283.32)" filter="url(#b2)"/>
<ellipse cx="120.99" cy="283.32" rx="6.48" ry="3.63" fill="#4f78b8" opacity="0.9" transform="rotate(-30 120.99 283.32)" filter="url(#b1)"/>
<ellipse cx="120.99" cy="283.32" rx="5.32" ry="2.83" fill="#2f8c93" opacity="0.95" transform="rotate(-30 120.99 283.32)" filter="url(#b1)"/>
<ellipse cx="120.99" cy="283.32" rx="3.89" ry="2.00" fill="#49b24e" opacity="0.95" transform="rotate(-30 120.99 283.32)" filter="url(#b1)"/>
<ellipse cx="120.99" cy="283.32" rx="1.95" ry="1.04" fill="#a8d04c" opacity="0.8" transform="rotate(-30 120.99 283.32)" filter="url(#b1)"/>
</g>
<line x1="128.50" y1="252.60" x2="128.50" y2="291.00" stroke="#6c6c7a" stroke-width="1.0" />
<line x1="109.40" y1="275.50" x2="148.70" y2="275.50" stroke="#767682" stroke-width="1.0" />
<path d="M110.40,290.70H118.40" stroke="#111" stroke-width="0.9" stroke-dasharray="0.9 0.5"/>
<path d="M109.60,285.20V286.80" stroke="#111" stroke-width="1.1"/>
<text x="110.70" y="256.50" font-size="2.5" fill="#5a5a5a" >Q1</text>
<text x="110.70" y="258.90" font-size="2.5" fill="#5a5a5a" textLength="5.00" lengthAdjust="spacingAndGlyphs" >0.000</text>
<text x="147.40" y="256.50" font-size="2.5" fill="#5a5a5a" text-anchor="end" >Q2</text>
<text x="147.40" y="258.90" font-size="2.5" fill="#5a5a5a" text-anchor="end" >1.0</text>
<text x="110.70" y="286.80" font-size="2.5" fill="#5a5a5a" >Q4</text>
<text x="110.70" y="289.20" font-size="2.5" fill="#5a5a5a" >90.0</text>
<text x="147.40" y="286.80" font-size="2.5" fill="#5a5a5a" text-anchor="end" >Q3</text>
<text x="147.40" y="289.20" font-size="2.5" fill="#5a5a5a" text-anchor="end" >5.0</text>
<line x1="108.40" y1="256.00" x2="110.10" y2="256.00" stroke="#444" stroke-width="0.7" />
<text x="107.50" y="257.40" font-size="3.9" fill="#555" text-anchor="end" >10<tspan dy='-1.3' font-size='2.6'>5</tspan></text>
<line x1="108.40" y1="264.60" x2="110.10" y2="264.60" stroke="#444" stroke-width="0.7" />
<text x="107.50" y="266.00" font-size="3.9" fill="#555" text-anchor="end" >10<tspan dy='-1.3' font-size='2.6'>4</tspan></text>
<line x1="108.40" y1="273.10" x2="110.10" y2="273.10" stroke="#444" stroke-width="0.7" />
<text x="107.50" y="274.50" font-size="3.9" fill="#555" text-anchor="end" >10<tspan dy='-1.3' font-size='2.6'>3</tspan></text>
<line x1="108.40" y1="281.80" x2="110.10" y2="281.80" stroke="#444" stroke-width="0.7" />
<text x="107.50" y="283.20" font-size="3.9" fill="#555" text-anchor="end" >10<tspan dy='-1.3' font-size='2.6'>2</tspan></text>
<line x1="108.40" y1="286.80" x2="110.10" y2="286.80" stroke="#444" stroke-width="0.7" />
<text x="107.50" y="288.20" font-size="3.9" fill="#555" text-anchor="end" >0</text>
<line x1="118.10" y1="290.40" x2="118.10" y2="292.00" stroke="#444" stroke-width="0.7" />
<text x="118.70" y="296.90" font-size="3.9" fill="#555" text-anchor="middle" >0</text>
<line x1="126.70" y1="290.40" x2="126.70" y2="292.00" stroke="#444" stroke-width="0.7" />
<text x="127.30" y="296.90" font-size="3.9" fill="#555" text-anchor="middle" >10<tspan dy='-1.3' font-size='2.6'>3</tspan></text>
<line x1="135.40" y1="290.40" x2="135.40" y2="292.00" stroke="#444" stroke-width="0.7" />
<text x="136.00" y="296.90" font-size="3.9" fill="#555" text-anchor="middle" >10<tspan dy='-1.3' font-size='2.6'>4</tspan></text>
<line x1="144.60" y1="290.40" x2="144.60" y2="292.00" stroke="#444" stroke-width="0.7" />
<text x="145.20" y="296.90" font-size="3.9" fill="#555" text-anchor="middle" >10<tspan dy='-1.3' font-size='2.6'>5</tspan></text>
<text x="128.40" y="302.60" font-size="4.8" fill="#3a3a3a" text-anchor="middle" font-weight="bold" textLength="20.50" lengthAdjust="spacingAndGlyphs" >Comp-APC-A</text>
<text x="99.10" y="271.80" font-size="4.8" fill="#3a3a3a" text-anchor="middle" font-weight="bold" textLength="19.50" lengthAdjust="spacingAndGlyphs" transform="rotate(-90 99.10 271.80)" >Comp-PE-A</text>
<rect x="165.60" y="252.60" width="39.3" height="38.4" fill="#fff" stroke="#cfcfcf" stroke-width="0.6"/>
<g filter="url(#grain)">
<ellipse cx="193.74" cy="274.10" rx="3.93" ry="12.48" fill="#dfe4f4" opacity="0.8" transform="rotate(-10 193.74 274.10)" filter="url(#b2)"/>
<ellipse cx="193.74" cy="274.10" rx="2.67" ry="8.16" fill="#b4c0e4" opacity="0.6" transform="rotate(-10 193.74 274.10)" filter="url(#b1)"/>
<ellipse cx="178.02" cy="283.32" rx="7.86" ry="4.84" fill="#c3cfec" opacity="0.65" transform="rotate(-25 178.02 283.32)" filter="url(#b2)"/>
<ellipse cx="178.02" cy="283.32" rx="6.29" ry="3.63" fill="#4f78b8" opacity="0.9" transform="rotate(-25 178.02 283.32)" filter="url(#b1)"/>
<ellipse cx="178.02" cy="283.32" rx="5.16" ry="2.83" fill="#2f8c93" opacity="0.95" transform="rotate(-25 178.02 283.32)" filter="url(#b1)"/>
<ellipse cx="178.02" cy="283.32" rx="3.77" ry="2.00" fill="#49b24e" opacity="0.95" transform="rotate(-25 178.02 283.32)" filter="url(#b1)"/>
<ellipse cx="178.02" cy="283.32" rx="1.89" ry="1.04" fill="#a8d04c" opacity="0.8" transform="rotate(-25 178.02 283.32)" filter="url(#b1)"/>
</g>
<line x1="184.50" y1="252.60" x2="184.50" y2="291.00" stroke="#6c6c7a" stroke-width="1.0" />
<line x1="165.60" y1="275.50" x2="204.90" y2="275.50" stroke="#767682" stroke-width="1.0" />
<path d="M166.60,290.70H174.60" stroke="#111" stroke-width="0.9" stroke-dasharray="0.9 0.5"/>
<path d="M165.80,285.20V286.80" stroke="#111" stroke-width="1.1"/>
<text x="166.90" y="256.50" font-size="2.5" fill="#5a5a5a" >Q1</text>
<text x="166.90" y="258.90" font-size="2.5" fill="#5a5a5a" textLength="5.00" lengthAdjust="spacingAndGlyphs" >0.000</text>
<text x="203.60" y="256.50" font-size="2.5" fill="#5a5a5a" text-anchor="end" >Q2</text>
<text x="203.60" y="258.90" font-size="2.5" fill="#5a5a5a" text-anchor="end" >1.0</text>
<text x="166.90" y="286.80" font-size="2.5" fill="#5a5a5a" >Q4</text>
<text x="166.90" y="289.20" font-size="2.5" fill="#5a5a5a" >90.0</text>
<text x="203.60" y="286.80" font-size="2.5" fill="#5a5a5a" text-anchor="end" >Q3</text>
<text x="203.60" y="289.20" font-size="2.5" fill="#5a5a5a" text-anchor="end" >5.0</text>
<line x1="164.60" y1="256.00" x2="166.30" y2="256.00" stroke="#444" stroke-width="0.7" />
<text x="163.70" y="257.40" font-size="3.9" fill="#555" text-anchor="end" >10<tspan dy='-1.3' font-size='2.6'>5</tspan></text>
<line x1="164.60" y1="264.60" x2="166.30" y2="264.60" stroke="#444" stroke-width="0.7" />
<text x="163.70" y="266.00" font-size="3.9" fill="#555" text-anchor="end" >10<tspan dy='-1.3' font-size='2.6'>4</tspan></text>
<line x1="164.60" y1="273.10" x2="166.30" y2="273.10" stroke="#444" stroke-width="0.7" />
<text x="163.70" y="274.50" font-size="3.9" fill="#555" text-anchor="end" >10<tspan dy='-1.3' font-size='2.6'>3</tspan></text>
<line x1="164.60" y1="281.80" x2="166.30" y2="281.80" stroke="#444" stroke-width="0.7" />
<text x="163.70" y="283.20" font-size="3.9" fill="#555" text-anchor="end" >10<tspan dy='-1.3' font-size='2.6'>2</tspan></text>
<line x1="164.60" y1="286.80" x2="166.30" y2="286.80" stroke="#444" stroke-width="0.7" />
<text x="163.70" y="288.20" font-size="3.9" fill="#555" text-anchor="end" >0</text>
<line x1="174.30" y1="290.40" x2="174.30" y2="292.00" stroke="#444" stroke-width="0.7" />
<text x="174.90" y="296.90" font-size="3.9" fill="#555" text-anchor="middle" >0</text>
<line x1="182.90" y1="290.40" x2="182.90" y2="292.00" stroke="#444" stroke-width="0.7" />
<text x="183.50" y="296.90" font-size="3.9" fill="#555" text-anchor="middle" >10<tspan dy='-1.3' font-size='2.6'>3</tspan></text>
<line x1="191.60" y1="290.40" x2="191.60" y2="292.00" stroke="#444" stroke-width="0.7" />
<text x="192.20" y="296.90" font-size="3.9" fill="#555" text-anchor="middle" >10<tspan dy='-1.3' font-size='2.6'>4</tspan></text>
<line x1="200.80" y1="290.40" x2="200.80" y2="292.00" stroke="#444" stroke-width="0.7" />
<text x="201.40" y="296.90" font-size="3.9" fill="#555" text-anchor="middle" >10<tspan dy='-1.3' font-size='2.6'>5</tspan></text>
<text x="184.60" y="302.60" font-size="4.8" fill="#3a3a3a" text-anchor="middle" font-weight="bold" textLength="20.50" lengthAdjust="spacingAndGlyphs" >Comp-APC-A</text>
<text x="155.30" y="271.80" font-size="4.8" fill="#3a3a3a" text-anchor="middle" font-weight="bold" textLength="19.50" lengthAdjust="spacingAndGlyphs" transform="rotate(-90 155.30 271.80)" >Comp-PE-A</text>
<rect x="222.00" y="252.60" width="39.3" height="38.4" fill="#fff" stroke="#cfcfcf" stroke-width="0.6"/>
<g filter="url(#grain)">
<ellipse cx="245.58" cy="281.40" rx="3.44" ry="4.99" fill="#dfe4f4" opacity="0.8" transform="rotate(0 245.58 281.40)" filter="url(#b2)"/>
<ellipse cx="245.58" cy="281.40" rx="2.34" ry="3.26" fill="#b4c0e4" opacity="0.6" transform="rotate(0 245.58 281.40)" filter="url(#b1)"/>
<ellipse cx="249.90" cy="279.36" rx="4.77" ry="7.24" fill="#c8d2ee" opacity="0.7" transform="rotate(-15 249.90 279.36)" filter="url(#b2)"/>
<ellipse cx="249.90" cy="279.36" rx="3.71" ry="5.39" fill="#6688c0" opacity="0.85" transform="rotate(-15 249.90 279.36)" filter="url(#b1)"/>
<ellipse cx="249.90" cy="279.36" rx="2.76" ry="3.74" fill="#4a8aa2" opacity="0.85" transform="rotate(-15 249.90 279.36)" filter="url(#b1)"/>
<ellipse cx="249.90" cy="279.36" rx="1.59" ry="2.00" fill="#3d8a94" opacity="0.6" transform="rotate(-15 249.90 279.36)" filter="url(#b1)"/>
<ellipse cx="251.16" cy="269.69" rx="4.77" ry="6.68" fill="#c8d2ee" opacity="0.7" transform="rotate(-10 251.16 269.69)" filter="url(#b2)"/>
<ellipse cx="251.16" cy="269.69" rx="3.71" ry="4.98" fill="#6688c0" opacity="0.85" transform="rotate(-10 251.16 269.69)" filter="url(#b1)"/>
<ellipse cx="251.16" cy="269.69" rx="2.76" ry="3.46" fill="#4a8aa2" opacity="0.85" transform="rotate(-10 251.16 269.69)" filter="url(#b1)"/>
<ellipse cx="251.16" cy="269.69" rx="1.59" ry="1.84" fill="#3d8a94" opacity="0.6" transform="rotate(-10 251.16 269.69)" filter="url(#b1)"/>
<ellipse cx="234.26" cy="283.32" rx="7.86" ry="4.57" fill="#c3cfec" opacity="0.65" transform="rotate(-28 234.26 283.32)" filter="url(#b2)"/>
<ellipse cx="234.26" cy="283.32" rx="6.29" ry="3.43" fill="#4f78b8" opacity="0.9" transform="rotate(-28 234.26 283.32)" filter="url(#b1)"/>
<ellipse cx="234.26" cy="283.32" rx="5.16" ry="2.68" fill="#2f8c93" opacity="0.95" transform="rotate(-28 234.26 283.32)" filter="url(#b1)"/>
<ellipse cx="234.26" cy="283.32" rx="3.77" ry="1.89" fill="#49b24e" opacity="0.95" transform="rotate(-28 234.26 283.32)" filter="url(#b1)"/>
<ellipse cx="234.26" cy="283.32" rx="1.89" ry="0.98" fill="#a8d04c" opacity="0.8" transform="rotate(-28 234.26 283.32)" filter="url(#b1)"/>
</g>
<line x1="241.50" y1="252.60" x2="241.50" y2="291.00" stroke="#6c6c7a" stroke-width="1.0" />
<line x1="222.00" y1="275.50" x2="261.30" y2="275.50" stroke="#767682" stroke-width="1.0" />
<path d="M223.00,290.70H231.00" stroke="#111" stroke-width="0.9" stroke-dasharray="0.9 0.5"/>
<path d="M222.20,285.20V286.80" stroke="#111" stroke-width="1.1"/>
<text x="223.30" y="256.50" font-size="2.5" fill="#5a5a5a" >Q1</text>
<text x="223.30" y="258.90" font-size="2.5" fill="#5a5a5a" textLength="5.00" lengthAdjust="spacingAndGlyphs" >0.000</text>
<text x="260.00" y="256.50" font-size="2.5" fill="#5a5a5a" text-anchor="end" >Q2</text>
<text x="260.00" y="258.90" font-size="2.5" fill="#5a5a5a" text-anchor="end" >1.0</text>
<text x="223.30" y="286.80" font-size="2.5" fill="#5a5a5a" >Q4</text>
<text x="223.30" y="289.20" font-size="2.5" fill="#5a5a5a" >90.0</text>
<text x="260.00" y="286.80" font-size="2.5" fill="#5a5a5a" text-anchor="end" >Q3</text>
<text x="260.00" y="289.20" font-size="2.5" fill="#5a5a5a" text-anchor="end" >5.0</text>
<line x1="221.00" y1="256.00" x2="222.70" y2="256.00" stroke="#444" stroke-width="0.7" />
<text x="220.10" y="257.40" font-size="3.9" fill="#555" text-anchor="end" >10<tspan dy='-1.3' font-size='2.6'>5</tspan></text>
<line x1="221.00" y1="264.60" x2="222.70" y2="264.60" stroke="#444" stroke-width="0.7" />
<text x="220.10" y="266.00" font-size="3.9" fill="#555" text-anchor="end" >10<tspan dy='-1.3' font-size='2.6'>4</tspan></text>
<line x1="221.00" y1="273.10" x2="222.70" y2="273.10" stroke="#444" stroke-width="0.7" />
<text x="220.10" y="274.50" font-size="3.9" fill="#555" text-anchor="end" >10<tspan dy='-1.3' font-size='2.6'>3</tspan></text>
<line x1="221.00" y1="281.80" x2="222.70" y2="281.80" stroke="#444" stroke-width="0.7" />
<text x="220.10" y="283.20" font-size="3.9" fill="#555" text-anchor="end" >10<tspan dy='-1.3' font-size='2.6'>2</tspan></text>
<line x1="221.00" y1="286.80" x2="222.70" y2="286.80" stroke="#444" stroke-width="0.7" />
<text x="220.10" y="288.20" font-size="3.9" fill="#555" text-anchor="end" >0</text>
<line x1="230.70" y1="290.40" x2="230.70" y2="292.00" stroke="#444" stroke-width="0.7" />
<text x="231.30" y="296.90" font-size="3.9" fill="#555" text-anchor="middle" >0</text>
<line x1="239.30" y1="290.40" x2="239.30" y2="292.00" stroke="#444" stroke-width="0.7" />
<text x="239.90" y="296.90" font-size="3.9" fill="#555" text-anchor="middle" >10<tspan dy='-1.3' font-size='2.6'>3</tspan></text>
<line x1="248.00" y1="290.40" x2="248.00" y2="292.00" stroke="#444" stroke-width="0.7" />
<text x="248.60" y="296.90" font-size="3.9" fill="#555" text-anchor="middle" >10<tspan dy='-1.3' font-size='2.6'>4</tspan></text>
<line x1="257.20" y1="290.40" x2="257.20" y2="292.00" stroke="#444" stroke-width="0.7" />
<text x="257.80" y="296.90" font-size="3.9" fill="#555" text-anchor="middle" >10<tspan dy='-1.3' font-size='2.6'>5</tspan></text>
<text x="241.00" y="302.60" font-size="4.8" fill="#3a3a3a" text-anchor="middle" font-weight="bold" textLength="20.50" lengthAdjust="spacingAndGlyphs" >Comp-APC-A</text>
<text x="211.70" y="271.80" font-size="4.8" fill="#3a3a3a" text-anchor="middle" font-weight="bold" textLength="19.50" lengthAdjust="spacingAndGlyphs" transform="rotate(-90 211.70 271.80)" >Comp-PE-A</text>
<text x="287.50" y="176.20" font-size="8.5" fill="#2d3550" textLength="22.00" lengthAdjust="spacingAndGlyphs" stroke="#2d3550" stroke-width="0.15">ARP-1</text>
<text x="353.90" y="184.60" font-size="6" fill="#222" text-anchor="middle" textLength="15.10" lengthAdjust="spacingAndGlyphs" stroke="#222" stroke-width="0.1">shNC</text>
<text x="467.10" y="184.70" font-size="6" fill="#222" text-anchor="middle" textLength="18.60" lengthAdjust="spacingAndGlyphs" stroke="#222" stroke-width="0.1">shATG5</text>
<line x1="307.20" y1="188.20" x2="400.50" y2="188.20" stroke="#333" stroke-width="1.1" />
<line x1="417.20" y1="188.20" x2="512.80" y2="188.20" stroke="#333" stroke-width="1.1" />
<text x="324.65" y="195.30" font-size="6" fill="#222" text-anchor="middle" textLength="23.40" lengthAdjust="spacingAndGlyphs" >Bort0nM</text>
<text x="380.85" y="195.30" font-size="6" fill="#222" text-anchor="middle" textLength="23.40" lengthAdjust="spacingAndGlyphs" >Bort5nM</text>
<text x="437.05" y="195.30" font-size="6" fill="#222" text-anchor="middle" textLength="23.40" lengthAdjust="spacingAndGlyphs" >Bort0nM</text>
<text x="493.45" y="195.30" font-size="6" fill="#222" text-anchor="middle" textLength="23.40" lengthAdjust="spacingAndGlyphs" >Bort5nM</text>
<text x="270.90" y="194.60" font-size="8.4" fill="#1a1a1a" font-weight="bold" textLength="14.00" lengthAdjust="spacingAndGlyphs" >PI-PE</text>
<path d="M288.20,189.70V307.80" fill="none" stroke="#444444" stroke-width="1.3"/>
<path d="M287.55,307.90H513.10" fill="none" stroke="#3a3a3a" stroke-width="1.25"/>
<text x="284.20" y="217.00" font-size="6" fill="#333" text-anchor="middle" textLength="37.00" lengthAdjust="spacingAndGlyphs" transform="rotate(-90 284.20 217.00)" stroke="#333" stroke-width="0.12">shTRIM21NC</text>
<text x="284.20" y="273.70" font-size="6" fill="#333" text-anchor="middle" textLength="27.30" lengthAdjust="spacingAndGlyphs" transform="rotate(-90 284.20 273.70)" stroke="#333" stroke-width="0.12">shTRIM21</text>
<text x="476.20" y="318.70" font-size="7.3" fill="#1a1a1a" font-weight="bold" textLength="37.20" lengthAdjust="spacingAndGlyphs" >Annexin V-APC</text>
<rect x="305.00" y="197.70" width="39.3" height="38.4" fill="#fff" stroke="#cfcfcf" stroke-width="0.6"/>
<g filter="url(#grain)">
<ellipse cx="330.55" cy="228.42" rx="6.39" ry="4.99" fill="#dfe4f4" opacity="0.8" transform="rotate(0 330.55 228.42)" filter="url(#b2)"/>
<ellipse cx="330.55" cy="228.42" rx="4.34" ry="3.26" fill="#b4c0e4" opacity="0.6" transform="rotate(0 330.55 228.42)" filter="url(#b1)"/>
<ellipse cx="332.12" cy="212.68" rx="6.13" ry="3.76" fill="#d2daf0" opacity="0.7" transform="rotate(-25 332.12 212.68)" filter="url(#b2)"/>
<ellipse cx="332.12" cy="212.68" rx="4.72" ry="2.69" fill="#7d97cc" opacity="0.7" transform="rotate(-25 332.12 212.68)" filter="url(#b1)"/>
<ellipse cx="332.12" cy="212.68" rx="2.83" ry="1.61" fill="#5d7fbd" opacity="0.6" transform="rotate(-25 332.12 212.68)" filter="url(#b1)"/>
<ellipse cx="315.61" cy="230.46" rx="8.35" ry="4.30" fill="#c3cfec" opacity="0.65" transform="rotate(-8 315.61 230.46)" filter="url(#b2)"/>
<ellipse cx="315.61" cy="230.46" rx="6.68" ry="3.23" fill="#4f78b8" opacity="0.9" transform="rotate(-8 315.61 230.46)" filter="url(#b1)"/>
<ellipse cx="315.61" cy="230.46" rx="5.48" ry="2.52" fill="#2f8c93" opacity="0.95" transform="rotate(-8 315.61 230.46)" filter="url(#b1)"/>
<ellipse cx="315.61" cy="230.46" rx="4.01" ry="1.78" fill="#49b24e" opacity="0.95" transform="rotate(-8 315.61 230.46)" filter="url(#b1)"/>
<ellipse cx="315.61" cy="230.46" rx="2.00" ry="0.92" fill="#a8d04c" opacity="0.8" transform="rotate(-8 315.61 230.46)" filter="url(#b1)"/>
</g>
<line x1="322.50" y1="197.70" x2="322.50" y2="236.10" stroke="#6c6c7a" stroke-width="1.0" />
<line x1="305.00" y1="221.50" x2="344.30" y2="221.50" stroke="#767682" stroke-width="1.0" />
<path d="M306.00,235.80H314.00" stroke="#111" stroke-width="0.9" stroke-dasharray="0.9 0.5"/>
<path d="M305.20,230.30V231.90" stroke="#111" stroke-width="1.1"/>
<text x="306.30" y="201.60" font-size="2.5" fill="#5a5a5a" >Q1</text>
<text x="306.30" y="204.00" font-size="2.5" fill="#5a5a5a" textLength="5.00" lengthAdjust="spacingAndGlyphs" >0.000</text>
<text x="343.00" y="201.60" font-size="2.5" fill="#5a5a5a" text-anchor="end" >Q2</text>
<text x="343.00" y="204.00" font-size="2.5" fill="#5a5a5a" text-anchor="end" >1.0</text>
<text x="306.30" y="231.90" font-size="2.5" fill="#5a5a5a" >Q4</text>
<text x="306.30" y="234.30" font-size="2.5" fill="#5a5a5a" >90.0</text>
<text x="343.00" y="231.90" font-size="2.5" fill="#5a5a5a" text-anchor="end" >Q3</text>
<text x="343.00" y="234.30" font-size="2.5" fill="#5a5a5a" text-anchor="end" >5.0</text>
<line x1="304.00" y1="201.10" x2="305.70" y2="201.10" stroke="#444" stroke-width="0.7" />
<text x="303.10" y="202.50" font-size="3.9" fill="#555" text-anchor="end" >10<tspan dy='-1.3' font-size='2.6'>5</tspan></text>
<line x1="304.00" y1="209.70" x2="305.70" y2="209.70" stroke="#444" stroke-width="0.7" />
<text x="303.10" y="211.10" font-size="3.9" fill="#555" text-anchor="end" >10<tspan dy='-1.3' font-size='2.6'>4</tspan></text>
<line x1="304.00" y1="218.20" x2="305.70" y2="218.20" stroke="#444" stroke-width="0.7" />
<text x="303.10" y="219.60" font-size="3.9" fill="#555" text-anchor="end" >10<tspan dy='-1.3' font-size='2.6'>3</tspan></text>
<line x1="304.00" y1="226.90" x2="305.70" y2="226.90" stroke="#444" stroke-width="0.7" />
<text x="303.10" y="228.30" font-size="3.9" fill="#555" text-anchor="end" >10<tspan dy='-1.3' font-size='2.6'>2</tspan></text>
<line x1="304.00" y1="231.90" x2="305.70" y2="231.90" stroke="#444" stroke-width="0.7" />
<text x="303.10" y="233.30" font-size="3.9" fill="#555" text-anchor="end" >0</text>
<line x1="313.70" y1="235.50" x2="313.70" y2="237.10" stroke="#444" stroke-width="0.7" />
<text x="314.30" y="242.00" font-size="3.9" fill="#555" text-anchor="middle" >0</text>
<line x1="322.30" y1="235.50" x2="322.30" y2="237.10" stroke="#444" stroke-width="0.7" />
<text x="322.90" y="242.00" font-size="3.9" fill="#555" text-anchor="middle" >10<tspan dy='-1.3' font-size='2.6'>3</tspan></text>
<line x1="331.00" y1="235.50" x2="331.00" y2="237.10" stroke="#444" stroke-width="0.7" />
<text x="331.60" y="242.00" font-size="3.9" fill="#555" text-anchor="middle" >10<tspan dy='-1.3' font-size='2.6'>4</tspan></text>
<line x1="340.20" y1="235.50" x2="340.20" y2="237.10" stroke="#444" stroke-width="0.7" />
<text x="340.80" y="242.00" font-size="3.9" fill="#555" text-anchor="middle" >10<tspan dy='-1.3' font-size='2.6'>5</tspan></text>
<text x="324.00" y="247.70" font-size="4.8" fill="#3a3a3a" text-anchor="middle" font-weight="bold" textLength="20.50" lengthAdjust="spacingAndGlyphs" >Comp-APC-A</text>
<text x="294.70" y="216.90" font-size="4.8" fill="#3a3a3a" text-anchor="middle" font-weight="bold" textLength="19.50" lengthAdjust="spacingAndGlyphs" transform="rotate(-90 294.70 216.90)" >Comp-PE-A</text>
<rect x="361.20" y="197.70" width="39.3" height="38.4" fill="#fff" stroke="#cfcfcf" stroke-width="0.6"/>
<g filter="url(#grain)">
<ellipse cx="384.78" cy="229.19" rx="7.66" ry="5.38" fill="#d2daf0" opacity="0.7" transform="rotate(-5 384.78 229.19)" filter="url(#b2)"/>
<ellipse cx="384.78" cy="229.19" rx="5.89" ry="3.84" fill="#7d97cc" opacity="0.7" transform="rotate(-5 384.78 229.19)" filter="url(#b1)"/>
<ellipse cx="384.78" cy="229.19" rx="3.54" ry="2.30" fill="#5d7fbd" opacity="0.6" transform="rotate(-5 384.78 229.19)" filter="url(#b1)"/>
<ellipse cx="388.71" cy="213.83" rx="7.96" ry="3.90" fill="#c8d2ee" opacity="0.7" transform="rotate(-25 388.71 213.83)" filter="url(#b2)"/>
<ellipse cx="388.71" cy="213.83" rx="6.19" ry="2.90" fill="#6688c0" opacity="0.85" transform="rotate(-25 388.71 213.83)" filter="url(#b1)"/>
<ellipse cx="388.71" cy="213.83" rx="4.60" ry="2.02" fill="#4a8aa2" opacity="0.85" transform="rotate(-25 388.71 213.83)" filter="url(#b1)"/>
<ellipse cx="388.71" cy="213.83" rx="2.65" ry="1.08" fill="#3d8a94" opacity="0.6" transform="rotate(-25 388.71 213.83)" filter="url(#b1)"/>
<ellipse cx="372.99" cy="229.57" rx="8.49" ry="5.76" fill="#c3cfec" opacity="0.7" transform="rotate(-15 372.99 229.57)" filter="url(#b2)"/>
<ellipse cx="372.99" cy="229.57" rx="6.60" ry="4.15" fill="#5f84bd" opacity="0.85" transform="rotate(-15 372.99 229.57)" filter="url(#b1)"/>
<ellipse cx="372.99" cy="229.57" rx="5.03" ry="2.92" fill="#41899e" opacity="0.9" transform="rotate(-15 372.99 229.57)" filter="url(#b1)"/>
<ellipse cx="372.99" cy="229.57" rx="3.02" ry="1.61" fill="#4fa66a" opacity="0.8" transform="rotate(-15 372.99 229.57)" filter="url(#b1)"/>
</g>
<line x1="379.50" y1="197.70" x2="379.50" y2="236.10" stroke="#6c6c7a" stroke-width="1.0" />
<line x1="361.20" y1="221.50" x2="400.50" y2="221.50" stroke="#767682" stroke-width="1.0" />
<path d="M362.20,235.80H370.20" stroke="#111" stroke-width="0.9" stroke-dasharray="0.9 0.5"/>
<path d="M361.40,230.30V231.90" stroke="#111" stroke-width="1.1"/>
<text x="362.50" y="201.60" font-size="2.5" fill="#5a5a5a" >Q1</text>
<text x="362.50" y="204.00" font-size="2.5" fill="#5a5a5a" textLength="5.00" lengthAdjust="spacingAndGlyphs" >0.000</text>
<text x="399.20" y="201.60" font-size="2.5" fill="#5a5a5a" text-anchor="end" >Q2</text>
<text x="399.20" y="204.00" font-size="2.5" fill="#5a5a5a" text-anchor="end" >1.0</text>
<text x="362.50" y="231.90" font-size="2.5" fill="#5a5a5a" >Q4</text>
<text x="362.50" y="234.30" font-size="2.5" fill="#5a5a5a" >90.0</text>
<text x="399.20" y="231.90" font-size="2.5" fill="#5a5a5a" text-anchor="end" >Q3</text>
<text x="399.20" y="234.30" font-size="2.5" fill="#5a5a5a" text-anchor="end" >5.0</text>
<line x1="360.20" y1="201.10" x2="361.90" y2="201.10" stroke="#444" stroke-width="0.7" />
<text x="359.30" y="202.50" font-size="3.9" fill="#555" text-anchor="end" >10<tspan dy='-1.3' font-size='2.6'>5</tspan></text>
<line x1="360.20" y1="209.70" x2="361.90" y2="209.70" stroke="#444" stroke-width="0.7" />
<text x="359.30" y="211.10" font-size="3.9" fill="#555" text-anchor="end" >10<tspan dy='-1.3' font-size='2.6'>4</tspan></text>
<line x1="360.20" y1="218.20" x2="361.90" y2="218.20" stroke="#444" stroke-width="0.7" />
<text x="359.30" y="219.60" font-size="3.9" fill="#555" text-anchor="end" >10<tspan dy='-1.3' font-size='2.6'>3</tspan></text>
<line x1="360.20" y1="226.90" x2="361.90" y2="226.90" stroke="#444" stroke-width="0.7" />
<text x="359.30" y="228.30" font-size="3.9" fill="#555" text-anchor="end" >10<tspan dy='-1.3' font-size='2.6'>2</tspan></text>
<line x1="360.20" y1="231.90" x2="361.90" y2="231.90" stroke="#444" stroke-width="0.7" />
<text x="359.30" y="233.30" font-size="3.9" fill="#555" text-anchor="end" >0</text>
<line x1="369.90" y1="235.50" x2="369.90" y2="237.10" stroke="#444" stroke-width="0.7" />
<text x="370.50" y="242.00" font-size="3.9" fill="#555" text-anchor="middle" >0</text>
<line x1="378.50" y1="235.50" x2="378.50" y2="237.10" stroke="#444" stroke-width="0.7" />
<text x="379.10" y="242.00" font-size="3.9" fill="#555" text-anchor="middle" >10<tspan dy='-1.3' font-size='2.6'>3</tspan></text>
<line x1="387.20" y1="235.50" x2="387.20" y2="237.10" stroke="#444" stroke-width="0.7" />
<text x="387.80" y="242.00" font-size="3.9" fill="#555" text-anchor="middle" >10<tspan dy='-1.3' font-size='2.6'>4</tspan></text>
<line x1="396.40" y1="235.50" x2="396.40" y2="237.10" stroke="#444" stroke-width="0.7" />
<text x="397.00" y="242.00" font-size="3.9" fill="#555" text-anchor="middle" >10<tspan dy='-1.3' font-size='2.6'>5</tspan></text>
<text x="380.20" y="247.70" font-size="4.8" fill="#3a3a3a" text-anchor="middle" font-weight="bold" textLength="20.50" lengthAdjust="spacingAndGlyphs" >Comp-APC-A</text>
<text x="350.90" y="216.90" font-size="4.8" fill="#3a3a3a" text-anchor="middle" font-weight="bold" textLength="19.50" lengthAdjust="spacingAndGlyphs" transform="rotate(-90 350.90 216.90)" >Comp-PE-A</text>
<rect x="417.40" y="197.70" width="39.3" height="38.4" fill="#fff" stroke="#cfcfcf" stroke-width="0.6"/>
<g filter="url(#grain)">
<ellipse cx="442.94" cy="228.42" rx="5.89" ry="4.49" fill="#dfe4f4" opacity="0.8" transform="rotate(0 442.94 228.42)" filter="url(#b2)"/>
<ellipse cx="442.94" cy="228.42" rx="4.01" ry="2.94" fill="#b4c0e4" opacity="0.6" transform="rotate(0 442.94 228.42)" filter="url(#b1)"/>
<ellipse cx="444.12" cy="213.44" rx="5.62" ry="3.23" fill="#d2daf0" opacity="0.7" transform="rotate(-20 444.12 213.44)" filter="url(#b2)"/>
<ellipse cx="444.12" cy="213.44" rx="4.32" ry="2.30" fill="#7d97cc" opacity="0.7" transform="rotate(-20 444.12 213.44)" filter="url(#b1)"/>
<ellipse cx="444.12" cy="213.44" rx="2.59" ry="1.38" fill="#5d7fbd" opacity="0.6" transform="rotate(-20 444.12 213.44)" filter="url(#b1)"/>
<ellipse cx="429.19" cy="230.46" rx="9.58" ry="4.30" fill="#c3cfec" opacity="0.65" transform="rotate(-8 429.19 230.46)" filter="url(#b2)"/>
<ellipse cx="429.19" cy="230.46" rx="7.66" ry="3.23" fill="#4f78b8" opacity="0.9" transform="rotate(-8 429.19 230.46)" filter="url(#b1)"/>
<ellipse cx="429.19" cy="230.46" rx="6.28" ry="2.52" fill="#2f8c93" opacity="0.95" transform="rotate(-8 429.19 230.46)" filter="url(#b1)"/>
<ellipse cx="429.19" cy="230.46" rx="4.60" ry="1.78" fill="#49b24e" opacity="0.95" transform="rotate(-8 429.19 230.46)" filter="url(#b1)"/>
<ellipse cx="429.19" cy="230.46" rx="2.30" ry="0.92" fill="#a8d04c" opacity="0.8" transform="rotate(-8 429.19 230.46)" filter="url(#b1)"/>
</g>
<line x1="435.50" y1="197.70" x2="435.50" y2="236.10" stroke="#6c6c7a" stroke-width="1.0" />
<line x1="417.40" y1="221.50" x2="456.70" y2="221.50" stroke="#767682" stroke-width="1.0" />
<path d="M418.40,235.80H426.40" stroke="#111" stroke-width="0.9" stroke-dasharray="0.9 0.5"/>
<path d="M417.60,230.30V231.90" stroke="#111" stroke-width="1.1"/>
<text x="418.70" y="201.60" font-size="2.5" fill="#5a5a5a" >Q1</text>
<text x="418.70" y="204.00" font-size="2.5" fill="#5a5a5a" textLength="5.00" lengthAdjust="spacingAndGlyphs" >0.000</text>
<text x="455.40" y="201.60" font-size="2.5" fill="#5a5a5a" text-anchor="end" >Q2</text>
<text x="455.40" y="204.00" font-size="2.5" fill="#5a5a5a" text-anchor="end" >1.0</text>
<text x="418.70" y="231.90" font-size="2.5" fill="#5a5a5a" >Q4</text>
<text x="418.70" y="234.30" font-size="2.5" fill="#5a5a5a" >90.0</text>
<text x="455.40" y="231.90" font-size="2.5" fill="#5a5a5a" text-anchor="end" >Q3</text>
<text x="455.40" y="234.30" font-size="2.5" fill="#5a5a5a" text-anchor="end" >5.0</text>
<line x1="416.40" y1="201.10" x2="418.10" y2="201.10" stroke="#444" stroke-width="0.7" />
<text x="415.50" y="202.50" font-size="3.9" fill="#555" text-anchor="end" >10<tspan dy='-1.3' font-size='2.6'>5</tspan></text>
<line x1="416.40" y1="209.70" x2="418.10" y2="209.70" stroke="#444" stroke-width="0.7" />
<text x="415.50" y="211.10" font-size="3.9" fill="#555" text-anchor="end" >10<tspan dy='-1.3' font-size='2.6'>4</tspan></text>
<line x1="416.40" y1="218.20" x2="418.10" y2="218.20" stroke="#444" stroke-width="0.7" />
<text x="415.50" y="219.60" font-size="3.9" fill="#555" text-anchor="end" >10<tspan dy='-1.3' font-size='2.6'>3</tspan></text>
<line x1="416.40" y1="226.90" x2="418.10" y2="226.90" stroke="#444" stroke-width="0.7" />
<text x="415.50" y="228.30" font-size="3.9" fill="#555" text-anchor="end" >10<tspan dy='-1.3' font-size='2.6'>2</tspan></text>
<line x1="416.40" y1="231.90" x2="418.10" y2="231.90" stroke="#444" stroke-width="0.7" />
<text x="415.50" y="233.30" font-size="3.9" fill="#555" text-anchor="end" >0</text>
<line x1="426.10" y1="235.50" x2="426.10" y2="237.10" stroke="#444" stroke-width="0.7" />
<text x="426.70" y="242.00" font-size="3.9" fill="#555" text-anchor="middle" >0</text>
<line x1="434.70" y1="235.50" x2="434.70" y2="237.10" stroke="#444" stroke-width="0.7" />
<text x="435.30" y="242.00" font-size="3.9" fill="#555" text-anchor="middle" >10<tspan dy='-1.3' font-size='2.6'>3</tspan></text>
<line x1="443.40" y1="235.50" x2="443.40" y2="237.10" stroke="#444" stroke-width="0.7" />
<text x="444.00" y="242.00" font-size="3.9" fill="#555" text-anchor="middle" >10<tspan dy='-1.3' font-size='2.6'>4</tspan></text>
<line x1="452.60" y1="235.50" x2="452.60" y2="237.10" stroke="#444" stroke-width="0.7" />
<text x="453.20" y="242.00" font-size="3.9" fill="#555" text-anchor="middle" >10<tspan dy='-1.3' font-size='2.6'>5</tspan></text>
<text x="436.40" y="247.70" font-size="4.8" fill="#3a3a3a" text-anchor="middle" font-weight="bold" textLength="20.50" lengthAdjust="spacingAndGlyphs" >Comp-APC-A</text>
<text x="407.10" y="216.90" font-size="4.8" fill="#3a3a3a" text-anchor="middle" font-weight="bold" textLength="19.50" lengthAdjust="spacingAndGlyphs" transform="rotate(-90 407.10 216.90)" >Comp-PE-A</text>
<rect x="473.80" y="197.70" width="39.3" height="38.4" fill="#fff" stroke="#cfcfcf" stroke-width="0.6"/>
<g filter="url(#grain)">
<ellipse cx="495.42" cy="222.66" rx="12.28" ry="9.98" fill="#dfe4f4" opacity="0.8" transform="rotate(-30 495.42 222.66)" filter="url(#b2)"/>
<ellipse cx="495.42" cy="222.66" rx="8.35" ry="6.53" fill="#b4c0e4" opacity="0.6" transform="rotate(-30 495.42 222.66)" filter="url(#b1)"/>
<ellipse cx="495.42" cy="228.42" rx="10.22" ry="5.38" fill="#d2daf0" opacity="0.7" transform="rotate(-20 495.42 228.42)" filter="url(#b2)"/>
<ellipse cx="495.42" cy="228.42" rx="7.86" ry="3.84" fill="#7d97cc" opacity="0.7" transform="rotate(-20 495.42 228.42)" filter="url(#b1)"/>
<ellipse cx="495.42" cy="228.42" rx="4.72" ry="2.30" fill="#5d7fbd" opacity="0.6" transform="rotate(-20 495.42 228.42)" filter="url(#b1)"/>
<ellipse cx="500.52" cy="214.21" rx="10.08" ry="4.03" fill="#c3cfec" opacity="0.7" transform="rotate(-32 500.52 214.21)" filter="url(#b2)"/>
<ellipse cx="500.52" cy="214.21" rx="7.84" ry="2.90" fill="#5f84bd" opacity="0.85" transform="rotate(-32 500.52 214.21)" filter="url(#b1)"/>
<ellipse cx="500.52" cy="214.21" rx="5.97" ry="2.04" fill="#41899e" opacity="0.9" transform="rotate(-32 500.52 214.21)" filter="url(#b1)"/>
<ellipse cx="500.52" cy="214.21" rx="3.58" ry="1.13" fill="#4fa66a" opacity="0.8" transform="rotate(-32 500.52 214.21)" filter="url(#b1)"/>
<ellipse cx="486.77" cy="228.42" rx="10.61" ry="5.57" fill="#c8d2ee" opacity="0.7" transform="rotate(-35 486.77 228.42)" filter="url(#b2)"/>
<ellipse cx="486.77" cy="228.42" rx="8.25" ry="4.15" fill="#6688c0" opacity="0.85" transform="rotate(-35 486.77 228.42)" filter="url(#b1)"/>
<ellipse cx="486.77" cy="228.42" rx="6.13" ry="2.88" fill="#4a8aa2" opacity="0.85" transform="rotate(-35 486.77 228.42)" filter="url(#b1)"/>
<ellipse cx="486.77" cy="228.42" rx="3.54" ry="1.54" fill="#3d8a94" opacity="0.6" transform="rotate(-35 486.77 228.42)" filter="url(#b1)"/>
</g>
<line x1="492.50" y1="197.70" x2="492.50" y2="236.10" stroke="#6c6c7a" stroke-width="1.0" />
<line x1="473.80" y1="221.50" x2="513.10" y2="221.50" stroke="#767682" stroke-width="1.0" />
<path d="M474.80,235.80H482.80" stroke="#111" stroke-width="0.9" stroke-dasharray="0.9 0.5"/>
<path d="M474.00,230.30V231.90" stroke="#111" stroke-width="1.1"/>
<text x="475.10" y="201.60" font-size="2.5" fill="#5a5a5a" >Q1</text>
<text x="475.10" y="204.00" font-size="2.5" fill="#5a5a5a" textLength="5.00" lengthAdjust="spacingAndGlyphs" >0.000</text>
<text x="511.80" y="201.60" font-size="2.5" fill="#5a5a5a" text-anchor="end" >Q2</text>
<text x="511.80" y="204.00" font-size="2.5" fill="#5a5a5a" text-anchor="end" >1.0</text>
<text x="475.10" y="231.90" font-size="2.5" fill="#5a5a5a" >Q4</text>
<text x="475.10" y="234.30" font-size="2.5" fill="#5a5a5a" >90.0</text>
<text x="511.80" y="231.90" font-size="2.5" fill="#5a5a5a" text-anchor="end" >Q3</text>
<text x="511.80" y="234.30" font-size="2.5" fill="#5a5a5a" text-anchor="end" >5.0</text>
<line x1="472.80" y1="201.10" x2="474.50" y2="201.10" stroke="#444" stroke-width="0.7" />
<text x="471.90" y="202.50" font-size="3.9" fill="#555" text-anchor="end" >10<tspan dy='-1.3' font-size='2.6'>5</tspan></text>
<line x1="472.80" y1="209.70" x2="474.50" y2="209.70" stroke="#444" stroke-width="0.7" />
<text x="471.90" y="211.10" font-size="3.9" fill="#555" text-anchor="end" >10<tspan dy='-1.3' font-size='2.6'>4</tspan></text>
<line x1="472.80" y1="218.20" x2="474.50" y2="218.20" stroke="#444" stroke-width="0.7" />
<text x="471.90" y="219.60" font-size="3.9" fill="#555" text-anchor="end" >10<tspan dy='-1.3' font-size='2.6'>3</tspan></text>
<line x1="472.80" y1="226.90" x2="474.50" y2="226.90" stroke="#444" stroke-width="0.7" />
<text x="471.90" y="228.30" font-size="3.9" fill="#555" text-anchor="end" >10<tspan dy='-1.3' font-size='2.6'>2</tspan></text>
<line x1="472.80" y1="231.90" x2="474.50" y2="231.90" stroke="#444" stroke-width="0.7" />
<text x="471.90" y="233.30" font-size="3.9" fill="#555" text-anchor="end" >0</text>
<line x1="482.50" y1="235.50" x2="482.50" y2="237.10" stroke="#444" stroke-width="0.7" />
<text x="483.10" y="242.00" font-size="3.9" fill="#555" text-anchor="middle" >0</text>
<line x1="491.10" y1="235.50" x2="491.10" y2="237.10" stroke="#444" stroke-width="0.7" />
<text x="491.70" y="242.00" font-size="3.9" fill="#555" text-anchor="middle" >10<tspan dy='-1.3' font-size='2.6'>3</tspan></text>
<line x1="499.80" y1="235.50" x2="499.80" y2="237.10" stroke="#444" stroke-width="0.7" />
<text x="500.40" y="242.00" font-size="3.9" fill="#555" text-anchor="middle" >10<tspan dy='-1.3' font-size='2.6'>4</tspan></text>
<line x1="509.00" y1="235.50" x2="509.00" y2="237.10" stroke="#444" stroke-width="0.7" />
<text x="509.60" y="242.00" font-size="3.9" fill="#555" text-anchor="middle" >10<tspan dy='-1.3' font-size='2.6'>5</tspan></text>
<text x="492.80" y="247.70" font-size="4.8" fill="#3a3a3a" text-anchor="middle" font-weight="bold" textLength="20.50" lengthAdjust="spacingAndGlyphs" >Comp-APC-A</text>
<text x="463.50" y="216.90" font-size="4.8" fill="#3a3a3a" text-anchor="middle" font-weight="bold" textLength="19.50" lengthAdjust="spacingAndGlyphs" transform="rotate(-90 463.50 216.90)" >Comp-PE-A</text>
<rect x="305.00" y="252.80" width="39.3" height="38.4" fill="#fff" stroke="#cfcfcf" stroke-width="0.6"/>
<g filter="url(#grain)">
<ellipse cx="330.55" cy="284.67" rx="6.39" ry="3.99" fill="#dfe4f4" opacity="0.8" transform="rotate(0 330.55 284.67)" filter="url(#b2)"/>
<ellipse cx="330.55" cy="284.67" rx="4.34" ry="2.61" fill="#b4c0e4" opacity="0.6" transform="rotate(0 330.55 284.67)" filter="url(#b1)"/>
<ellipse cx="332.12" cy="268.70" rx="6.13" ry="3.23" fill="#d2daf0" opacity="0.7" transform="rotate(-35 332.12 268.70)" filter="url(#b2)"/>
<ellipse cx="332.12" cy="268.70" rx="4.72" ry="2.30" fill="#7d97cc" opacity="0.7" transform="rotate(-35 332.12 268.70)" filter="url(#b1)"/>
<ellipse cx="332.12" cy="268.70" rx="2.83" ry="1.38" fill="#5d7fbd" opacity="0.6" transform="rotate(-35 332.12 268.70)" filter="url(#b1)"/>
<ellipse cx="316.36" cy="285.56" rx="8.60" ry="4.30" fill="#c3cfec" opacity="0.65" transform="rotate(-8 316.36 285.56)" filter="url(#b2)"/>
<ellipse cx="316.36" cy="285.56" rx="6.88" ry="3.23" fill="#4f78b8" opacity="0.9" transform="rotate(-8 316.36 285.56)" filter="url(#b1)"/>
<ellipse cx="316.36" cy="285.56" rx="5.64" ry="2.52" fill="#2f8c93" opacity="0.95" transform="rotate(-8 316.36 285.56)" filter="url(#b1)"/>
<ellipse cx="316.36" cy="285.56" rx="4.13" ry="1.78" fill="#49b24e" opacity="0.95" transform="rotate(-8 316.36 285.56)" filter="url(#b1)"/>
<ellipse cx="316.36" cy="285.56" rx="2.06" ry="0.92" fill="#a8d04c" opacity="0.8" transform="rotate(-8 316.36 285.56)" filter="url(#b1)"/>
</g>
<line x1="323.50" y1="252.80" x2="323.50" y2="291.20" stroke="#6c6c7a" stroke-width="1.0" />
<line x1="305.00" y1="276.50" x2="344.30" y2="276.50" stroke="#767682" stroke-width="1.0" />
<path d="M306.00,290.90H314.00" stroke="#111" stroke-width="0.9" stroke-dasharray="0.9 0.5"/>
<path d="M305.20,285.40V287.00" stroke="#111" stroke-width="1.1"/>
<text x="306.30" y="256.70" font-size="2.5" fill="#5a5a5a" >Q1</text>
<text x="306.30" y="259.10" font-size="2.5" fill="#5a5a5a" textLength="5.00" lengthAdjust="spacingAndGlyphs" >0.000</text>
<text x="343.00" y="256.70" font-size="2.5" fill="#5a5a5a" text-anchor="end" >Q2</text>
<text x="343.00" y="259.10" font-size="2.5" fill="#5a5a5a" text-anchor="end" >1.0</text>
<text x="306.30" y="287.00" font-size="2.5" fill="#5a5a5a" >Q4</text>
<text x="306.30" y="289.40" font-size="2.5" fill="#5a5a5a" >90.0</text>
<text x="343.00" y="287.00" font-size="2.5" fill="#5a5a5a" text-anchor="end" >Q3</text>
<text x="343.00" y="289.40" font-size="2.5" fill="#5a5a5a" text-anchor="end" >5.0</text>
<line x1="304.00" y1="256.20" x2="305.70" y2="256.20" stroke="#444" stroke-width="0.7" />
<text x="303.10" y="257.60" font-size="3.9" fill="#555" text-anchor="end" >10<tspan dy='-1.3' font-size='2.6'>5</tspan></text>
<line x1="304.00" y1="264.80" x2="305.70" y2="264.80" stroke="#444" stroke-width="0.7" />
<text x="303.10" y="266.20" font-size="3.9" fill="#555" text-anchor="end" >10<tspan dy='-1.3' font-size='2.6'>4</tspan></text>
<line x1="304.00" y1="273.30" x2="305.70" y2="273.30" stroke="#444" stroke-width="0.7" />
<text x="303.10" y="274.70" font-size="3.9" fill="#555" text-anchor="end" >10<tspan dy='-1.3' font-size='2.6'>3</tspan></text>
<line x1="304.00" y1="282.00" x2="305.70" y2="282.00" stroke="#444" stroke-width="0.7" />
<text x="303.10" y="283.40" font-size="3.9" fill="#555" text-anchor="end" >10<tspan dy='-1.3' font-size='2.6'>2</tspan></text>
<line x1="304.00" y1="287.00" x2="305.70" y2="287.00" stroke="#444" stroke-width="0.7" />
<text x="303.10" y="288.40" font-size="3.9" fill="#555" text-anchor="end" >0</text>
<line x1="313.70" y1="290.60" x2="313.70" y2="292.20" stroke="#444" stroke-width="0.7" />
<text x="314.30" y="297.10" font-size="3.9" fill="#555" text-anchor="middle" >0</text>
<line x1="322.30" y1="290.60" x2="322.30" y2="292.20" stroke="#444" stroke-width="0.7" />
<text x="322.90" y="297.10" font-size="3.9" fill="#555" text-anchor="middle" >10<tspan dy='-1.3' font-size='2.6'>3</tspan></text>
<line x1="331.00" y1="290.60" x2="331.00" y2="292.20" stroke="#444" stroke-width="0.7" />
<text x="331.60" y="297.10" font-size="3.9" fill="#555" text-anchor="middle" >10<tspan dy='-1.3' font-size='2.6'>4</tspan></text>
<line x1="340.20" y1="290.60" x2="340.20" y2="292.20" stroke="#444" stroke-width="0.7" />
<text x="340.80" y="297.10" font-size="3.9" fill="#555" text-anchor="middle" >10<tspan dy='-1.3' font-size='2.6'>5</tspan></text>
<text x="324.00" y="302.80" font-size="4.8" fill="#3a3a3a" text-anchor="middle" font-weight="bold" textLength="20.50" lengthAdjust="spacingAndGlyphs" >Comp-APC-A</text>
<text x="294.70" y="272.00" font-size="4.8" fill="#3a3a3a" text-anchor="middle" font-weight="bold" textLength="19.50" lengthAdjust="spacingAndGlyphs" transform="rotate(-90 294.70 272.00)" >Comp-PE-A</text>
<rect x="361.20" y="252.80" width="39.3" height="38.4" fill="#fff" stroke="#cfcfcf" stroke-width="0.6"/>
<g filter="url(#grain)">
<ellipse cx="385.17" cy="283.90" rx="7.15" ry="5.38" fill="#d2daf0" opacity="0.7" transform="rotate(-15 385.17 283.90)" filter="url(#b2)"/>
<ellipse cx="385.17" cy="283.90" rx="5.50" ry="3.84" fill="#7d97cc" opacity="0.7" transform="rotate(-15 385.17 283.90)" filter="url(#b1)"/>
<ellipse cx="385.17" cy="283.90" rx="3.30" ry="2.30" fill="#5d7fbd" opacity="0.6" transform="rotate(-15 385.17 283.90)" filter="url(#b1)"/>
<ellipse cx="389.89" cy="268.54" rx="8.49" ry="3.34" fill="#c8d2ee" opacity="0.7" transform="rotate(-25 389.89 268.54)" filter="url(#b2)"/>
<ellipse cx="389.89" cy="268.54" rx="6.60" ry="2.49" fill="#6688c0" opacity="0.85" transform="rotate(-25 389.89 268.54)" filter="url(#b1)"/>
<ellipse cx="389.89" cy="268.54" rx="4.90" ry="1.73" fill="#4a8aa2" opacity="0.85" transform="rotate(-25 389.89 268.54)" filter="url(#b1)"/>
<ellipse cx="389.89" cy="268.54" rx="2.83" ry="0.92" fill="#3d8a94" opacity="0.6" transform="rotate(-25 389.89 268.54)" filter="url(#b1)"/>
<ellipse cx="372.99" cy="284.67" rx="8.11" ry="5.38" fill="#c3cfec" opacity="0.65" transform="rotate(-20 372.99 284.67)" filter="url(#b2)"/>
<ellipse cx="372.99" cy="284.67" rx="6.48" ry="4.03" fill="#4f78b8" opacity="0.9" transform="rotate(-20 372.99 284.67)" filter="url(#b1)"/>
<ellipse cx="372.99" cy="284.67" rx="5.32" ry="3.15" fill="#2f8c93" opacity="0.95" transform="rotate(-20 372.99 284.67)" filter="url(#b1)"/>
<ellipse cx="372.99" cy="284.67" rx="3.89" ry="2.23" fill="#49b24e" opacity="0.95" transform="rotate(-20 372.99 284.67)" filter="url(#b1)"/>
<ellipse cx="372.99" cy="284.67" rx="1.95" ry="1.15" fill="#a8d04c" opacity="0.8" transform="rotate(-20 372.99 284.67)" filter="url(#b1)"/>
</g>
<line x1="379.50" y1="252.80" x2="379.50" y2="291.20" stroke="#6c6c7a" stroke-width="1.0" />
<line x1="361.20" y1="276.50" x2="400.50" y2="276.50" stroke="#767682" stroke-width="1.0" />
<path d="M362.20,290.90H370.20" stroke="#111" stroke-width="0.9" stroke-dasharray="0.9 0.5"/>
<path d="M361.40,285.40V287.00" stroke="#111" stroke-width="1.1"/>
<text x="362.50" y="256.70" font-size="2.5" fill="#5a5a5a" >Q1</text>
<text x="362.50" y="259.10" font-size="2.5" fill="#5a5a5a" textLength="5.00" lengthAdjust="spacingAndGlyphs" >0.000</text>
<text x="399.20" y="256.70" font-size="2.5" fill="#5a5a5a" text-anchor="end" >Q2</text>
<text x="399.20" y="259.10" font-size="2.5" fill="#5a5a5a" text-anchor="end" >1.0</text>
<text x="362.50" y="287.00" font-size="2.5" fill="#5a5a5a" >Q4</text>
<text x="362.50" y="289.40" font-size="2.5" fill="#5a5a5a" >90.0</text>
<text x="399.20" y="287.00" font-size="2.5" fill="#5a5a5a" text-anchor="end" >Q3</text>
<text x="399.20" y="289.40" font-size="2.5" fill="#5a5a5a" text-anchor="end" >5.0</text>
<line x1="360.20" y1="256.20" x2="361.90" y2="256.20" stroke="#444" stroke-width="0.7" />
<text x="359.30" y="257.60" font-size="3.9" fill="#555" text-anchor="end" >10<tspan dy='-1.3' font-size='2.6'>5</tspan></text>
<line x1="360.20" y1="264.80" x2="361.90" y2="264.80" stroke="#444" stroke-width="0.7" />
<text x="359.30" y="266.20" font-size="3.9" fill="#555" text-anchor="end" >10<tspan dy='-1.3' font-size='2.6'>4</tspan></text>
<line x1="360.20" y1="273.30" x2="361.90" y2="273.30" stroke="#444" stroke-width="0.7" />
<text x="359.30" y="274.70" font-size="3.9" fill="#555" text-anchor="end" >10<tspan dy='-1.3' font-size='2.6'>3</tspan></text>
<line x1="360.20" y1="282.00" x2="361.90" y2="282.00" stroke="#444" stroke-width="0.7" />
<text x="359.30" y="283.40" font-size="3.9" fill="#555" text-anchor="end" >10<tspan dy='-1.3' font-size='2.6'>2</tspan></text>
<line x1="360.20" y1="287.00" x2="361.90" y2="287.00" stroke="#444" stroke-width="0.7" />
<text x="359.30" y="288.40" font-size="3.9" fill="#555" text-anchor="end" >0</text>
<line x1="369.90" y1="290.60" x2="369.90" y2="292.20" stroke="#444" stroke-width="0.7" />
<text x="370.50" y="297.10" font-size="3.9" fill="#555" text-anchor="middle" >0</text>
<line x1="378.50" y1="290.60" x2="378.50" y2="292.20" stroke="#444" stroke-width="0.7" />
<text x="379.10" y="297.10" font-size="3.9" fill="#555" text-anchor="middle" >10<tspan dy='-1.3' font-size='2.6'>3</tspan></text>
<line x1="387.20" y1="290.60" x2="387.20" y2="292.20" stroke="#444" stroke-width="0.7" />
<text x="387.80" y="297.10" font-size="3.9" fill="#555" text-anchor="middle" >10<tspan dy='-1.3' font-size='2.6'>4</tspan></text>
<line x1="396.40" y1="290.60" x2="396.40" y2="292.20" stroke="#444" stroke-width="0.7" />
<text x="397.00" y="297.10" font-size="3.9" fill="#555" text-anchor="middle" >10<tspan dy='-1.3' font-size='2.6'>5</tspan></text>
<text x="380.20" y="302.80" font-size="4.8" fill="#3a3a3a" text-anchor="middle" font-weight="bold" textLength="20.50" lengthAdjust="spacingAndGlyphs" >Comp-APC-A</text>
<text x="350.90" y="272.00" font-size="4.8" fill="#3a3a3a" text-anchor="middle" font-weight="bold" textLength="19.50" lengthAdjust="spacingAndGlyphs" transform="rotate(-90 350.90 272.00)" >Comp-PE-A</text>
<rect x="417.40" y="252.80" width="39.3" height="38.4" fill="#fff" stroke="#cfcfcf" stroke-width="0.6"/>
<g filter="url(#grain)">
<ellipse cx="440.98" cy="283.52" rx="7.15" ry="4.84" fill="#d2daf0" opacity="0.7" transform="rotate(-15 440.98 283.52)" filter="url(#b2)"/>
<ellipse cx="440.98" cy="283.52" rx="5.50" ry="3.46" fill="#7d97cc" opacity="0.7" transform="rotate(-15 440.98 283.52)" filter="url(#b1)"/>
<ellipse cx="440.98" cy="283.52" rx="3.30" ry="2.07" fill="#5d7fbd" opacity="0.6" transform="rotate(-15 440.98 283.52)" filter="url(#b1)"/>
<ellipse cx="444.12" cy="268.93" rx="6.13" ry="3.23" fill="#d2daf0" opacity="0.7" transform="rotate(-25 444.12 268.93)" filter="url(#b2)"/>
<ellipse cx="444.12" cy="268.93" rx="4.72" ry="2.30" fill="#7d97cc" opacity="0.7" transform="rotate(-25 444.12 268.93)" filter="url(#b1)"/>
<ellipse cx="444.12" cy="268.93" rx="2.83" ry="1.38" fill="#5d7fbd" opacity="0.6" transform="rotate(-25 444.12 268.93)" filter="url(#b1)"/>
<ellipse cx="429.98" cy="285.56" rx="8.60" ry="4.30" fill="#c3cfec" opacity="0.65" transform="rotate(-10 429.98 285.56)" filter="url(#b2)"/>
<ellipse cx="429.98" cy="285.56" rx="6.88" ry="3.23" fill="#4f78b8" opacity="0.9" transform="rotate(-10 429.98 285.56)" filter="url(#b1)"/>
<ellipse cx="429.98" cy="285.56" rx="5.64" ry="2.52" fill="#2f8c93" opacity="0.95" transform="rotate(-10 429.98 285.56)" filter="url(#b1)"/>
<ellipse cx="429.98" cy="285.56" rx="4.13" ry="1.78" fill="#49b24e" opacity="0.95" transform="rotate(-10 429.98 285.56)" filter="url(#b1)"/>
<ellipse cx="429.98" cy="285.56" rx="2.06" ry="0.92" fill="#a8d04c" opacity="0.8" transform="rotate(-10 429.98 285.56)" filter="url(#b1)"/>
</g>
<line x1="435.50" y1="252.80" x2="435.50" y2="291.20" stroke="#6c6c7a" stroke-width="1.0" />
<line x1="417.40" y1="276.50" x2="456.70" y2="276.50" stroke="#767682" stroke-width="1.0" />
<path d="M418.40,290.90H426.40" stroke="#111" stroke-width="0.9" stroke-dasharray="0.9 0.5"/>
<path d="M417.60,285.40V287.00" stroke="#111" stroke-width="1.1"/>
<text x="418.70" y="256.70" font-size="2.5" fill="#5a5a5a" >Q1</text>
<text x="418.70" y="259.10" font-size="2.5" fill="#5a5a5a" textLength="5.00" lengthAdjust="spacingAndGlyphs" >0.000</text>
<text x="455.40" y="256.70" font-size="2.5" fill="#5a5a5a" text-anchor="end" >Q2</text>
<text x="455.40" y="259.10" font-size="2.5" fill="#5a5a5a" text-anchor="end" >1.0</text>
<text x="418.70" y="287.00" font-size="2.5" fill="#5a5a5a" >Q4</text>
<text x="418.70" y="289.40" font-size="2.5" fill="#5a5a5a" >90.0</text>
<text x="455.40" y="287.00" font-size="2.5" fill="#5a5a5a" text-anchor="end" >Q3</text>
<text x="455.40" y="289.40" font-size="2.5" fill="#5a5a5a" text-anchor="end" >5.0</text>
<line x1="416.40" y1="256.20" x2="418.10" y2="256.20" stroke="#444" stroke-width="0.7" />
<text x="415.50" y="257.60" font-size="3.9" fill="#555" text-anchor="end" >10<tspan dy='-1.3' font-size='2.6'>5</tspan></text>
<line x1="416.40" y1="264.80" x2="418.10" y2="264.80" stroke="#444" stroke-width="0.7" />
<text x="415.50" y="266.20" font-size="3.9" fill="#555" text-anchor="end" >10<tspan dy='-1.3' font-size='2.6'>4</tspan></text>
<line x1="416.40" y1="273.30" x2="418.10" y2="273.30" stroke="#444" stroke-width="0.7" />
<text x="415.50" y="274.70" font-size="3.9" fill="#555" text-anchor="end" >10<tspan dy='-1.3' font-size='2.6'>3</tspan></text>
<line x1="416.40" y1="282.00" x2="418.10" y2="282.00" stroke="#444" stroke-width="0.7" />
<text x="415.50" y="283.40" font-size="3.9" fill="#555" text-anchor="end" >10<tspan dy='-1.3' font-size='2.6'>2</tspan></text>
<line x1="416.40" y1="287.00" x2="418.10" y2="287.00" stroke="#444" stroke-width="0.7" />
<text x="415.50" y="288.40" font-size="3.9" fill="#555" text-anchor="end" >0</text>
<line x1="426.10" y1="290.60" x2="426.10" y2="292.20" stroke="#444" stroke-width="0.7" />
<text x="426.70" y="297.10" font-size="3.9" fill="#555" text-anchor="middle" >0</text>
<line x1="434.70" y1="290.60" x2="434.70" y2="292.20" stroke="#444" stroke-width="0.7" />
<text x="435.30" y="297.10" font-size="3.9" fill="#555" text-anchor="middle" >10<tspan dy='-1.3' font-size='2.6'>3</tspan></text>
<line x1="443.40" y1="290.60" x2="443.40" y2="292.20" stroke="#444" stroke-width="0.7" />
<text x="444.00" y="297.10" font-size="3.9" fill="#555" text-anchor="middle" >10<tspan dy='-1.3' font-size='2.6'>4</tspan></text>
<line x1="452.60" y1="290.60" x2="452.60" y2="292.20" stroke="#444" stroke-width="0.7" />
<text x="453.20" y="297.10" font-size="3.9" fill="#555" text-anchor="middle" >10<tspan dy='-1.3' font-size='2.6'>5</tspan></text>
<text x="436.40" y="302.80" font-size="4.8" fill="#3a3a3a" text-anchor="middle" font-weight="bold" textLength="20.50" lengthAdjust="spacingAndGlyphs" >Comp-APC-A</text>
<text x="407.10" y="272.00" font-size="4.8" fill="#3a3a3a" text-anchor="middle" font-weight="bold" textLength="19.50" lengthAdjust="spacingAndGlyphs" transform="rotate(-90 407.10 272.00)" >Comp-PE-A</text>
<rect x="473.80" y="252.80" width="39.3" height="38.4" fill="#fff" stroke="#cfcfcf" stroke-width="0.6"/>
<g filter="url(#grain)">
<ellipse cx="493.45" cy="275.84" rx="10.81" ry="6.49" fill="#dfe4f4" opacity="0.8" transform="rotate(-25 493.45 275.84)" filter="url(#b2)"/>
<ellipse cx="493.45" cy="275.84" rx="7.35" ry="4.24" fill="#b4c0e4" opacity="0.6" transform="rotate(-25 493.45 275.84)" filter="url(#b1)"/>
<ellipse cx="497.38" cy="283.52" rx="10.22" ry="5.91" fill="#d2daf0" opacity="0.7" transform="rotate(-10 497.38 283.52)" filter="url(#b2)"/>
<ellipse cx="497.38" cy="283.52" rx="7.86" ry="4.22" fill="#7d97cc" opacity="0.7" transform="rotate(-10 497.38 283.52)" filter="url(#b1)"/>
<ellipse cx="497.38" cy="283.52" rx="4.72" ry="2.53" fill="#5d7fbd" opacity="0.6" transform="rotate(-10 497.38 283.52)" filter="url(#b1)"/>
<ellipse cx="500.92" cy="268.54" rx="9.02" ry="3.90" fill="#c8d2ee" opacity="0.7" transform="rotate(-25 500.92 268.54)" filter="url(#b2)"/>
<ellipse cx="500.92" cy="268.54" rx="7.02" ry="2.90" fill="#6688c0" opacity="0.85" transform="rotate(-25 500.92 268.54)" filter="url(#b1)"/>
<ellipse cx="500.92" cy="268.54" rx="5.21" ry="2.02" fill="#4a8aa2" opacity="0.85" transform="rotate(-25 500.92 268.54)" filter="url(#b1)"/>
<ellipse cx="500.92" cy="268.54" rx="3.01" ry="1.08" fill="#3d8a94" opacity="0.6" transform="rotate(-25 500.92 268.54)" filter="url(#b1)"/>
<ellipse cx="485.59" cy="284.67" rx="9.02" ry="5.57" fill="#c8d2ee" opacity="0.7" transform="rotate(-20 485.59 284.67)" filter="url(#b2)"/>
<ellipse cx="485.59" cy="284.67" rx="7.02" ry="4.15" fill="#6688c0" opacity="0.85" transform="rotate(-20 485.59 284.67)" filter="url(#b1)"/>
<ellipse cx="485.59" cy="284.67" rx="5.21" ry="2.88" fill="#4a8aa2" opacity="0.85" transform="rotate(-20 485.59 284.67)" filter="url(#b1)"/>
<ellipse cx="485.59" cy="284.67" rx="3.01" ry="1.54" fill="#3d8a94" opacity="0.6" transform="rotate(-20 485.59 284.67)" filter="url(#b1)"/>
</g>
<line x1="492.50" y1="252.80" x2="492.50" y2="291.20" stroke="#6c6c7a" stroke-width="1.0" />
<line x1="473.80" y1="276.50" x2="513.10" y2="276.50" stroke="#767682" stroke-width="1.0" />
<path d="M474.80,290.90H482.80" stroke="#111" stroke-width="0.9" stroke-dasharray="0.9 0.5"/>
<path d="M474.00,285.40V287.00" stroke="#111" stroke-width="1.1"/>
<text x="475.10" y="256.70" font-size="2.5" fill="#5a5a5a" >Q1</text>
<text x="475.10" y="259.10" font-size="2.5" fill="#5a5a5a" textLength="5.00" lengthAdjust="spacingAndGlyphs" >0.000</text>
<text x="511.80" y="256.70" font-size="2.5" fill="#5a5a5a" text-anchor="end" >Q2</text>
<text x="511.80" y="259.10" font-size="2.5" fill="#5a5a5a" text-anchor="end" >1.0</text>
<text x="475.10" y="287.00" font-size="2.5" fill="#5a5a5a" >Q4</text>
<text x="475.10" y="289.40" font-size="2.5" fill="#5a5a5a" >90.0</text>
<text x="511.80" y="287.00" font-size="2.5" fill="#5a5a5a" text-anchor="end" >Q3</text>
<text x="511.80" y="289.40" font-size="2.5" fill="#5a5a5a" text-anchor="end" >5.0</text>
<line x1="472.80" y1="256.20" x2="474.50" y2="256.20" stroke="#444" stroke-width="0.7" />
<text x="471.90" y="257.60" font-size="3.9" fill="#555" text-anchor="end" >10<tspan dy='-1.3' font-size='2.6'>5</tspan></text>
<line x1="472.80" y1="264.80" x2="474.50" y2="264.80" stroke="#444" stroke-width="0.7" />
<text x="471.90" y="266.20" font-size="3.9" fill="#555" text-anchor="end" >10<tspan dy='-1.3' font-size='2.6'>4</tspan></text>
<line x1="472.80" y1="273.30" x2="474.50" y2="273.30" stroke="#444" stroke-width="0.7" />
<text x="471.90" y="274.70" font-size="3.9" fill="#555" text-anchor="end" >10<tspan dy='-1.3' font-size='2.6'>3</tspan></text>
<line x1="472.80" y1="282.00" x2="474.50" y2="282.00" stroke="#444" stroke-width="0.7" />
<text x="471.90" y="283.40" font-size="3.9" fill="#555" text-anchor="end" >10<tspan dy='-1.3' font-size='2.6'>2</tspan></text>
<line x1="472.80" y1="287.00" x2="474.50" y2="287.00" stroke="#444" stroke-width="0.7" />
<text x="471.90" y="288.40" font-size="3.9" fill="#555" text-anchor="end" >0</text>
<line x1="482.50" y1="290.60" x2="482.50" y2="292.20" stroke="#444" stroke-width="0.7" />
<text x="483.10" y="297.10" font-size="3.9" fill="#555" text-anchor="middle" >0</text>
<line x1="491.10" y1="290.60" x2="491.10" y2="292.20" stroke="#444" stroke-width="0.7" />
<text x="491.70" y="297.10" font-size="3.9" fill="#555" text-anchor="middle" >10<tspan dy='-1.3' font-size='2.6'>3</tspan></text>
<line x1="499.80" y1="290.60" x2="499.80" y2="292.20" stroke="#444" stroke-width="0.7" />
<text x="500.40" y="297.10" font-size="3.9" fill="#555" text-anchor="middle" >10<tspan dy='-1.3' font-size='2.6'>4</tspan></text>
<line x1="509.00" y1="290.60" x2="509.00" y2="292.20" stroke="#444" stroke-width="0.7" />
<text x="509.60" y="297.10" font-size="3.9" fill="#555" text-anchor="middle" >10<tspan dy='-1.3' font-size='2.6'>5</tspan></text>
<text x="492.80" y="302.80" font-size="4.8" fill="#3a3a3a" text-anchor="middle" font-weight="bold" textLength="20.50" lengthAdjust="spacingAndGlyphs" >Comp-APC-A</text>
<text x="463.50" y="272.00" font-size="4.8" fill="#3a3a3a" text-anchor="middle" font-weight="bold" textLength="19.50" lengthAdjust="spacingAndGlyphs" transform="rotate(-90 463.50 272.00)" >Comp-PE-A</text>
<text x="125.40" y="353.80" font-size="8.3" fill="#222" text-anchor="middle" textLength="25.50" lengthAdjust="spacingAndGlyphs" >MM1R</text>
<line x1="70.75" y1="442.58" x2="70.75" y2="441.90" stroke="#333" stroke-width="0.8" />
<line x1="68.15" y1="441.90" x2="73.35" y2="441.90" stroke="#333" stroke-width="0.8" />
<rect x="66.00" y="442.58" width="9.50" height="4.42" fill="#d2142f" stroke="rgba(0,0,0,0.25)" stroke-width="0.4"/>
<line x1="85.15" y1="388.61" x2="85.15" y2="382.65" stroke="#333" stroke-width="0.8" />
<line x1="82.55" y1="382.65" x2="87.75" y2="382.65" stroke="#333" stroke-width="0.8" />
<rect x="80.40" y="388.61" width="9.50" height="58.39" fill="#1b4f8e" stroke="rgba(0,0,0,0.25)" stroke-width="0.4"/>
<line x1="99.55" y1="441.48" x2="99.55" y2="440.96" stroke="#333" stroke-width="0.8" />
<line x1="96.95" y1="440.96" x2="102.15" y2="440.96" stroke="#333" stroke-width="0.8" />
<rect x="94.80" y="441.48" width="9.50" height="5.52" fill="#3cb23f" stroke="rgba(0,0,0,0.25)" stroke-width="0.4"/>
<line x1="113.95" y1="379.00" x2="113.95" y2="375.60" stroke="#333" stroke-width="0.8" />
<line x1="111.35" y1="375.60" x2="116.55" y2="375.60" stroke="#333" stroke-width="0.8" />
<rect x="109.20" y="379.00" width="9.50" height="68.00" fill="#5a2470" stroke="rgba(0,0,0,0.25)" stroke-width="0.4"/>
<line x1="137.15" y1="436.71" x2="137.15" y2="433.74" stroke="#333" stroke-width="0.8" />
<line x1="134.55" y1="433.74" x2="139.75" y2="433.74" stroke="#333" stroke-width="0.8" />
<rect x="132.40" y="436.71" width="9.50" height="10.29" fill="#d2142f" stroke="rgba(0,0,0,0.25)" stroke-width="0.4"/>
<line x1="151.55" y1="405.10" x2="151.55" y2="398.30" stroke="#333" stroke-width="0.8" />
<line x1="148.95" y1="398.30" x2="154.15" y2="398.30" stroke="#333" stroke-width="0.8" />
<rect x="146.80" y="405.10" width="9.50" height="41.90" fill="#1b4f8e" stroke="rgba(0,0,0,0.25)" stroke-width="0.4"/>
<line x1="165.95" y1="430.94" x2="165.95" y2="428.38" stroke="#333" stroke-width="0.8" />
<line x1="163.35" y1="428.38" x2="168.55" y2="428.38" stroke="#333" stroke-width="0.8" />
<rect x="161.20" y="430.94" width="9.50" height="16.06" fill="#3cb23f" stroke="rgba(0,0,0,0.25)" stroke-width="0.4"/>
<line x1="180.35" y1="383.93" x2="180.35" y2="382.57" stroke="#333" stroke-width="0.8" />
<line x1="177.75" y1="382.57" x2="182.95" y2="382.57" stroke="#333" stroke-width="0.8" />
<rect x="175.60" y="383.93" width="9.50" height="63.07" fill="#5a2470" stroke="rgba(0,0,0,0.25)" stroke-width="0.4"/>
<line x1="61.70" y1="359.60" x2="61.70" y2="447.50" stroke="#333" stroke-width="1" />
<line x1="61.20" y1="447.00" x2="189.30" y2="447.00" stroke="#333" stroke-width="1" />
<line x1="58.30" y1="447.00" x2="61.70" y2="447.00" stroke="#333" stroke-width="1.0" />
<text x="55.40" y="449.10" font-size="6.1" fill="#333" text-anchor="end" >0</text>
<line x1="58.30" y1="430.00" x2="61.70" y2="430.00" stroke="#333" stroke-width="1.0" />
<text x="55.40" y="432.10" font-size="6.1" fill="#333" text-anchor="end" >20</text>
<line x1="58.30" y1="413.00" x2="61.70" y2="413.00" stroke="#333" stroke-width="1.0" />
<text x="55.40" y="415.10" font-size="6.1" fill="#333" text-anchor="end" >40</text>
<line x1="58.30" y1="396.00" x2="61.70" y2="396.00" stroke="#333" stroke-width="1.0" />
<text x="55.40" y="398.10" font-size="6.1" fill="#333" text-anchor="end" >60</text>
<line x1="58.30" y1="379.00" x2="61.70" y2="379.00" stroke="#333" stroke-width="1.0" />
<text x="55.40" y="381.10" font-size="6.1" fill="#333" text-anchor="end" >80</text>
<line x1="58.30" y1="362.00" x2="61.70" y2="362.00" stroke="#333" stroke-width="1.0" />
<text x="55.40" y="364.10" font-size="6.1" fill="#333" text-anchor="end" >100</text>
<line x1="92.25" y1="447.00" x2="92.25" y2="449.20" stroke="#333" stroke-width="0.8" />
<text x="92.25" y="459.00" font-size="5.8" fill="#333" text-anchor="middle" textLength="15.00" lengthAdjust="spacingAndGlyphs" >shNC</text>
<line x1="158.65" y1="447.00" x2="158.65" y2="449.20" stroke="#333" stroke-width="0.8" />
<text x="158.65" y="459.00" font-size="5.8" fill="#333" text-anchor="middle" textLength="27.80" lengthAdjust="spacingAndGlyphs" >shTRIM21</text>
<text x="39.00" y="403.00" font-size="5.7" fill="#333" text-anchor="middle" textLength="30.50" lengthAdjust="spacingAndGlyphs" transform="rotate(-90 39.00 403.00)" >% apoptosis</text>
<path d="M150.60,386.80V368.00H180.10V373.80" fill="none" stroke="#333" stroke-width="0.9"/>
<text x="165.75" y="368.20" font-size="6.6" fill="#222" text-anchor="middle" font-weight="bold" >**</text>
<rect x="198.00" y="384.70" width="5.90" height="5.60" fill="#d2142f" />
<text x="207.00" y="389.50" font-size="5.5" fill="#333" textLength="30.30" lengthAdjust="spacingAndGlyphs" >shNC Bort 0</text>
<rect x="198.00" y="394.90" width="5.90" height="5.60" fill="#1b4f8e" />
<text x="207.00" y="399.70" font-size="5.5" fill="#333" textLength="30.30" lengthAdjust="spacingAndGlyphs" >shNC Bort 5</text>
<rect x="198.00" y="405.10" width="5.90" height="5.60" fill="#3cb23f" />
<text x="207.00" y="409.90" font-size="5.5" fill="#333" textLength="35.80" lengthAdjust="spacingAndGlyphs" >shATG5 Bort 0</text>
<rect x="198.00" y="415.30" width="5.90" height="5.60" fill="#5a2470" />
<text x="207.00" y="420.10" font-size="5.5" fill="#333" textLength="35.80" lengthAdjust="spacingAndGlyphs" >shATG5 Bort 5</text>
<text x="355.40" y="353.80" font-size="8.3" fill="#222" text-anchor="middle" textLength="27.70" lengthAdjust="spacingAndGlyphs" >MM.1S</text>
<line x1="300.75" y1="439.35" x2="300.75" y2="437.54" stroke="#333" stroke-width="0.8" />
<line x1="298.15" y1="437.54" x2="303.35" y2="437.54" stroke="#333" stroke-width="0.8" />
<rect x="296.00" y="439.35" width="9.50" height="7.65" fill="#d2142f" stroke="rgba(0,0,0,0.25)" stroke-width="0.4"/>
<line x1="315.15" y1="381.66" x2="315.15" y2="377.73" stroke="#333" stroke-width="0.8" />
<line x1="312.55" y1="377.73" x2="317.75" y2="377.73" stroke="#333" stroke-width="0.8" />
<rect x="310.40" y="381.66" width="9.50" height="65.34" fill="#1b4f8e" stroke="rgba(0,0,0,0.25)" stroke-width="0.4"/>
<line x1="329.55" y1="439.99" x2="329.55" y2="439.35" stroke="#333" stroke-width="0.8" />
<line x1="326.95" y1="439.35" x2="332.15" y2="439.35" stroke="#333" stroke-width="0.8" />
<rect x="324.80" y="439.99" width="9.50" height="7.01" fill="#3cb23f" stroke="rgba(0,0,0,0.25)" stroke-width="0.4"/>
<line x1="343.95" y1="376.98" x2="343.95" y2="373.16" stroke="#333" stroke-width="0.8" />
<line x1="341.35" y1="373.16" x2="346.55" y2="373.16" stroke="#333" stroke-width="0.8" />
<rect x="339.20" y="376.98" width="9.50" height="70.02" fill="#5a2470" stroke="rgba(0,0,0,0.25)" stroke-width="0.4"/>
<line x1="367.15" y1="437.12" x2="367.15" y2="435.84" stroke="#333" stroke-width="0.8" />
<line x1="364.55" y1="435.84" x2="369.75" y2="435.84" stroke="#333" stroke-width="0.8" />
<rect x="362.40" y="437.12" width="9.50" height="9.88" fill="#d2142f" stroke="rgba(0,0,0,0.25)" stroke-width="0.4"/>
<line x1="381.55" y1="419.59" x2="381.55" y2="416.61" stroke="#333" stroke-width="0.8" />
<line x1="378.95" y1="416.61" x2="384.15" y2="416.61" stroke="#333" stroke-width="0.8" />
<rect x="376.80" y="419.59" width="9.50" height="27.41" fill="#1b4f8e" stroke="rgba(0,0,0,0.25)" stroke-width="0.4"/>
<line x1="395.95" y1="437.12" x2="395.95" y2="435.21" stroke="#333" stroke-width="0.8" />
<line x1="393.35" y1="435.21" x2="398.55" y2="435.21" stroke="#333" stroke-width="0.8" />
<rect x="391.20" y="437.12" width="9.50" height="9.88" fill="#3cb23f" stroke="rgba(0,0,0,0.25)" stroke-width="0.4"/>
<line x1="410.35" y1="385.16" x2="410.35" y2="378.26" stroke="#333" stroke-width="0.8" />
<line x1="407.75" y1="378.26" x2="412.95" y2="378.26" stroke="#333" stroke-width="0.8" />
<rect x="405.60" y="385.16" width="9.50" height="61.84" fill="#5a2470" stroke="rgba(0,0,0,0.25)" stroke-width="0.4"/>
<line x1="291.70" y1="359.60" x2="291.70" y2="447.50" stroke="#333" stroke-width="1" />
<line x1="291.20" y1="447.00" x2="419.30" y2="447.00" stroke="#333" stroke-width="1" />
<line x1="288.30" y1="447.00" x2="291.70" y2="447.00" stroke="#333" stroke-width="1.0" />
<text x="285.40" y="449.10" font-size="6.1" fill="#333" text-anchor="end" >0</text>
<line x1="288.30" y1="425.75" x2="291.70" y2="425.75" stroke="#333" stroke-width="1.0" />
<text x="285.40" y="427.85" font-size="6.1" fill="#333" text-anchor="end" >20</text>
<line x1="288.30" y1="404.50" x2="291.70" y2="404.50" stroke="#333" stroke-width="1.0" />
<text x="285.40" y="406.60" font-size="6.1" fill="#333" text-anchor="end" >40</text>
<line x1="288.30" y1="383.25" x2="291.70" y2="383.25" stroke="#333" stroke-width="1.0" />
<text x="285.40" y="385.35" font-size="6.1" fill="#333" text-anchor="end" >60</text>
<line x1="288.30" y1="362.00" x2="291.70" y2="362.00" stroke="#333" stroke-width="1.0" />
<text x="285.40" y="364.10" font-size="6.1" fill="#333" text-anchor="end" >80</text>
<line x1="322.25" y1="447.00" x2="322.25" y2="449.20" stroke="#333" stroke-width="0.8" />
<text x="322.25" y="459.00" font-size="5.8" fill="#333" text-anchor="middle" textLength="15.00" lengthAdjust="spacingAndGlyphs" >shNC</text>
<line x1="388.65" y1="447.00" x2="388.65" y2="449.20" stroke="#333" stroke-width="0.8" />
<text x="388.65" y="459.00" font-size="5.8" fill="#333" text-anchor="middle" textLength="27.80" lengthAdjust="spacingAndGlyphs" >shTRIM21</text>
<text x="272.60" y="403.00" font-size="5.7" fill="#333" text-anchor="middle" textLength="30.50" lengthAdjust="spacingAndGlyphs" transform="rotate(-90 272.60 403.00)" >% apoptosis</text>
<path d="M380.60,388.70V367.60H410.10V373.80" fill="none" stroke="#333" stroke-width="0.9"/>
<text x="395.75" y="367.80" font-size="6.6" fill="#222" text-anchor="middle" font-weight="bold" >***</text>
<rect x="428.00" y="384.70" width="5.90" height="5.60" fill="#d2142f" />
<text x="437.00" y="389.50" font-size="5.5" fill="#333" textLength="30.30" lengthAdjust="spacingAndGlyphs" >shNC Bort 0</text>
<rect x="428.00" y="394.90" width="5.90" height="5.60" fill="#1b4f8e" />
<text x="437.00" y="399.70" font-size="5.5" fill="#333" textLength="30.30" lengthAdjust="spacingAndGlyphs" >shNC Bort 5</text>
<rect x="428.00" y="405.10" width="5.90" height="5.60" fill="#3cb23f" />
<text x="437.00" y="409.90" font-size="5.5" fill="#333" textLength="35.80" lengthAdjust="spacingAndGlyphs" >shATG5 Bort 0</text>
<rect x="428.00" y="415.30" width="5.90" height="5.60" fill="#5a2470" />
<text x="437.00" y="420.10" font-size="5.5" fill="#333" textLength="35.80" lengthAdjust="spacingAndGlyphs" >shATG5 Bort 5</text>
<text x="125.40" y="482.70" font-size="8.3" fill="#222" text-anchor="middle" textLength="18.40" lengthAdjust="spacingAndGlyphs" >JJN3</text>
<line x1="70.75" y1="564.85" x2="70.75" y2="561.73" stroke="#333" stroke-width="0.8" />
<line x1="68.15" y1="561.73" x2="73.35" y2="561.73" stroke="#333" stroke-width="0.8" />
<rect x="66.00" y="564.85" width="9.50" height="11.05" fill="#d2142f" stroke="rgba(0,0,0,0.25)" stroke-width="0.4"/>
<line x1="85.15" y1="507.76" x2="85.15" y2="504.92" stroke="#333" stroke-width="0.8" />
<line x1="82.55" y1="504.92" x2="87.75" y2="504.92" stroke="#333" stroke-width="0.8" />
<rect x="80.40" y="507.76" width="9.50" height="68.14" fill="#1b4f8e" stroke="rgba(0,0,0,0.25)" stroke-width="0.4"/>
<line x1="99.55" y1="544.73" x2="99.55" y2="541.90" stroke="#333" stroke-width="0.8" />
<line x1="96.95" y1="541.90" x2="102.15" y2="541.90" stroke="#333" stroke-width="0.8" />
<rect x="94.80" y="544.73" width="9.50" height="31.17" fill="#3cb23f" stroke="rgba(0,0,0,0.25)" stroke-width="0.4"/>
<line x1="113.95" y1="506.06" x2="113.95" y2="503.08" stroke="#333" stroke-width="0.8" />
<line x1="111.35" y1="503.08" x2="116.55" y2="503.08" stroke="#333" stroke-width="0.8" />
<rect x="109.20" y="506.06" width="9.50" height="69.84" fill="#5a2470" stroke="rgba(0,0,0,0.25)" stroke-width="0.4"/>
<line x1="137.15" y1="561.02" x2="137.15" y2="558.76" stroke="#333" stroke-width="0.8" />
<line x1="134.55" y1="558.76" x2="139.75" y2="558.76" stroke="#333" stroke-width="0.8" />
<rect x="132.40" y="561.02" width="9.50" height="14.88" fill="#d2142f" stroke="rgba(0,0,0,0.25)" stroke-width="0.4"/>
<line x1="151.55" y1="527.17" x2="151.55" y2="526.88" stroke="#333" stroke-width="0.8" />
<line x1="148.95" y1="526.88" x2="154.15" y2="526.88" stroke="#333" stroke-width="0.8" />
<rect x="146.80" y="527.17" width="9.50" height="48.73" fill="#1b4f8e" stroke="rgba(0,0,0,0.25)" stroke-width="0.4"/>
<line x1="165.95" y1="549.27" x2="165.95" y2="546.72" stroke="#333" stroke-width="0.8" />
<line x1="163.35" y1="546.72" x2="168.55" y2="546.72" stroke="#333" stroke-width="0.8" />
<rect x="161.20" y="549.27" width="9.50" height="26.63" fill="#3cb23f" stroke="rgba(0,0,0,0.25)" stroke-width="0.4"/>
<line x1="180.35" y1="509.74" x2="180.35" y2="507.47" stroke="#333" stroke-width="0.8" />
<line x1="177.75" y1="507.47" x2="182.95" y2="507.47" stroke="#333" stroke-width="0.8" />
<rect x="175.60" y="509.74" width="9.50" height="66.16" fill="#5a2470" stroke="rgba(0,0,0,0.25)" stroke-width="0.4"/>
<line x1="61.70" y1="488.50" x2="61.70" y2="576.40" stroke="#333" stroke-width="1" />
<line x1="61.20" y1="575.90" x2="189.30" y2="575.90" stroke="#333" stroke-width="1" />
<line x1="58.30" y1="575.90" x2="61.70" y2="575.90" stroke="#333" stroke-width="1.0" />
<text x="55.40" y="578.00" font-size="6.1" fill="#333" text-anchor="end" >0</text>
<line x1="58.30" y1="547.57" x2="61.70" y2="547.57" stroke="#333" stroke-width="1.0" />
<text x="55.40" y="549.67" font-size="6.1" fill="#333" text-anchor="end" >20</text>
<line x1="58.30" y1="519.23" x2="61.70" y2="519.23" stroke="#333" stroke-width="1.0" />
<text x="55.40" y="521.33" font-size="6.1" fill="#333" text-anchor="end" >40</text>
<line x1="58.30" y1="490.90" x2="61.70" y2="490.90" stroke="#333" stroke-width="1.0" />
<text x="55.40" y="493.00" font-size="6.1" fill="#333" text-anchor="end" >60</text>
<line x1="92.25" y1="575.90" x2="92.25" y2="578.10" stroke="#333" stroke-width="0.8" />
<text x="92.25" y="587.90" font-size="5.8" fill="#333" text-anchor="middle" textLength="15.00" lengthAdjust="spacingAndGlyphs" >shNC</text>
<line x1="158.65" y1="575.90" x2="158.65" y2="578.10" stroke="#333" stroke-width="0.8" />
<text x="158.65" y="587.90" font-size="5.8" fill="#333" text-anchor="middle" textLength="27.80" lengthAdjust="spacingAndGlyphs" >shTRIM21</text>
<text x="42.60" y="531.90" font-size="5.7" fill="#333" text-anchor="middle" textLength="30.50" lengthAdjust="spacingAndGlyphs" transform="rotate(-90 42.60 531.90)" >% apoptosis</text>
<path d="M150.60,512.40V492.00H180.10V497.80" fill="none" stroke="#333" stroke-width="0.9"/>
<text x="165.75" y="492.20" font-size="6.6" fill="#222" text-anchor="middle" font-weight="bold" >***</text>
<rect x="198.00" y="513.60" width="5.90" height="5.60" fill="#d2142f" />
<text x="207.00" y="518.40" font-size="5.5" fill="#333" textLength="30.30" lengthAdjust="spacingAndGlyphs" >shNC Bort 0</text>
<rect x="198.00" y="523.80" width="5.90" height="5.60" fill="#1b4f8e" />
<text x="207.00" y="528.60" font-size="5.5" fill="#333" textLength="30.30" lengthAdjust="spacingAndGlyphs" >shNC Bort 5</text>
<rect x="198.00" y="534.00" width="5.90" height="5.60" fill="#3cb23f" />
<text x="207.00" y="538.80" font-size="5.5" fill="#333" textLength="35.80" lengthAdjust="spacingAndGlyphs" >shATG5 Bort 0</text>
<rect x="198.00" y="544.20" width="5.90" height="5.60" fill="#5a2470" />
<text x="207.00" y="549.00" font-size="5.5" fill="#333" textLength="35.80" lengthAdjust="spacingAndGlyphs" >shATG5 Bort 5</text>
<text x="355.40" y="482.70" font-size="8.3" fill="#222" text-anchor="middle" textLength="23.70" lengthAdjust="spacingAndGlyphs" >ARP-1</text>
<line x1="300.75" y1="562.62" x2="300.75" y2="561.45" stroke="#333" stroke-width="0.8" />
<line x1="298.15" y1="561.45" x2="303.35" y2="561.45" stroke="#333" stroke-width="0.8" />
<rect x="296.00" y="562.62" width="9.50" height="13.28" fill="#d2142f" stroke="rgba(0,0,0,0.25)" stroke-width="0.4"/>
<line x1="315.15" y1="523.41" x2="315.15" y2="521.39" stroke="#333" stroke-width="0.8" />
<line x1="312.55" y1="521.39" x2="317.75" y2="521.39" stroke="#333" stroke-width="0.8" />
<rect x="310.40" y="523.41" width="9.50" height="52.49" fill="#1b4f8e" stroke="rgba(0,0,0,0.25)" stroke-width="0.4"/>
<line x1="329.55" y1="554.65" x2="329.55" y2="553.16" stroke="#333" stroke-width="0.8" />
<line x1="326.95" y1="553.16" x2="332.15" y2="553.16" stroke="#333" stroke-width="0.8" />
<rect x="324.80" y="554.65" width="9.50" height="21.25" fill="#3cb23f" stroke="rgba(0,0,0,0.25)" stroke-width="0.4"/>
<line x1="343.95" y1="505.14" x2="343.95" y2="502.69" stroke="#333" stroke-width="0.8" />
<line x1="341.35" y1="502.69" x2="346.55" y2="502.69" stroke="#333" stroke-width="0.8" />
<rect x="339.20" y="505.14" width="9.50" height="70.76" fill="#5a2470" stroke="rgba(0,0,0,0.25)" stroke-width="0.4"/>
<rect x="362.40" y="560.92" width="9.50" height="14.98" fill="#d2142f" stroke="rgba(0,0,0,0.25)" stroke-width="0.4"/>
<line x1="381.55" y1="533.40" x2="381.55" y2="531.91" stroke="#333" stroke-width="0.8" />
<line x1="378.95" y1="531.91" x2="384.15" y2="531.91" stroke="#333" stroke-width="0.8" />
<rect x="376.80" y="533.40" width="9.50" height="42.50" fill="#1b4f8e" stroke="rgba(0,0,0,0.25)" stroke-width="0.4"/>
<line x1="395.95" y1="543.39" x2="395.95" y2="542.96" stroke="#333" stroke-width="0.8" />
<line x1="393.35" y1="542.96" x2="398.55" y2="542.96" stroke="#333" stroke-width="0.8" />
<rect x="391.20" y="543.39" width="9.50" height="32.51" fill="#3cb23f" stroke="rgba(0,0,0,0.25)" stroke-width="0.4"/>
<line x1="410.35" y1="501.95" x2="410.35" y2="500.89" stroke="#333" stroke-width="0.8" />
<line x1="407.75" y1="500.89" x2="412.95" y2="500.89" stroke="#333" stroke-width="0.8" />
<rect x="405.60" y="501.95" width="9.50" height="73.95" fill="#5a2470" stroke="rgba(0,0,0,0.25)" stroke-width="0.4"/>
<line x1="291.70" y1="488.50" x2="291.70" y2="576.40" stroke="#333" stroke-width="1" />
<line x1="291.20" y1="575.90" x2="419.30" y2="575.90" stroke="#333" stroke-width="1" />
<line x1="288.30" y1="575.90" x2="291.70" y2="575.90" stroke="#333" stroke-width="1.0" />
<text x="285.40" y="578.00" font-size="6.1" fill="#333" text-anchor="end" >0</text>
<line x1="288.30" y1="554.65" x2="291.70" y2="554.65" stroke="#333" stroke-width="1.0" />
<text x="285.40" y="556.75" font-size="6.1" fill="#333" text-anchor="end" >20</text>
<line x1="288.30" y1="533.40" x2="291.70" y2="533.40" stroke="#333" stroke-width="1.0" />
<text x="285.40" y="535.50" font-size="6.1" fill="#333" text-anchor="end" >40</text>
<line x1="288.30" y1="512.15" x2="291.70" y2="512.15" stroke="#333" stroke-width="1.0" />
<text x="285.40" y="514.25" font-size="6.1" fill="#333" text-anchor="end" >60</text>
<line x1="288.30" y1="490.90" x2="291.70" y2="490.90" stroke="#333" stroke-width="1.0" />
<text x="285.40" y="493.00" font-size="6.1" fill="#333" text-anchor="end" >80</text>
<line x1="322.25" y1="575.90" x2="322.25" y2="578.10" stroke="#333" stroke-width="0.8" />
<text x="322.25" y="587.90" font-size="5.8" fill="#333" text-anchor="middle" textLength="15.00" lengthAdjust="spacingAndGlyphs" >shNC</text>
<line x1="388.65" y1="575.90" x2="388.65" y2="578.10" stroke="#333" stroke-width="0.8" />
<text x="388.65" y="587.90" font-size="5.8" fill="#333" text-anchor="middle" textLength="27.80" lengthAdjust="spacingAndGlyphs" >shTRIM21</text>
<text x="272.60" y="531.90" font-size="5.7" fill="#333" text-anchor="middle" textLength="30.50" lengthAdjust="spacingAndGlyphs" transform="rotate(-90 272.60 531.90)" >% apoptosis</text>
<path d="M380.60,512.40V491.70H410.10V497.60" fill="none" stroke="#333" stroke-width="0.9"/>
<text x="395.75" y="491.90" font-size="6.6" fill="#222" text-anchor="middle" font-weight="bold" >***</text>
<rect x="428.00" y="513.60" width="5.90" height="5.60" fill="#d2142f" />
<text x="437.00" y="518.40" font-size="5.5" fill="#333" textLength="30.30" lengthAdjust="spacingAndGlyphs" >shNC Bort 0</text>
<rect x="428.00" y="523.80" width="5.90" height="5.60" fill="#1b4f8e" />
<text x="437.00" y="528.60" font-size="5.5" fill="#333" textLength="30.30" lengthAdjust="spacingAndGlyphs" >shNC Bort 5</text>
<rect x="428.00" y="534.00" width="5.90" height="5.60" fill="#3cb23f" />
<text x="437.00" y="538.80" font-size="5.5" fill="#333" textLength="35.80" lengthAdjust="spacingAndGlyphs" >shATG5 Bort 0</text>
<rect x="428.00" y="544.20" width="5.90" height="5.60" fill="#5a2470" />
<text x="437.00" y="549.00" font-size="5.5" fill="#333" textLength="35.80" lengthAdjust="spacingAndGlyphs" >shATG5 Bort 5</text>
</svg>
</body></html>
